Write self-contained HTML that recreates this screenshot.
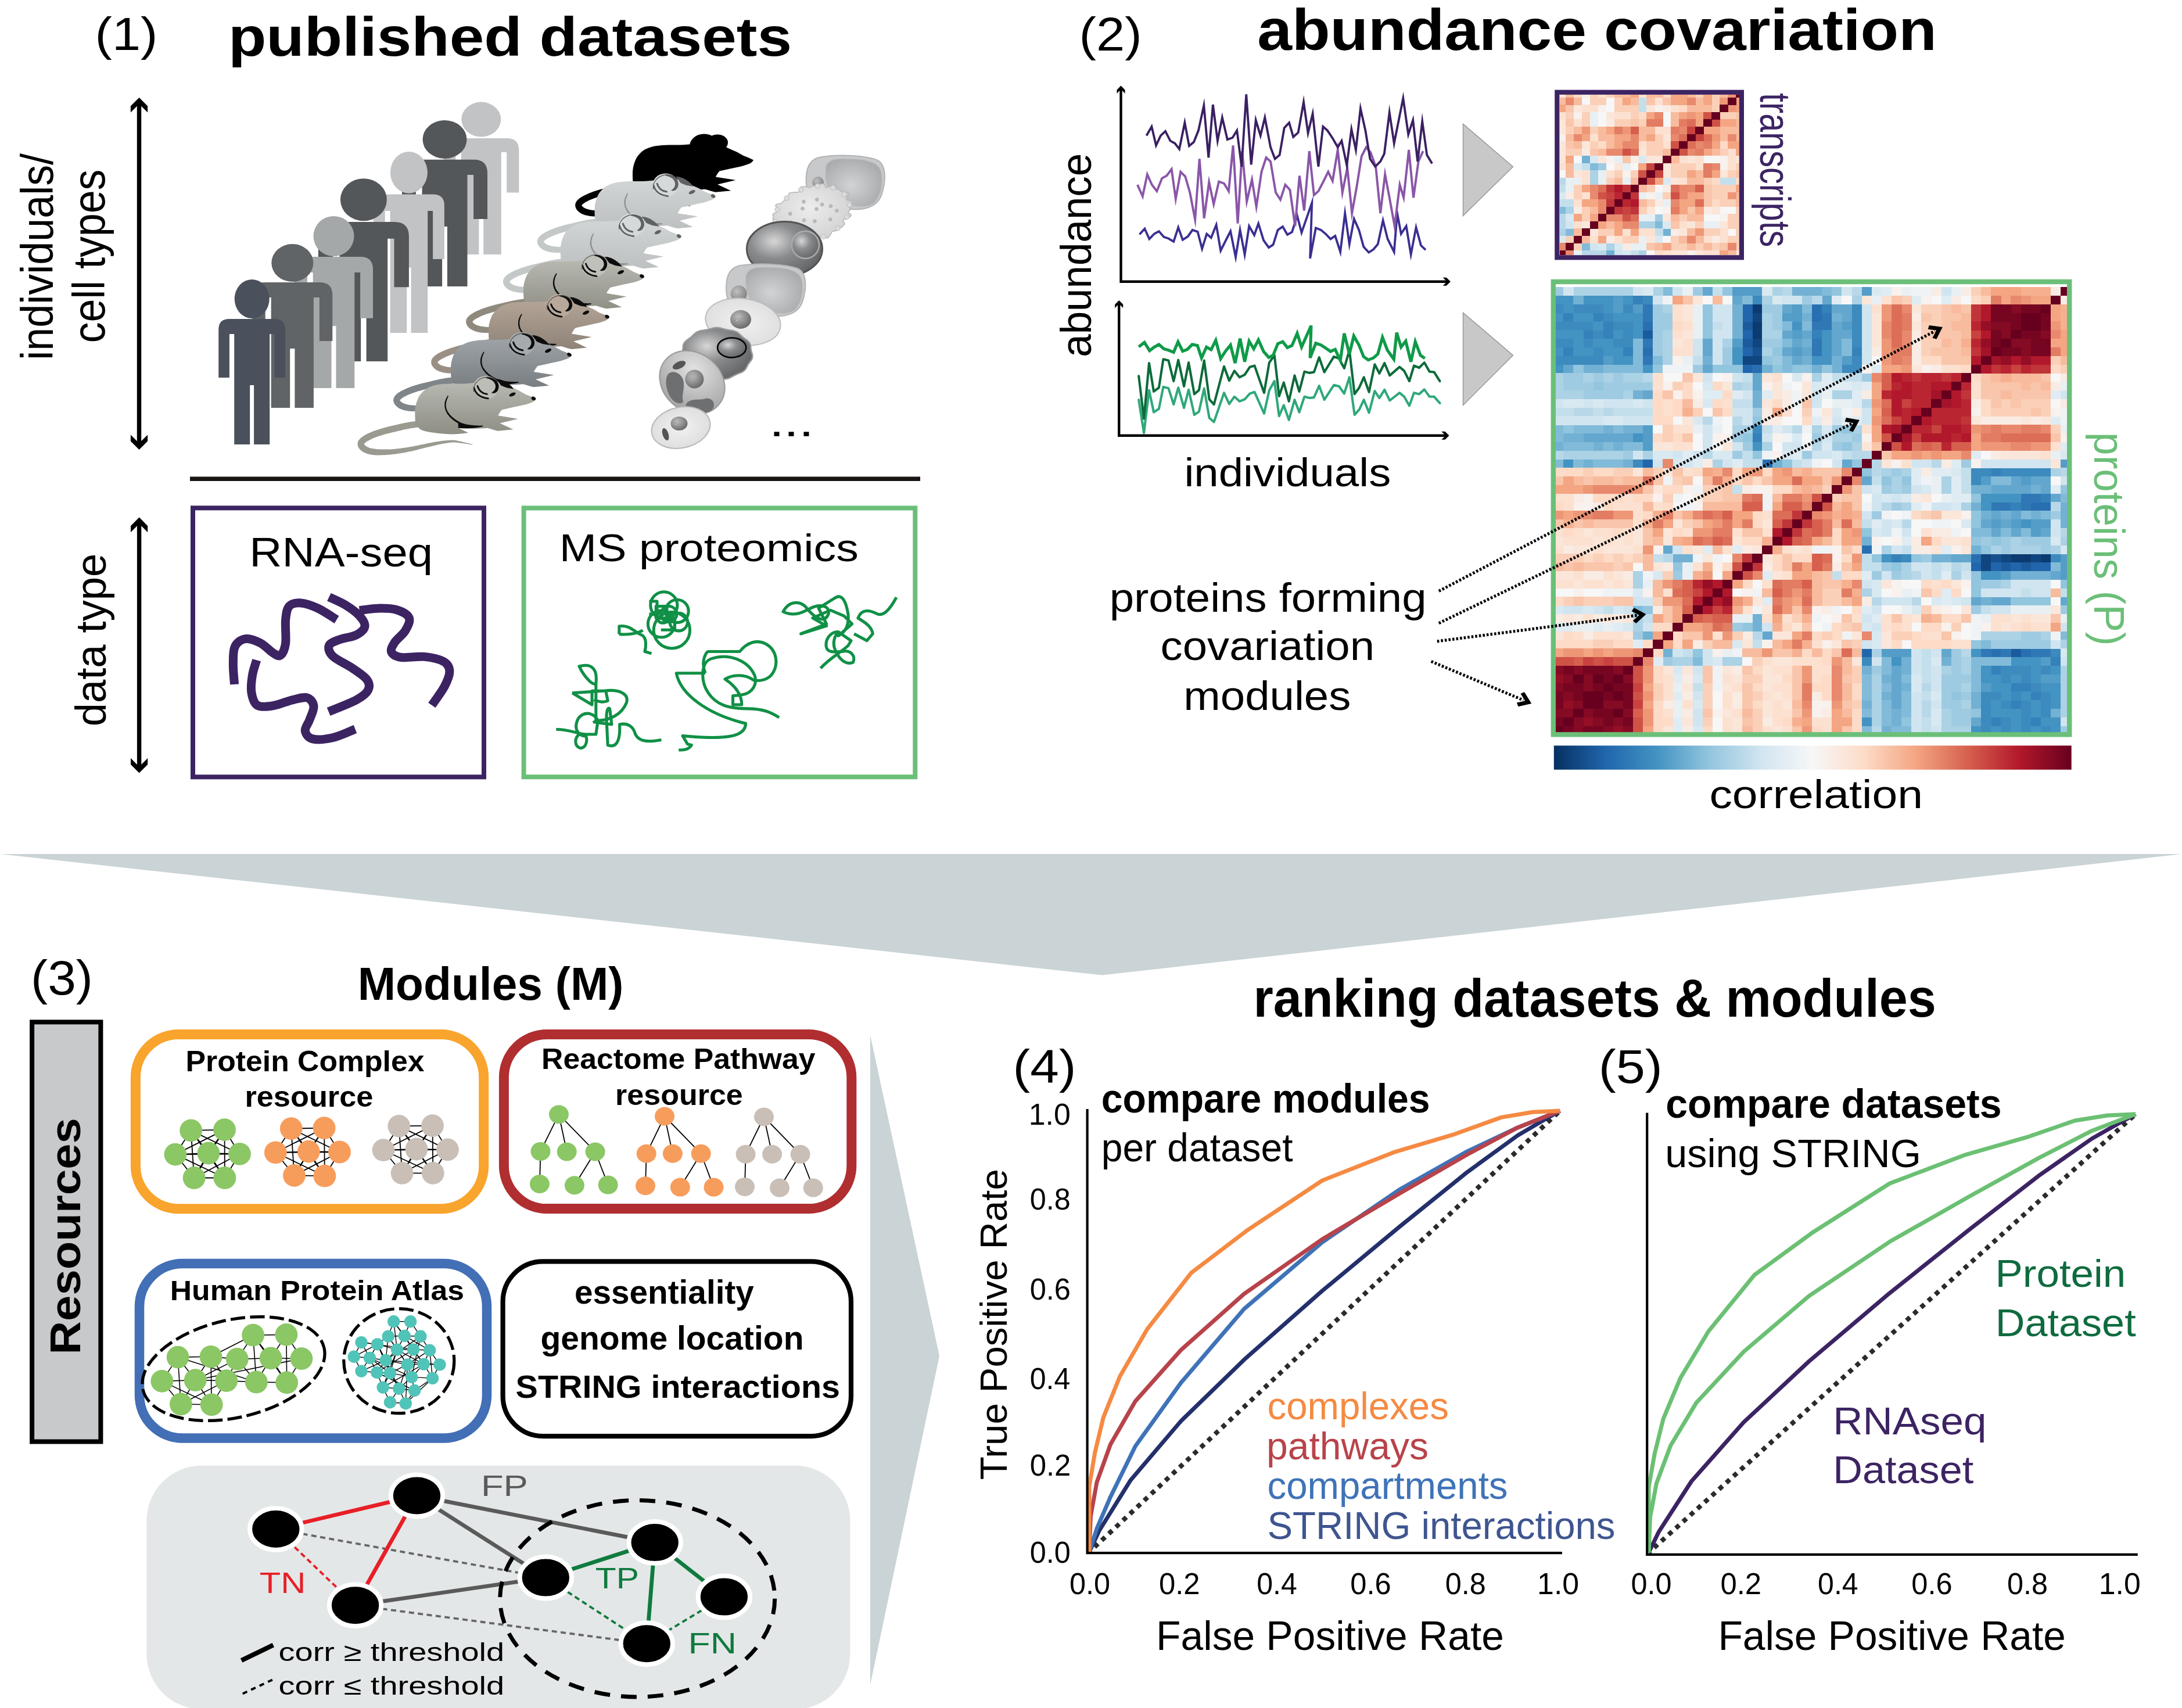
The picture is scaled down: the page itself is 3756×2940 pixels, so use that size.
<!DOCTYPE html>
<html><head><meta charset="utf-8"><title>figure</title>
<style>html,body{margin:0;padding:0;background:#fff}svg{display:block}text{font-family:"Liberation Sans",sans-serif}</style></head>
<body><svg width="3756" height="2940" viewBox="0 0 3756 2940">
<defs><linearGradient id="mLight" x1="0" y1="0" x2="0" y2="1"><stop offset="0" stop-color="#d3d6d6"/><stop offset="1" stop-color="#bcbfbf"/></linearGradient><linearGradient id="mBeige" x1="0" y1="0" x2="0" y2="1"><stop offset="0" stop-color="#b9bab3"/><stop offset="1" stop-color="#8e8e84"/></linearGradient><linearGradient id="mTan" x1="0" y1="0" x2="0" y2="1"><stop offset="0" stop-color="#b5a697"/><stop offset="1" stop-color="#8c8076"/></linearGradient><linearGradient id="mBlue" x1="0" y1="0" x2="0" y2="1"><stop offset="0" stop-color="#a0a5a9"/><stop offset="1" stop-color="#767b80"/></linearGradient><radialGradient id="cDark" cx="0.36" cy="0.36" r="0.7"><stop offset="0" stop-color="#d6d6d6"/><stop offset="0.45" stop-color="#8a8b8d"/><stop offset="1" stop-color="#636466"/></radialGradient><radialGradient id="cDome" cx="0.45" cy="0.55" r="0.6"><stop offset="0" stop-color="#d2d3d4"/><stop offset="1" stop-color="#a9aaac"/></radialGradient><radialGradient id="cLight" cx="0.5" cy="0.5" r="0.6"><stop offset="0" stop-color="#f1f1f1"/><stop offset="1" stop-color="#dcdcdc"/></radialGradient><radialGradient id="cNuc" cx="0.38" cy="0.35" r="0.7"><stop offset="0" stop-color="#bdbdbd"/><stop offset="1" stop-color="#666"/></radialGradient><radialGradient id="cMac" cx="0.4" cy="0.3" r="0.8"><stop offset="0" stop-color="#e2e2e2"/><stop offset="1" stop-color="#9c9c9c"/></radialGradient><radialGradient id="cSpk" cx="0.45" cy="0.4" r="0.7"><stop offset="0" stop-color="#ececec"/><stop offset="1" stop-color="#cdcdcd"/></radialGradient><linearGradient id="cbar" x1="0" y1="0" x2="1" y2="0"><stop offset="0.00" stop-color="#053061"/><stop offset="0.10" stop-color="#2166ac"/><stop offset="0.20" stop-color="#4393c3"/><stop offset="0.30" stop-color="#92c5de"/><stop offset="0.40" stop-color="#d1e5f0"/><stop offset="0.50" stop-color="#f7f7f7"/><stop offset="0.60" stop-color="#fddbc7"/><stop offset="0.70" stop-color="#f4a582"/><stop offset="0.80" stop-color="#d6604d"/><stop offset="0.90" stop-color="#b2182b"/><stop offset="1.00" stop-color="#67001f"/></linearGradient></defs>
<path d="M0,1470H3756L1897,1678.5Z" fill="#cad3d5"/>
<path d="M1498,1782L1617,2334L1498,2900Z" fill="#cad3d5"/>
<text x="53.1" y="1711.5" font-size="83" textLength="106.8" lengthAdjust="spacingAndGlyphs">(3)</text>
<text x="615.7" y="1721" font-size="80.6" font-weight="bold" textLength="457.7" lengthAdjust="spacingAndGlyphs">Modules (M)</text>
<rect x="55.1" y="1759.3" width="118.3" height="722.2" fill="#c8c9cb" stroke="#000" stroke-width="8"/><text transform="translate(138.2,2331.4) rotate(-90)" font-size="75" font-weight="bold" textLength="407.2" lengthAdjust="spacingAndGlyphs">Resources</text>
<rect x="233.4" y="1780.4" width="599.3" height="300.3" rx="74" fill="#fff" stroke="#f8a42d" stroke-width="17"/><rect x="867.4" y="1780.5" width="598.4" height="300.1" rx="74" fill="#fff" stroke="#b02e30" stroke-width="17"/><rect x="240" y="2174.9" width="598" height="300.7" rx="74" fill="#fff" stroke="#426fb5" stroke-width="16.5"/><rect x="865.6" y="2171.4" width="599.4" height="300.7" rx="69" fill="#fff" stroke="#000" stroke-width="8.2"/>
<text x="319.6" y="1844" font-size="50.7" font-weight="bold" textLength="410.9" lengthAdjust="spacingAndGlyphs">Protein Complex</text>
<text x="421.4" y="1905.4" font-size="50.7" font-weight="bold" textLength="221.0" lengthAdjust="spacingAndGlyphs">resource</text>
<text x="932.1" y="1840" font-size="50" font-weight="bold" textLength="471.5" lengthAdjust="spacingAndGlyphs">Reactome Pathway</text>
<text x="1059.1" y="1901.7" font-size="50" font-weight="bold" textLength="219.7" lengthAdjust="spacingAndGlyphs">resource</text>
<text x="292.8" y="2237.6" font-size="49" font-weight="bold" textLength="506.3" lengthAdjust="spacingAndGlyphs">Human Protein Atlas</text>
<text x="989.0" y="2244" font-size="56.5" font-weight="bold" textLength="308.8" lengthAdjust="spacingAndGlyphs">essentiality</text>
<text x="930.5" y="2322.9" font-size="56.5" font-weight="bold" textLength="453.0" lengthAdjust="spacingAndGlyphs">genome location</text>
<text x="887.6" y="2405.6" font-size="55" font-weight="bold" textLength="558.3" lengthAdjust="spacingAndGlyphs">STRING interactions</text>
<g stroke="#000" stroke-width="1.8"><path d="M328.7,1945.9L386.5,1944.6"/><path d="M386.5,1944.6L412.5,1986.3"/><path d="M412.5,1986.3L386.9,2027.5"/><path d="M386.9,2027.5L334.1,2027.5"/><path d="M334.1,2027.5L301.9,1987.1"/><path d="M301.9,1987.1L328.7,1945.9"/><path d="M328.7,1945.9L412.5,1986.3"/><path d="M328.7,1945.9L386.9,2027.5"/><path d="M386.5,1944.6L301.9,1987.1"/><path d="M386.5,1944.6L334.1,2027.5"/><path d="M301.9,1987.1L386.9,2027.5"/><path d="M412.5,1986.3L334.1,2027.5"/><path d="M328.7,1945.9L334.1,2027.5"/><path d="M386.5,1944.6L386.9,2027.5"/><path d="M301.9,1987.1L412.5,1986.3"/><path d="M358.9,1985L328.7,1945.9"/><path d="M358.9,1985L386.5,1944.6"/><path d="M358.9,1985L301.9,1987.1"/><path d="M358.9,1985L412.5,1986.3"/><path d="M358.9,1985L334.1,2027.5"/><path d="M358.9,1985L386.9,2027.5"/></g><g fill="#8bc765"><circle cx="328.7" cy="1945.9" r="19.4"/><circle cx="386.5" cy="1944.6" r="19.4"/><circle cx="301.9" cy="1987.1" r="19.4"/><circle cx="358.9" cy="1985" r="19.4"/><circle cx="412.5" cy="1986.3" r="19.4"/><circle cx="334.1" cy="2027.5" r="19.4"/><circle cx="386.9" cy="2027.5" r="19.4"/></g>
<g stroke="#000" stroke-width="1.8"><path d="M501.2,1942.6L558.1,1941.7"/><path d="M558.1,1941.7L584.5,1983"/><path d="M584.5,1983L558.9,2024.2"/><path d="M558.9,2024.2L506.5,2023.4"/><path d="M506.5,2023.4L474.3,1983.8"/><path d="M474.3,1983.8L501.2,1942.6"/><path d="M501.2,1942.6L584.5,1983"/><path d="M501.2,1942.6L558.9,2024.2"/><path d="M558.1,1941.7L474.3,1983.8"/><path d="M558.1,1941.7L506.5,2023.4"/><path d="M474.3,1983.8L558.9,2024.2"/><path d="M584.5,1983L506.5,2023.4"/><path d="M501.2,1942.6L506.5,2023.4"/><path d="M558.1,1941.7L558.9,2024.2"/><path d="M474.3,1983.8L584.5,1983"/><path d="M531.3,1982.2L501.2,1942.6"/><path d="M531.3,1982.2L558.1,1941.7"/><path d="M531.3,1982.2L474.3,1983.8"/><path d="M531.3,1982.2L584.5,1983"/><path d="M531.3,1982.2L506.5,2023.4"/><path d="M531.3,1982.2L558.9,2024.2"/></g><g fill="#f79d5c"><circle cx="501.2" cy="1942.6" r="19.4"/><circle cx="558.1" cy="1941.7" r="19.4"/><circle cx="474.3" cy="1983.8" r="19.4"/><circle cx="531.3" cy="1982.2" r="19.4"/><circle cx="584.5" cy="1983" r="19.4"/><circle cx="506.5" cy="2023.4" r="19.4"/><circle cx="558.9" cy="2024.2" r="19.4"/></g>
<g stroke="#000" stroke-width="1.8"><path d="M686.8,1938.4L744.5,1937.6"/><path d="M744.5,1937.6L770.5,1978.9"/><path d="M770.5,1978.9L745.3,2019.3"/><path d="M745.3,2019.3L692.1,2019.3"/><path d="M692.1,2019.3L660,1979.7"/><path d="M660,1979.7L686.8,1938.4"/><path d="M686.8,1938.4L770.5,1978.9"/><path d="M686.8,1938.4L745.3,2019.3"/><path d="M744.5,1937.6L660,1979.7"/><path d="M744.5,1937.6L692.1,2019.3"/><path d="M660,1979.7L745.3,2019.3"/><path d="M770.5,1978.9L692.1,2019.3"/><path d="M686.8,1938.4L692.1,2019.3"/><path d="M744.5,1937.6L745.3,2019.3"/><path d="M660,1979.7L770.5,1978.9"/><path d="M716.9,1978L686.8,1938.4"/><path d="M716.9,1978L744.5,1937.6"/><path d="M716.9,1978L660,1979.7"/><path d="M716.9,1978L770.5,1978.9"/><path d="M716.9,1978L692.1,2019.3"/><path d="M716.9,1978L745.3,2019.3"/></g><g fill="#c9bfb6"><circle cx="686.8" cy="1938.4" r="19.4"/><circle cx="744.5" cy="1937.6" r="19.4"/><circle cx="660" cy="1979.7" r="19.4"/><circle cx="716.9" cy="1978" r="19.4"/><circle cx="770.5" cy="1978.9" r="19.4"/><circle cx="692.1" cy="2019.3" r="19.4"/><circle cx="745.3" cy="2019.3" r="19.4"/></g>
<g stroke="#000" stroke-width="1.8"><path d="M961.9,1918.2L930.5,1981.9"/><path d="M961.9,1918.2L975.7,1982.5"/><path d="M961.9,1918.2L1024.6,1982.5"/><path d="M930.5,1981.9L928.9,2038"/><path d="M1024.6,1982.5L988.9,2040.3"/><path d="M1024.6,1982.5L1046.7,2039.6"/></g><g fill="#8bc765"><ellipse cx="961.9" cy="1918.2" rx="17" ry="16"/><ellipse cx="930.5" cy="1981.9" rx="17" ry="16"/><ellipse cx="975.7" cy="1982.5" rx="17" ry="16"/><ellipse cx="1024.6" cy="1982.5" rx="17" ry="16"/><ellipse cx="928.9" cy="2038" rx="17" ry="16"/><ellipse cx="988.9" cy="2040.3" rx="17" ry="16"/><ellipse cx="1046.7" cy="2039.6" rx="17" ry="16"/></g>
<g stroke="#000" stroke-width="1.8"><path d="M1144,1921.5L1112.7,1985.8"/><path d="M1144,1921.5L1157.9,1985.8"/><path d="M1144,1921.5L1206.7,1985.8"/><path d="M1112.7,1985.8L1111,2041.3"/><path d="M1206.7,1985.8L1170.8,2043.6"/><path d="M1206.7,1985.8L1228.5,2043.6"/></g><g fill="#f79d5c"><ellipse cx="1144" cy="1921.5" rx="17" ry="16"/><ellipse cx="1112.7" cy="1985.8" rx="17" ry="16"/><ellipse cx="1157.9" cy="1985.8" rx="17" ry="16"/><ellipse cx="1206.7" cy="1985.8" rx="17" ry="16"/><ellipse cx="1111" cy="2041.3" rx="17" ry="16"/><ellipse cx="1170.8" cy="2043.6" rx="17" ry="16"/><ellipse cx="1228.5" cy="2043.6" rx="17" ry="16"/></g>
<g stroke="#000" stroke-width="1.8"><path d="M1315,1922.5L1283.6,1986.8"/><path d="M1315,1922.5L1329.1,1986.8"/><path d="M1315,1922.5L1377.6,1986.8"/><path d="M1283.6,1986.8L1282,2042.9"/><path d="M1377.6,1986.8L1342,2044.6"/><path d="M1377.6,1986.8L1399.8,2044.6"/></g><g fill="#c9bfb6"><ellipse cx="1315" cy="1922.5" rx="17" ry="16"/><ellipse cx="1283.6" cy="1986.8" rx="17" ry="16"/><ellipse cx="1329.1" cy="1986.8" rx="17" ry="16"/><ellipse cx="1377.6" cy="1986.8" rx="17" ry="16"/><ellipse cx="1282" cy="2042.9" rx="17" ry="16"/><ellipse cx="1342" cy="2044.6" rx="17" ry="16"/><ellipse cx="1399.8" cy="2044.6" rx="17" ry="16"/></g>
<g stroke="#000" stroke-width="1.6"><path d="M435.6,2298.2L492.9,2297.4"/><path d="M435.6,2298.2L363,2335.3"/><path d="M435.6,2298.2L408.3,2339.4"/><path d="M435.6,2298.2L466.1,2337.8"/><path d="M435.6,2298.2L441.3,2379"/><path d="M435.6,2298.2L493.7,2379.9"/><path d="M492.9,2297.4L466.1,2337.8"/><path d="M492.9,2297.4L518.9,2338.6"/><path d="M492.9,2297.4L493.7,2379.9"/><path d="M306.1,2336.1L363,2335.3"/><path d="M306.1,2336.1L278.8,2377.4"/><path d="M306.1,2336.1L336.2,2375.7"/><path d="M306.1,2336.1L441.3,2379"/><path d="M306.1,2336.1L311.4,2417"/><path d="M363,2335.3L408.3,2339.4"/><path d="M363,2335.3L336.2,2375.7"/><path d="M363,2335.3L389.8,2376.6"/><path d="M363,2335.3L364.2,2417.8"/><path d="M408.3,2339.4L466.1,2337.8"/><path d="M408.3,2339.4L336.2,2375.7"/><path d="M408.3,2339.4L389.8,2376.6"/><path d="M408.3,2339.4L441.3,2379"/><path d="M466.1,2337.8L518.9,2338.6"/><path d="M466.1,2337.8L441.3,2379"/><path d="M466.1,2337.8L493.7,2379.9"/><path d="M518.9,2338.6L336.2,2375.7"/><path d="M518.9,2338.6L493.7,2379.9"/><path d="M278.8,2377.4L336.2,2375.7"/><path d="M278.8,2377.4L311.4,2417"/><path d="M278.8,2377.4L364.2,2417.8"/><path d="M336.2,2375.7L389.8,2376.6"/><path d="M336.2,2375.7L311.4,2417"/><path d="M336.2,2375.7L364.2,2417.8"/><path d="M389.8,2376.6L441.3,2379"/><path d="M389.8,2376.6L311.4,2417"/><path d="M389.8,2376.6L364.2,2417.8"/><path d="M441.3,2379L493.7,2379.9"/><path d="M311.4,2417L364.2,2417.8"/></g><g fill="#8bc765"><circle cx="435.6" cy="2298.2" r="19.4"/><circle cx="492.9" cy="2297.4" r="19.4"/><circle cx="306.1" cy="2336.1" r="19.4"/><circle cx="363" cy="2335.3" r="19.4"/><circle cx="408.3" cy="2339.4" r="19.4"/><circle cx="466.1" cy="2337.8" r="19.4"/><circle cx="518.9" cy="2338.6" r="19.4"/><circle cx="278.8" cy="2377.4" r="19.4"/><circle cx="336.2" cy="2375.7" r="19.4"/><circle cx="389.8" cy="2376.6" r="19.4"/><circle cx="441.3" cy="2379" r="19.4"/><circle cx="493.7" cy="2379.9" r="19.4"/><circle cx="311.4" cy="2417" r="19.4"/><circle cx="364.2" cy="2417.8" r="19.4"/></g><ellipse cx="402" cy="2356" rx="160" ry="84" transform="rotate(-13 402 2356)" fill="none" stroke="#000" stroke-width="5.2" stroke-dasharray="25 8.5"/>
<g stroke="#000" stroke-width="1.4"><path d="M677.7,2274.7L706.6,2274.7"/><path d="M677.7,2274.7L668.2,2300.3"/><path d="M677.7,2274.7L696.3,2299.4"/><path d="M677.7,2274.7L683.5,2323.3"/><path d="M677.7,2274.7L729.3,2348.1"/><path d="M706.6,2274.7L696.3,2299.4"/><path d="M706.6,2274.7L723.9,2300.3"/><path d="M668.2,2300.3L696.3,2299.4"/><path d="M668.2,2300.3L649.6,2313.9"/><path d="M668.2,2300.3L683.5,2323.3"/><path d="M668.2,2300.3L664.1,2341.5"/><path d="M668.2,2300.3L701.2,2348.9"/><path d="M696.3,2299.4L723.9,2300.3"/><path d="M696.3,2299.4L683.5,2323.3"/><path d="M696.3,2299.4L711.5,2322.9"/><path d="M696.3,2299.4L739.6,2324.2"/><path d="M723.9,2300.3L711.5,2322.9"/><path d="M723.9,2300.3L739.6,2324.2"/><path d="M723.9,2300.3L664.1,2341.5"/><path d="M723.9,2300.3L708.6,2370.4"/><path d="M622,2310.6L649.6,2313.9"/><path d="M622,2310.6L711.5,2322.9"/><path d="M622,2310.6L609.2,2335.3"/><path d="M622,2310.6L636.4,2337.4"/><path d="M649.6,2313.9L683.5,2323.3"/><path d="M649.6,2313.9L609.2,2335.3"/><path d="M649.6,2313.9L636.4,2337.4"/><path d="M649.6,2313.9L664.1,2341.5"/><path d="M649.6,2313.9L671.5,2363.4"/><path d="M683.5,2323.3L711.5,2322.9"/><path d="M683.5,2323.3L664.1,2341.5"/><path d="M683.5,2323.3L701.2,2348.9"/><path d="M683.5,2323.3L729.3,2348.1"/><path d="M683.5,2323.3L671.5,2363.4"/><path d="M683.5,2323.3L659.1,2388.1"/><path d="M711.5,2322.9L739.6,2324.2"/><path d="M711.5,2322.9L701.2,2348.9"/><path d="M711.5,2322.9L729.3,2348.1"/><path d="M711.5,2322.9L648.8,2362.5"/><path d="M739.6,2324.2L701.2,2348.9"/><path d="M739.6,2324.2L729.3,2348.1"/><path d="M739.6,2324.2L756.9,2348.9"/><path d="M739.6,2324.2L744.5,2372.4"/><path d="M609.2,2335.3L636.4,2337.4"/><path d="M609.2,2335.3L622,2360.1"/><path d="M636.4,2337.4L664.1,2341.5"/><path d="M636.4,2337.4L622,2360.1"/><path d="M636.4,2337.4L648.8,2362.5"/><path d="M636.4,2337.4L671.5,2363.4"/><path d="M636.4,2337.4L708.6,2370.4"/><path d="M664.1,2341.5L701.2,2348.9"/><path d="M664.1,2341.5L756.9,2348.9"/><path d="M664.1,2341.5L622,2360.1"/><path d="M664.1,2341.5L648.8,2362.5"/><path d="M664.1,2341.5L671.5,2363.4"/><path d="M664.1,2341.5L686.8,2390.2"/><path d="M701.2,2348.9L729.3,2348.1"/><path d="M701.2,2348.9L671.5,2363.4"/><path d="M701.2,2348.9L708.6,2370.4"/><path d="M701.2,2348.9L686.8,2390.2"/><path d="M701.2,2348.9L698.3,2415.7"/><path d="M729.3,2348.1L756.9,2348.9"/><path d="M729.3,2348.1L708.6,2370.4"/><path d="M729.3,2348.1L744.5,2372.4"/><path d="M729.3,2348.1L659.1,2388.1"/><path d="M756.9,2348.9L744.5,2372.4"/><path d="M622,2360.1L648.8,2362.5"/><path d="M648.8,2362.5L671.5,2363.4"/><path d="M648.8,2362.5L659.1,2388.1"/><path d="M648.8,2362.5L713.6,2393.5"/><path d="M671.5,2363.4L708.6,2370.4"/><path d="M671.5,2363.4L659.1,2388.1"/><path d="M671.5,2363.4L686.8,2390.2"/><path d="M708.6,2370.4L744.5,2372.4"/><path d="M708.6,2370.4L686.8,2390.2"/><path d="M708.6,2370.4L713.6,2393.5"/><path d="M744.5,2372.4L713.6,2393.5"/><path d="M744.5,2372.4L698.3,2415.7"/><path d="M659.1,2388.1L686.8,2390.2"/><path d="M659.1,2388.1L671.5,2413.7"/><path d="M686.8,2390.2L713.6,2393.5"/><path d="M686.8,2390.2L671.5,2413.7"/><path d="M686.8,2390.2L698.3,2415.7"/><path d="M713.6,2393.5L698.3,2415.7"/><path d="M671.5,2413.7L698.3,2415.7"/></g><g fill="#50c4b8"><circle cx="677.7" cy="2274.7" r="10.7"/><circle cx="706.6" cy="2274.7" r="10.7"/><circle cx="668.2" cy="2300.3" r="10.7"/><circle cx="696.3" cy="2299.4" r="10.7"/><circle cx="723.9" cy="2300.3" r="10.7"/><circle cx="622" cy="2310.6" r="10.7"/><circle cx="649.6" cy="2313.9" r="10.7"/><circle cx="683.5" cy="2323.3" r="10.7"/><circle cx="711.5" cy="2322.9" r="10.7"/><circle cx="739.6" cy="2324.2" r="10.7"/><circle cx="609.2" cy="2335.3" r="10.7"/><circle cx="636.4" cy="2337.4" r="10.7"/><circle cx="664.1" cy="2341.5" r="10.7"/><circle cx="701.2" cy="2348.9" r="10.7"/><circle cx="729.3" cy="2348.1" r="10.7"/><circle cx="756.9" cy="2348.9" r="10.7"/><circle cx="622" cy="2360.1" r="10.7"/><circle cx="648.8" cy="2362.5" r="10.7"/><circle cx="671.5" cy="2363.4" r="10.7"/><circle cx="708.6" cy="2370.4" r="10.7"/><circle cx="744.5" cy="2372.4" r="10.7"/><circle cx="659.1" cy="2388.1" r="10.7"/><circle cx="686.8" cy="2390.2" r="10.7"/><circle cx="713.6" cy="2393.5" r="10.7"/><circle cx="671.5" cy="2413.7" r="10.7"/><circle cx="698.3" cy="2415.7" r="10.7"/></g><ellipse cx="686.8" cy="2342.7" rx="95" ry="90" fill="none" stroke="#000" stroke-width="5.2" stroke-dasharray="25 8.5"/>
<rect x="252.3" y="2522.7" width="1211.1" height="419.3" rx="95" fill="#e4e7e7"/>
<path d="M474.8,2632L939.3,2715.6" stroke="#666" stroke-width="3.8" stroke-dasharray="9 6.5" fill="none"/><path d="M611.6,2763.2L1113.3,2829.2" stroke="#666" stroke-width="3.8" stroke-dasharray="9 6.5" fill="none"/><path d="M474.8,2632L611.6,2763.2" stroke="#e81f27" stroke-width="3.8" stroke-dasharray="9 6" fill="none"/><path d="M939.3,2715.6L1113.3,2829.2" stroke="#0f7b3f" stroke-width="3.8" stroke-dasharray="9 6" fill="none"/><path d="M1246.4,2748.6L1113.3,2829.2" stroke="#0f7b3f" stroke-width="3.8" stroke-dasharray="9 6" fill="none"/><path d="M474.8,2632L717.5,2574.4" stroke="#e81f27" stroke-width="6.8" fill="none"/><path d="M717.5,2574.4L611.6,2763.2" stroke="#e81f27" stroke-width="6.8" fill="none"/><path d="M717.5,2574.4L939.3,2715.6" stroke="#5a5a5a" stroke-width="6.8" fill="none"/><path d="M717.5,2574.4L1127.2,2655.1" stroke="#5a5a5a" stroke-width="6.8" fill="none"/><path d="M611.6,2763.2L939.3,2715.6" stroke="#5a5a5a" stroke-width="6.8" fill="none"/><path d="M939.3,2715.6L1127.2,2655.1" stroke="#0f7b3f" stroke-width="6.8" fill="none"/><path d="M1127.2,2655.1L1246.4,2748.6" stroke="#0f7b3f" stroke-width="6.8" fill="none"/><path d="M1127.2,2655.1L1113.3,2829.2" stroke="#0f7b3f" stroke-width="6.8" fill="none"/><ellipse cx="1097.2" cy="2751.7" rx="236.5" ry="169.2" fill="none" stroke="#000" stroke-width="7" stroke-dasharray="27 19"/><ellipse cx="474.8" cy="2632" rx="44.7" ry="36" fill="#000" stroke="#fff" stroke-width="8"/><ellipse cx="717.5" cy="2574.4" rx="44.7" ry="36" fill="#000" stroke="#fff" stroke-width="8"/><ellipse cx="611.6" cy="2763.2" rx="44.7" ry="36" fill="#000" stroke="#fff" stroke-width="8"/><ellipse cx="939.3" cy="2715.6" rx="44.7" ry="36" fill="#000" stroke="#fff" stroke-width="8"/><ellipse cx="1127.2" cy="2655.1" rx="44.7" ry="36" fill="#000" stroke="#fff" stroke-width="8"/><ellipse cx="1246.4" cy="2748.6" rx="44.7" ry="36" fill="#000" stroke="#fff" stroke-width="8"/><ellipse cx="1113.3" cy="2829.2" rx="44.7" ry="36" fill="#000" stroke="#fff" stroke-width="8"/>
<text x="446.8" y="2741.5" font-size="50" fill="#e81f27" textLength="79.5" lengthAdjust="spacingAndGlyphs">TN</text>
<text x="827.9" y="2574.7" font-size="50" fill="#5a5a5a" textLength="81.0" lengthAdjust="spacingAndGlyphs">FP</text>
<text x="1024.8" y="2733.8" font-size="50" fill="#0f7b3f" textLength="75.1" lengthAdjust="spacingAndGlyphs">TP</text>
<text x="1184.6" y="2845.7" font-size="50" fill="#0f7b3f" textLength="83.5" lengthAdjust="spacingAndGlyphs">FN</text>
<text x="479.6" y="2859.3" font-size="44" textLength="388.6" lengthAdjust="spacingAndGlyphs">corr ≥ threshold</text>
<text x="479.6" y="2916.9" font-size="44" textLength="388.6" lengthAdjust="spacingAndGlyphs">corr ≤ threshold</text>
<path d="M415.6,2858.1L470.3,2831.6" stroke="#000" stroke-width="8"/><path d="M417.7,2915.4L470.6,2890.7" stroke="#000" stroke-width="3.9" stroke-dasharray="8.5 7.5"/>
<text x="163.6" y="85.5" font-size="80" textLength="107.8" lengthAdjust="spacingAndGlyphs">(1)</text>
<text x="392.9" y="96" font-size="94" font-weight="bold" textLength="970.2" lengthAdjust="spacingAndGlyphs">published datasets</text>
<text transform="translate(91,619.7) rotate(-90)" font-size="77" textLength="355.8" lengthAdjust="spacingAndGlyphs">individuals/</text>
<text transform="translate(180,590.2) rotate(-90)" font-size="77" textLength="298.6" lengthAdjust="spacingAndGlyphs">cell types</text>
<text transform="translate(182.2,1250.3) rotate(-90)" font-size="75" textLength="297.6" lengthAdjust="spacingAndGlyphs">data type</text>
<path d="M239.5,178V764" stroke="#000" stroke-width="7.4" fill="none"/><path transform="translate(239.5,168)" d="M0,0L14.6,14.6V25.6L3.7,14.7H-3.7L-14.6,25.6V14.6Z"/><path transform="translate(239.5,774)" d="M0,0L14.6,-14.6V-25.6L3.7,-14.7H-3.7L-14.6,-25.6V-14.6Z"/>
<path d="M239.6,900.6V1320.6" stroke="#000" stroke-width="7.4" fill="none"/><path transform="translate(239.6,890.6)" d="M0,0L14.6,14.6V25.6L3.7,14.7H-3.7L-14.6,25.6V14.6Z"/><path transform="translate(239.6,1330.6)" d="M0,0L14.6,-14.6V-25.6L3.7,-14.7H-3.7L-14.6,-25.6V-14.6Z"/>
<rect x="327" y="820.5" width="1257" height="7.5" fill="#1a1512"/>
<rect x="332" y="874.4" width="501" height="463" fill="none" stroke="#3c2463" stroke-width="8"/>
<rect x="901.6" y="874.5" width="673.7" height="462.8" fill="none" stroke="#6bbf78" stroke-width="8"/>
<text x="429.3" y="975" font-size="70" textLength="315.7" lengthAdjust="spacingAndGlyphs">RNA-seq</text>
<text x="962.7" y="966.2" font-size="67" textLength="515.1" lengthAdjust="spacingAndGlyphs">MS proteomics</text>
<rect x="1332.5" y="743.3" width="9" height="7.5"/><rect x="1357.5" y="743.3" width="9" height="7.5"/><rect x="1383.5" y="743.3" width="9" height="7.5"/>
<g fill="#c1c3c4"><path d="M763.3,331.6V258.8Q763.3,238 784.1,238H872.5Q893.3,238 893.3,258.8V331.6H872.2V262H862.8V438H832.2V343.6H824.4V438H793.8V262H784.4V331.6Z"/><ellipse cx="828.3" cy="205.6" rx="34" ry="30"/></g>
<g fill="#53575a"><path d="M692,376.9V298.3Q692,274.8 715.5,274.8H815.5Q839,274.8 839,298.3V376.9H815.1V301H804.5V493H769.9V390H761.1V493H726.5V301H715.9V376.9Z"/><ellipse cx="765.5" cy="240" rx="38" ry="33"/></g>
<g fill="#c1c3c4"><path d="M642.9,446.1V354Q642.9,334.5 662.4,334.5H745.4Q764.9,334.5 764.9,354V446.1H745.1V363.1H736.2V573H707.6V460.4H700.2V573H671.6V363.1H662.7V446.1Z"/><ellipse cx="703.9" cy="296.9" rx="32" ry="35.8"/></g>
<g fill="#53575a"><path d="M547.9,494.3V407Q547.9,382 572.9,382H678.9Q703.9,382 703.9,407V494.3H678.5V410.8H667.2V622H630.6V508.7H621.2V622H584.6V410.8H573.2V494.3Z"/><ellipse cx="625.9" cy="343.7" rx="40" ry="36.5"/></g>
<g fill="#a5a8a9"><path d="M507,547.8V463.6Q507,442 528.6,442H620.4Q642,442 642,463.6V547.8H620.1V469.1H610.3V668H578.5V561.3H570.5V668H538.7V469.1H528.9V547.8Z"/><ellipse cx="574.5" cy="406.5" rx="35" ry="34.6"/></g>
<g fill="#606466"><path d="M434.3,587.1V508.1Q434.3,486 456.4,486H550.2Q572.3,486 572.3,508.1V587.1H549.9V511.9H539.9V702H507.4V600H499.2V702H466.7V511.9H456.7V587.1Z"/><ellipse cx="503.3" cy="452.5" rx="36" ry="32.5"/></g>
<g fill="#4a515c"><path d="M376.2,650.1V567.4Q376.2,549 394.6,549H472.8Q491.2,549 491.2,567.4V650.1H472.5V574.9H464.2V765H437.1V663H430.2V765H403.2V574.9H394.9V650.1Z"/><ellipse cx="433.7" cy="514.5" rx="30" ry="33.5"/></g>
<g transform="translate(1297,275.5)"><polygon points="-200.9,37.5 -203.3,37.8 -206.7,38.4 -210.7,39 -215,39.6 -219.2,40.3 -223,41 -226.3,41.6 -229.3,42.3 -232.2,42.9 -235.1,43.6 -238.1,44.3 -241.3,45.1 -244.8,45.9 -248.5,46.8 -252.3,47.7 -256.2,48.6 -260,49.6 -263.5,50.6 -266.9,51.6 -270.1,52.6 -273.3,53.6 -276.3,54.6 -279.3,55.7 -282.1,56.8 -284.9,58 -287.6,59.2 -290.2,60.4 -292.7,61.7 -295,63 -297.1,64.3 -299,65.6 -300.8,67 -302.4,68.5 -303.9,70.1 -305.2,71.9 -306.3,74.2 -306.8,76.7 -306.8,79.1 -306.3,81.3 -305.5,83.3 -304.5,85 -303.3,86.5 -302,88 -300.5,89.3 -298.9,90.6 -297.1,91.7 -295.1,92.7 -293.1,93.6 -290.9,94.4 -288.7,95 -286.3,95.6 -283.9,96.1 -281.3,96.5 -278.6,96.8 -275.7,97 -272.7,97.1 -269.6,97.1 -266.4,97 -263.1,96.9 -259.9,96.8 -256.6,96.6 -253.4,96.4 -250.1,96.1 -246.7,95.7 -243.2,95.3 -239.5,94.8 -235.5,94.2 -231.4,93.6 -227.1,92.8 -222.8,92 -218.5,91.2 -214.3,90.3 -210.1,89.3 -205.8,88.3 -201.6,87.2 -197.5,86.2 -193.6,85.1 -189.9,84.2 -186.4,83.4 -183.1,82.6 -180,81.8 -177.1,81.1 -174.2,80.4 -171.4,79.8 -168.8,79.2 -166.5,78.7 -164.2,78.2 -162,77.8 -159.7,77.3 -157.3,76.9 -154.7,76.5 -151.9,76.1 -149.1,75.7 -146.4,75.4 -143.7,75.1 -141.1,75 -138.6,75.1 -136.2,75.3 -133.8,75.6 -131.4,76 -128.9,76.3 -126.2,76.7 -123.3,77.1 -120,77.6 -116.7,78.2 -113.5,78.7 -110.9,79.1 -109,79.4 -108.8,78.6 -110.7,78.1 -113.3,77.4 -116.4,76.6 -119.6,75.8 -122.9,75 -125.8,74.3 -128.3,73.7 -130.8,73.1 -133.3,72.5 -135.7,72 -138.3,71.6 -140.9,71.4 -143.7,71.2 -146.6,71.3 -149.5,71.4 -152.4,71.6 -155.2,71.8 -157.9,72.1 -160.4,72.3 -162.8,72.6 -165.1,73 -167.5,73.3 -169.9,73.8 -172.6,74.2 -175.4,74.7 -178.3,75.2 -181.3,75.8 -184.5,76.4 -187.8,77.1 -191.3,77.8 -195.1,78.5 -199.1,79.4 -203.2,80.3 -207.4,81.1 -211.6,82 -215.7,82.7 -219.9,83.4 -224.2,84.1 -228.4,84.7 -232.6,85.3 -236.7,85.8 -240.5,86.2 -244.1,86.5 -247.5,86.8 -250.8,87 -253.9,87.1 -257,87.2 -260.1,87.2 -263.2,87.2 -266.3,87.1 -269.3,87 -272.2,86.8 -274.9,86.5 -277.4,86.2 -279.7,85.9 -281.9,85.5 -283.9,85 -285.7,84.5 -287.4,84 -288.9,83.4 -290.3,82.8 -291.5,82.1 -292.5,81.4 -293.4,80.7 -294.1,80.1 -294.7,79.5 -295.1,78.9 -295.4,78.3 -295.6,77.9 -295.7,77.7 -295.7,77.7 -295.7,77.8 -295.6,77.7 -295.3,77.2 -294.6,76.5 -293.6,75.7 -292.4,74.7 -290.9,73.7 -289.3,72.6 -287.3,71.6 -285.2,70.5 -282.9,69.3 -280.4,68.2 -277.9,67.2 -275.3,66.2 -272.6,65.2 -269.7,64.2 -266.8,63.3 -263.7,62.3 -260.5,61.4 -257.1,60.4 -253.4,59.5 -249.7,58.6 -245.9,57.6 -242.2,56.8 -238.7,55.9 -235.5,55.2 -232.6,54.5 -229.8,53.8 -227,53.2 -224.1,52.6 -221,52 -217.4,51.4 -213.3,50.7 -209,50 -205,49.4 -201.6,48.9 -199.1,48.5" fill="#000"/><path d="M0,0C-6,-3 -12,-5.5 -17.3,-7.4C-21,-9.5 -25,-12 -28.9,-14C-34,-16.5 -39,-18.5 -43.7,-20.6C-55,-27 -70,-33 -90,-32C-96,-30 -102,-28.5 -108,-27.2C-116,-26.3 -124,-26 -132.8,-25.9C-141,-25.8 -150,-25.8 -157.6,-25.6C-163,-25.2 -169,-24.4 -174,-23.1C-180,-21.5 -186,-19 -190.6,-15.7C-195,-12 -199,-8 -202,-2.5C-205,4 -207.5,11 -207.9,19C-208.3,27 -208,35 -207,42C-205,47 -201,51 -197.2,53.6C-190,56.5 -182,58 -174,58.6C-163,60 -152,61 -141,61C-133,60.6 -124,59.8 -116.3,58.6L-132.8,50.3C-118,52 -100,51.5 -83.3,50.3C-77,52 -71,54 -65.2,55.3L-38.8,52.8L-61.9,42L-30.5,34.6L-65.2,28.9C-63,25 -61,22 -58.6,19C-46,16 -33,13.5 -20.6,10.7C-15,9 -10,7.5 -5.8,5.8C-3,4 -1,2 0,0Z" fill="#000"/><ellipse cx="-85" cy="-24" rx="25" ry="21" fill="#000"/><ellipse cx="-62" cy="-30" rx="18" ry="14" fill="#000"/></g>
<g transform="translate(1231.6,338)"><polygon points="-200.9,37.5 -203.3,37.8 -206.7,38.4 -210.7,39 -215,39.6 -219.2,40.3 -223,41 -226.3,41.6 -229.3,42.3 -232.2,42.9 -235.1,43.6 -238.1,44.3 -241.3,45.1 -244.8,45.9 -248.5,46.8 -252.3,47.7 -256.2,48.6 -260,49.6 -263.5,50.6 -266.9,51.6 -270.1,52.6 -273.3,53.6 -276.3,54.6 -279.3,55.7 -282.1,56.8 -284.9,58 -287.6,59.2 -290.2,60.4 -292.7,61.7 -295,63 -297.1,64.3 -299,65.6 -300.8,67 -302.4,68.5 -303.9,70.1 -305.2,71.9 -306.3,74.2 -306.8,76.7 -306.8,79.1 -306.3,81.3 -305.5,83.3 -304.5,85 -303.3,86.5 -302,88 -300.5,89.3 -298.9,90.6 -297.1,91.7 -295.1,92.7 -293.1,93.6 -290.9,94.4 -288.7,95 -286.3,95.6 -283.9,96.1 -281.3,96.5 -278.6,96.8 -275.7,97 -272.7,97.1 -269.6,97.1 -266.4,97 -263.1,96.9 -259.9,96.8 -256.6,96.6 -253.4,96.4 -250.1,96.1 -246.7,95.7 -243.2,95.3 -239.5,94.8 -235.5,94.2 -231.4,93.6 -227.1,92.8 -222.8,92 -218.5,91.2 -214.3,90.3 -210.1,89.3 -205.8,88.3 -201.6,87.2 -197.5,86.2 -193.6,85.1 -189.9,84.2 -186.4,83.4 -183.1,82.6 -180,81.8 -177.1,81.1 -174.2,80.4 -171.4,79.8 -168.8,79.2 -166.5,78.7 -164.2,78.2 -162,77.8 -159.7,77.3 -157.3,76.9 -154.7,76.5 -151.9,76.1 -149.1,75.7 -146.4,75.4 -143.7,75.1 -141.1,75 -138.6,75.1 -136.2,75.3 -133.8,75.6 -131.4,76 -128.9,76.3 -126.2,76.7 -123.3,77.1 -120,77.6 -116.7,78.2 -113.5,78.7 -110.9,79.1 -109,79.4 -108.8,78.6 -110.7,78.1 -113.3,77.4 -116.4,76.6 -119.6,75.8 -122.9,75 -125.8,74.3 -128.3,73.7 -130.8,73.1 -133.3,72.5 -135.7,72 -138.3,71.6 -140.9,71.4 -143.7,71.2 -146.6,71.3 -149.5,71.4 -152.4,71.6 -155.2,71.8 -157.9,72.1 -160.4,72.3 -162.8,72.6 -165.1,73 -167.5,73.3 -169.9,73.8 -172.6,74.2 -175.4,74.7 -178.3,75.2 -181.3,75.8 -184.5,76.4 -187.8,77.1 -191.3,77.8 -195.1,78.5 -199.1,79.4 -203.2,80.3 -207.4,81.1 -211.6,82 -215.7,82.7 -219.9,83.4 -224.2,84.1 -228.4,84.7 -232.6,85.3 -236.7,85.8 -240.5,86.2 -244.1,86.5 -247.5,86.8 -250.8,87 -253.9,87.1 -257,87.2 -260.1,87.2 -263.2,87.2 -266.3,87.1 -269.3,87 -272.2,86.8 -274.9,86.5 -277.4,86.2 -279.7,85.9 -281.9,85.5 -283.9,85 -285.7,84.5 -287.4,84 -288.9,83.4 -290.3,82.8 -291.5,82.1 -292.5,81.4 -293.4,80.7 -294.1,80.1 -294.7,79.5 -295.1,78.9 -295.4,78.3 -295.6,77.9 -295.7,77.7 -295.7,77.7 -295.7,77.8 -295.6,77.7 -295.3,77.2 -294.6,76.5 -293.6,75.7 -292.4,74.7 -290.9,73.7 -289.3,72.6 -287.3,71.6 -285.2,70.5 -282.9,69.3 -280.4,68.2 -277.9,67.2 -275.3,66.2 -272.6,65.2 -269.7,64.2 -266.8,63.3 -263.7,62.3 -260.5,61.4 -257.1,60.4 -253.4,59.5 -249.7,58.6 -245.9,57.6 -242.2,56.8 -238.7,55.9 -235.5,55.2 -232.6,54.5 -229.8,53.8 -227,53.2 -224.1,52.6 -221,52 -217.4,51.4 -213.3,50.7 -209,50 -205,49.4 -201.6,48.9 -199.1,48.5" fill="#c5c8c8"/><path d="M0,0C-6,-3 -12,-5.5 -17.3,-7.4C-21,-9.5 -25,-12 -28.9,-14C-34,-16.5 -39,-18.5 -43.7,-20.6C-55,-27 -70,-33 -90,-32C-96,-30 -102,-28.5 -108,-27.2C-116,-26.3 -124,-26 -132.8,-25.9C-141,-25.8 -150,-25.8 -157.6,-25.6C-163,-25.2 -169,-24.4 -174,-23.1C-180,-21.5 -186,-19 -190.6,-15.7C-195,-12 -199,-8 -202,-2.5C-205,4 -207.5,11 -207.9,19C-208.3,27 -208,35 -207,42C-205,47 -201,51 -197.2,53.6C-190,56.5 -182,58 -174,58.6C-163,60 -152,61 -141,61C-133,60.6 -124,59.8 -116.3,58.6L-132.8,50.3C-118,52 -100,51.5 -83.3,50.3C-77,52 -71,54 -65.2,55.3L-38.8,52.8L-61.9,42L-30.5,34.6L-65.2,28.9C-63,25 -61,22 -58.6,19C-46,16 -33,13.5 -20.6,10.7C-15,9 -10,7.5 -5.8,5.8C-3,4 -1,2 0,0Z" fill="url(#mLight)"/><path d="M-68,-34C-56,-34 -45,-26 -38,-17L-50,-19L-60,-23Z" fill="#5f6263"/><ellipse cx="-85.8" cy="-19.5" rx="22.3" ry="20" fill="#d6d9d9"/><path d="M-86.5,-36.5C-74,-38 -64,-30 -64.5,-20C-65,-14 -69,-9 -75,-10.5C-70,-14 -68,-19 -69,-24C-71,-31 -78,-35 -86.5,-36.5Z" fill="#5f6263" stroke="#5f6263" stroke-width="1.3"/><path d="M-106.5,-19C-104,-9 -96,-2 -82,-0.5M-100.5,-22C-98,-14 -92,-9 -84,-8" fill="none" stroke="#5f6263" stroke-width="2.8" stroke-linecap="round"/><path d="M-107,-12C-110,-32 -84,-46 -67,-31" fill="none" stroke="#555" stroke-width="1.2"/><ellipse cx="-40.4" cy="-7.4" rx="6" ry="2.8" transform="rotate(-25 -40.4 -7.4)" fill="#5f6263"/><ellipse cx="-4" cy="-0.5" rx="4" ry="3" transform="rotate(30 -4 -0.5)" fill="#5f6263"/><path d="M-151,-5C-157,6 -156,16 -152.6,22.3C-148,30 -139,37 -131,41C-124,45 -108,47.5 -91.6,47C-104,50 -120,50.5 -132.8,49.5L-133,42C-143,36 -152,28 -155,19C-158,10 -156,2 -151,-5Z" fill="#8e9192" stroke="#8e9192" stroke-width="1.6"/></g>
<g transform="translate(1172.8,407)"><polygon points="-200.9,37.5 -203.3,37.8 -206.7,38.4 -210.7,39 -215,39.6 -219.2,40.3 -223,41 -226.3,41.6 -229.3,42.3 -232.2,42.9 -235.1,43.6 -238.1,44.3 -241.3,45.1 -244.8,45.9 -248.5,46.8 -252.3,47.7 -256.2,48.6 -260,49.6 -263.5,50.6 -266.9,51.6 -270.1,52.6 -273.3,53.6 -276.3,54.6 -279.3,55.7 -282.1,56.8 -284.9,58 -287.6,59.2 -290.2,60.4 -292.7,61.7 -295,63 -297.1,64.3 -299,65.6 -300.8,67 -302.4,68.5 -303.9,70.1 -305.2,71.9 -306.3,74.2 -306.8,76.7 -306.8,79.1 -306.3,81.3 -305.5,83.3 -304.5,85 -303.3,86.5 -302,88 -300.5,89.3 -298.9,90.6 -297.1,91.7 -295.1,92.7 -293.1,93.6 -290.9,94.4 -288.7,95 -286.3,95.6 -283.9,96.1 -281.3,96.5 -278.6,96.8 -275.7,97 -272.7,97.1 -269.6,97.1 -266.4,97 -263.1,96.9 -259.9,96.8 -256.6,96.6 -253.4,96.4 -250.1,96.1 -246.7,95.7 -243.2,95.3 -239.5,94.8 -235.5,94.2 -231.4,93.6 -227.1,92.8 -222.8,92 -218.5,91.2 -214.3,90.3 -210.1,89.3 -205.8,88.3 -201.6,87.2 -197.5,86.2 -193.6,85.1 -189.9,84.2 -186.4,83.4 -183.1,82.6 -180,81.8 -177.1,81.1 -174.2,80.4 -171.4,79.8 -168.8,79.2 -166.5,78.7 -164.2,78.2 -162,77.8 -159.7,77.3 -157.3,76.9 -154.7,76.5 -151.9,76.1 -149.1,75.7 -146.4,75.4 -143.7,75.1 -141.1,75 -138.6,75.1 -136.2,75.3 -133.8,75.6 -131.4,76 -128.9,76.3 -126.2,76.7 -123.3,77.1 -120,77.6 -116.7,78.2 -113.5,78.7 -110.9,79.1 -109,79.4 -108.8,78.6 -110.7,78.1 -113.3,77.4 -116.4,76.6 -119.6,75.8 -122.9,75 -125.8,74.3 -128.3,73.7 -130.8,73.1 -133.3,72.5 -135.7,72 -138.3,71.6 -140.9,71.4 -143.7,71.2 -146.6,71.3 -149.5,71.4 -152.4,71.6 -155.2,71.8 -157.9,72.1 -160.4,72.3 -162.8,72.6 -165.1,73 -167.5,73.3 -169.9,73.8 -172.6,74.2 -175.4,74.7 -178.3,75.2 -181.3,75.8 -184.5,76.4 -187.8,77.1 -191.3,77.8 -195.1,78.5 -199.1,79.4 -203.2,80.3 -207.4,81.1 -211.6,82 -215.7,82.7 -219.9,83.4 -224.2,84.1 -228.4,84.7 -232.6,85.3 -236.7,85.8 -240.5,86.2 -244.1,86.5 -247.5,86.8 -250.8,87 -253.9,87.1 -257,87.2 -260.1,87.2 -263.2,87.2 -266.3,87.1 -269.3,87 -272.2,86.8 -274.9,86.5 -277.4,86.2 -279.7,85.9 -281.9,85.5 -283.9,85 -285.7,84.5 -287.4,84 -288.9,83.4 -290.3,82.8 -291.5,82.1 -292.5,81.4 -293.4,80.7 -294.1,80.1 -294.7,79.5 -295.1,78.9 -295.4,78.3 -295.6,77.9 -295.7,77.7 -295.7,77.7 -295.7,77.8 -295.6,77.7 -295.3,77.2 -294.6,76.5 -293.6,75.7 -292.4,74.7 -290.9,73.7 -289.3,72.6 -287.3,71.6 -285.2,70.5 -282.9,69.3 -280.4,68.2 -277.9,67.2 -275.3,66.2 -272.6,65.2 -269.7,64.2 -266.8,63.3 -263.7,62.3 -260.5,61.4 -257.1,60.4 -253.4,59.5 -249.7,58.6 -245.9,57.6 -242.2,56.8 -238.7,55.9 -235.5,55.2 -232.6,54.5 -229.8,53.8 -227,53.2 -224.1,52.6 -221,52 -217.4,51.4 -213.3,50.7 -209,50 -205,49.4 -201.6,48.9 -199.1,48.5" fill="#c5c8c8"/><path d="M0,0C-6,-3 -12,-5.5 -17.3,-7.4C-21,-9.5 -25,-12 -28.9,-14C-34,-16.5 -39,-18.5 -43.7,-20.6C-55,-27 -70,-33 -90,-32C-96,-30 -102,-28.5 -108,-27.2C-116,-26.3 -124,-26 -132.8,-25.9C-141,-25.8 -150,-25.8 -157.6,-25.6C-163,-25.2 -169,-24.4 -174,-23.1C-180,-21.5 -186,-19 -190.6,-15.7C-195,-12 -199,-8 -202,-2.5C-205,4 -207.5,11 -207.9,19C-208.3,27 -208,35 -207,42C-205,47 -201,51 -197.2,53.6C-190,56.5 -182,58 -174,58.6C-163,60 -152,61 -141,61C-133,60.6 -124,59.8 -116.3,58.6L-132.8,50.3C-118,52 -100,51.5 -83.3,50.3C-77,52 -71,54 -65.2,55.3L-38.8,52.8L-61.9,42L-30.5,34.6L-65.2,28.9C-63,25 -61,22 -58.6,19C-46,16 -33,13.5 -20.6,10.7C-15,9 -10,7.5 -5.8,5.8C-3,4 -1,2 0,0Z" fill="url(#mLight)"/><path d="M-68,-34C-56,-34 -45,-26 -38,-17L-50,-19L-60,-23Z" fill="#5f6263"/><ellipse cx="-85.8" cy="-19.5" rx="22.3" ry="20" fill="#d6d9d9"/><path d="M-86.5,-36.5C-74,-38 -64,-30 -64.5,-20C-65,-14 -69,-9 -75,-10.5C-70,-14 -68,-19 -69,-24C-71,-31 -78,-35 -86.5,-36.5Z" fill="#5f6263" stroke="#5f6263" stroke-width="1.3"/><path d="M-106.5,-19C-104,-9 -96,-2 -82,-0.5M-100.5,-22C-98,-14 -92,-9 -84,-8" fill="none" stroke="#5f6263" stroke-width="2.8" stroke-linecap="round"/><path d="M-107,-12C-110,-32 -84,-46 -67,-31" fill="none" stroke="#555" stroke-width="1.2"/><ellipse cx="-40.4" cy="-7.4" rx="6" ry="2.8" transform="rotate(-25 -40.4 -7.4)" fill="#5f6263"/><ellipse cx="-4" cy="-0.5" rx="4" ry="3" transform="rotate(30 -4 -0.5)" fill="#5f6263"/><path d="M-151,-5C-157,6 -156,16 -152.6,22.3C-148,30 -139,37 -131,41C-124,45 -108,47.5 -91.6,47C-104,50 -120,50.5 -132.8,49.5L-133,42C-143,36 -152,28 -155,19C-158,10 -156,2 -151,-5Z" fill="#8e9192" stroke="#8e9192" stroke-width="1.6"/></g>
<g transform="translate(1109,475.9)"><polygon points="-200.9,37.5 -203.3,37.8 -206.7,38.4 -210.7,39 -215,39.6 -219.2,40.3 -223,41 -226.3,41.6 -229.3,42.3 -232.2,42.9 -235.1,43.6 -238.1,44.3 -241.3,45.1 -244.8,45.9 -248.5,46.8 -252.3,47.7 -256.2,48.6 -260,49.6 -263.5,50.6 -266.9,51.6 -270.1,52.6 -273.3,53.6 -276.3,54.6 -279.3,55.7 -282.1,56.8 -284.9,58 -287.6,59.2 -290.2,60.4 -292.7,61.7 -295,63 -297.1,64.3 -299,65.6 -300.8,67 -302.4,68.5 -303.9,70.1 -305.2,71.9 -306.3,74.2 -306.8,76.7 -306.8,79.1 -306.3,81.3 -305.5,83.3 -304.5,85 -303.3,86.5 -302,88 -300.5,89.3 -298.9,90.6 -297.1,91.7 -295.1,92.7 -293.1,93.6 -290.9,94.4 -288.7,95 -286.3,95.6 -283.9,96.1 -281.3,96.5 -278.6,96.8 -275.7,97 -272.7,97.1 -269.6,97.1 -266.4,97 -263.1,96.9 -259.9,96.8 -256.6,96.6 -253.4,96.4 -250.1,96.1 -246.7,95.7 -243.2,95.3 -239.5,94.8 -235.5,94.2 -231.4,93.6 -227.1,92.8 -222.8,92 -218.5,91.2 -214.3,90.3 -210.1,89.3 -205.8,88.3 -201.6,87.2 -197.5,86.2 -193.6,85.1 -189.9,84.2 -186.4,83.4 -183.1,82.6 -180,81.8 -177.1,81.1 -174.2,80.4 -171.4,79.8 -168.8,79.2 -166.5,78.7 -164.2,78.2 -162,77.8 -159.7,77.3 -157.3,76.9 -154.7,76.5 -151.9,76.1 -149.1,75.7 -146.4,75.4 -143.7,75.1 -141.1,75 -138.6,75.1 -136.2,75.3 -133.8,75.6 -131.4,76 -128.9,76.3 -126.2,76.7 -123.3,77.1 -120,77.6 -116.7,78.2 -113.5,78.7 -110.9,79.1 -109,79.4 -108.8,78.6 -110.7,78.1 -113.3,77.4 -116.4,76.6 -119.6,75.8 -122.9,75 -125.8,74.3 -128.3,73.7 -130.8,73.1 -133.3,72.5 -135.7,72 -138.3,71.6 -140.9,71.4 -143.7,71.2 -146.6,71.3 -149.5,71.4 -152.4,71.6 -155.2,71.8 -157.9,72.1 -160.4,72.3 -162.8,72.6 -165.1,73 -167.5,73.3 -169.9,73.8 -172.6,74.2 -175.4,74.7 -178.3,75.2 -181.3,75.8 -184.5,76.4 -187.8,77.1 -191.3,77.8 -195.1,78.5 -199.1,79.4 -203.2,80.3 -207.4,81.1 -211.6,82 -215.7,82.7 -219.9,83.4 -224.2,84.1 -228.4,84.7 -232.6,85.3 -236.7,85.8 -240.5,86.2 -244.1,86.5 -247.5,86.8 -250.8,87 -253.9,87.1 -257,87.2 -260.1,87.2 -263.2,87.2 -266.3,87.1 -269.3,87 -272.2,86.8 -274.9,86.5 -277.4,86.2 -279.7,85.9 -281.9,85.5 -283.9,85 -285.7,84.5 -287.4,84 -288.9,83.4 -290.3,82.8 -291.5,82.1 -292.5,81.4 -293.4,80.7 -294.1,80.1 -294.7,79.5 -295.1,78.9 -295.4,78.3 -295.6,77.9 -295.7,77.7 -295.7,77.7 -295.7,77.8 -295.6,77.7 -295.3,77.2 -294.6,76.5 -293.6,75.7 -292.4,74.7 -290.9,73.7 -289.3,72.6 -287.3,71.6 -285.2,70.5 -282.9,69.3 -280.4,68.2 -277.9,67.2 -275.3,66.2 -272.6,65.2 -269.7,64.2 -266.8,63.3 -263.7,62.3 -260.5,61.4 -257.1,60.4 -253.4,59.5 -249.7,58.6 -245.9,57.6 -242.2,56.8 -238.7,55.9 -235.5,55.2 -232.6,54.5 -229.8,53.8 -227,53.2 -224.1,52.6 -221,52 -217.4,51.4 -213.3,50.7 -209,50 -205,49.4 -201.6,48.9 -199.1,48.5" fill="#8f8a7e"/><path d="M0,0C-6,-3 -12,-5.5 -17.3,-7.4C-21,-9.5 -25,-12 -28.9,-14C-34,-16.5 -39,-18.5 -43.7,-20.6C-55,-27 -70,-33 -90,-32C-96,-30 -102,-28.5 -108,-27.2C-116,-26.3 -124,-26 -132.8,-25.9C-141,-25.8 -150,-25.8 -157.6,-25.6C-163,-25.2 -169,-24.4 -174,-23.1C-180,-21.5 -186,-19 -190.6,-15.7C-195,-12 -199,-8 -202,-2.5C-205,4 -207.5,11 -207.9,19C-208.3,27 -208,35 -207,42C-205,47 -201,51 -197.2,53.6C-190,56.5 -182,58 -174,58.6C-163,60 -152,61 -141,61C-133,60.6 -124,59.8 -116.3,58.6L-132.8,50.3C-118,52 -100,51.5 -83.3,50.3C-77,52 -71,54 -65.2,55.3L-38.8,52.8L-61.9,42L-30.5,34.6L-65.2,28.9C-63,25 -61,22 -58.6,19C-46,16 -33,13.5 -20.6,10.7C-15,9 -10,7.5 -5.8,5.8C-3,4 -1,2 0,0Z" fill="url(#mBeige)"/><path d="M-68,-34C-56,-34 -45,-26 -38,-17L-50,-19L-60,-23Z" fill="#0c0c0c"/><ellipse cx="-85.8" cy="-19.5" rx="22.3" ry="20" fill="#bfc0ba"/><path d="M-86.5,-36.5C-74,-38 -64,-30 -64.5,-20C-65,-14 -69,-9 -75,-10.5C-70,-14 -68,-19 -69,-24C-71,-31 -78,-35 -86.5,-36.5Z" fill="#0c0c0c" stroke="#0c0c0c" stroke-width="1.3"/><path d="M-106.5,-19C-104,-9 -96,-2 -82,-0.5M-100.5,-22C-98,-14 -92,-9 -84,-8" fill="none" stroke="#0c0c0c" stroke-width="2.8" stroke-linecap="round"/><path d="M-107,-12C-110,-32 -84,-46 -67,-31" fill="none" stroke="#555" stroke-width="1.2"/><ellipse cx="-40.4" cy="-7.4" rx="6" ry="2.8" transform="rotate(-25 -40.4 -7.4)" fill="#0c0c0c"/><ellipse cx="-4" cy="-0.5" rx="4" ry="3" transform="rotate(30 -4 -0.5)" fill="#0c0c0c"/><path d="M-151,-5C-157,6 -156,16 -152.6,22.3C-148,30 -139,37 -131,41C-124,45 -108,47.5 -91.6,47C-104,50 -120,50.5 -132.8,49.5L-133,42C-143,36 -152,28 -155,19C-158,10 -156,2 -151,-5Z" fill="#0c0c0c" stroke="#0c0c0c" stroke-width="1.6"/></g>
<g transform="translate(1049,545.6)"><polygon points="-200.9,37.5 -203.3,37.8 -206.7,38.4 -210.7,39 -215,39.6 -219.2,40.3 -223,41 -226.3,41.6 -229.3,42.3 -232.2,42.9 -235.1,43.6 -238.1,44.3 -241.3,45.1 -244.8,45.9 -248.5,46.8 -252.3,47.7 -256.2,48.6 -260,49.6 -263.5,50.6 -266.9,51.6 -270.1,52.6 -273.3,53.6 -276.3,54.6 -279.3,55.7 -282.1,56.8 -284.9,58 -287.6,59.2 -290.2,60.4 -292.7,61.7 -295,63 -297.1,64.3 -299,65.6 -300.8,67 -302.4,68.5 -303.9,70.1 -305.2,71.9 -306.3,74.2 -306.8,76.7 -306.8,79.1 -306.3,81.3 -305.5,83.3 -304.5,85 -303.3,86.5 -302,88 -300.5,89.3 -298.9,90.6 -297.1,91.7 -295.1,92.7 -293.1,93.6 -290.9,94.4 -288.7,95 -286.3,95.6 -283.9,96.1 -281.3,96.5 -278.6,96.8 -275.7,97 -272.7,97.1 -269.6,97.1 -266.4,97 -263.1,96.9 -259.9,96.8 -256.6,96.6 -253.4,96.4 -250.1,96.1 -246.7,95.7 -243.2,95.3 -239.5,94.8 -235.5,94.2 -231.4,93.6 -227.1,92.8 -222.8,92 -218.5,91.2 -214.3,90.3 -210.1,89.3 -205.8,88.3 -201.6,87.2 -197.5,86.2 -193.6,85.1 -189.9,84.2 -186.4,83.4 -183.1,82.6 -180,81.8 -177.1,81.1 -174.2,80.4 -171.4,79.8 -168.8,79.2 -166.5,78.7 -164.2,78.2 -162,77.8 -159.7,77.3 -157.3,76.9 -154.7,76.5 -151.9,76.1 -149.1,75.7 -146.4,75.4 -143.7,75.1 -141.1,75 -138.6,75.1 -136.2,75.3 -133.8,75.6 -131.4,76 -128.9,76.3 -126.2,76.7 -123.3,77.1 -120,77.6 -116.7,78.2 -113.5,78.7 -110.9,79.1 -109,79.4 -108.8,78.6 -110.7,78.1 -113.3,77.4 -116.4,76.6 -119.6,75.8 -122.9,75 -125.8,74.3 -128.3,73.7 -130.8,73.1 -133.3,72.5 -135.7,72 -138.3,71.6 -140.9,71.4 -143.7,71.2 -146.6,71.3 -149.5,71.4 -152.4,71.6 -155.2,71.8 -157.9,72.1 -160.4,72.3 -162.8,72.6 -165.1,73 -167.5,73.3 -169.9,73.8 -172.6,74.2 -175.4,74.7 -178.3,75.2 -181.3,75.8 -184.5,76.4 -187.8,77.1 -191.3,77.8 -195.1,78.5 -199.1,79.4 -203.2,80.3 -207.4,81.1 -211.6,82 -215.7,82.7 -219.9,83.4 -224.2,84.1 -228.4,84.7 -232.6,85.3 -236.7,85.8 -240.5,86.2 -244.1,86.5 -247.5,86.8 -250.8,87 -253.9,87.1 -257,87.2 -260.1,87.2 -263.2,87.2 -266.3,87.1 -269.3,87 -272.2,86.8 -274.9,86.5 -277.4,86.2 -279.7,85.9 -281.9,85.5 -283.9,85 -285.7,84.5 -287.4,84 -288.9,83.4 -290.3,82.8 -291.5,82.1 -292.5,81.4 -293.4,80.7 -294.1,80.1 -294.7,79.5 -295.1,78.9 -295.4,78.3 -295.6,77.9 -295.7,77.7 -295.7,77.7 -295.7,77.8 -295.6,77.7 -295.3,77.2 -294.6,76.5 -293.6,75.7 -292.4,74.7 -290.9,73.7 -289.3,72.6 -287.3,71.6 -285.2,70.5 -282.9,69.3 -280.4,68.2 -277.9,67.2 -275.3,66.2 -272.6,65.2 -269.7,64.2 -266.8,63.3 -263.7,62.3 -260.5,61.4 -257.1,60.4 -253.4,59.5 -249.7,58.6 -245.9,57.6 -242.2,56.8 -238.7,55.9 -235.5,55.2 -232.6,54.5 -229.8,53.8 -227,53.2 -224.1,52.6 -221,52 -217.4,51.4 -213.3,50.7 -209,50 -205,49.4 -201.6,48.9 -199.1,48.5" fill="#9a8f85"/><path d="M0,0C-6,-3 -12,-5.5 -17.3,-7.4C-21,-9.5 -25,-12 -28.9,-14C-34,-16.5 -39,-18.5 -43.7,-20.6C-55,-27 -70,-33 -90,-32C-96,-30 -102,-28.5 -108,-27.2C-116,-26.3 -124,-26 -132.8,-25.9C-141,-25.8 -150,-25.8 -157.6,-25.6C-163,-25.2 -169,-24.4 -174,-23.1C-180,-21.5 -186,-19 -190.6,-15.7C-195,-12 -199,-8 -202,-2.5C-205,4 -207.5,11 -207.9,19C-208.3,27 -208,35 -207,42C-205,47 -201,51 -197.2,53.6C-190,56.5 -182,58 -174,58.6C-163,60 -152,61 -141,61C-133,60.6 -124,59.8 -116.3,58.6L-132.8,50.3C-118,52 -100,51.5 -83.3,50.3C-77,52 -71,54 -65.2,55.3L-38.8,52.8L-61.9,42L-30.5,34.6L-65.2,28.9C-63,25 -61,22 -58.6,19C-46,16 -33,13.5 -20.6,10.7C-15,9 -10,7.5 -5.8,5.8C-3,4 -1,2 0,0Z" fill="url(#mTan)"/><path d="M-68,-34C-56,-34 -45,-26 -38,-17L-50,-19L-60,-23Z" fill="#0c0c0c"/><ellipse cx="-85.8" cy="-19.5" rx="22.3" ry="20" fill="#b8a99a"/><path d="M-86.5,-36.5C-74,-38 -64,-30 -64.5,-20C-65,-14 -69,-9 -75,-10.5C-70,-14 -68,-19 -69,-24C-71,-31 -78,-35 -86.5,-36.5Z" fill="#0c0c0c" stroke="#0c0c0c" stroke-width="1.3"/><path d="M-106.5,-19C-104,-9 -96,-2 -82,-0.5M-100.5,-22C-98,-14 -92,-9 -84,-8" fill="none" stroke="#0c0c0c" stroke-width="2.8" stroke-linecap="round"/><path d="M-107,-12C-110,-32 -84,-46 -67,-31" fill="none" stroke="#555" stroke-width="1.2"/><ellipse cx="-40.4" cy="-7.4" rx="6" ry="2.8" transform="rotate(-25 -40.4 -7.4)" fill="#0c0c0c"/><ellipse cx="-4" cy="-0.5" rx="4" ry="3" transform="rotate(30 -4 -0.5)" fill="#0c0c0c"/><path d="M-151,-5C-157,6 -156,16 -152.6,22.3C-148,30 -139,37 -131,41C-124,45 -108,47.5 -91.6,47C-104,50 -120,50.5 -132.8,49.5L-133,42C-143,36 -152,28 -155,19C-158,10 -156,2 -151,-5Z" fill="#0c0c0c" stroke="#0c0c0c" stroke-width="1.6"/></g>
<g transform="translate(984,611)"><polygon points="-200.9,37.5 -203.3,37.8 -206.7,38.4 -210.7,39 -215,39.6 -219.2,40.3 -223,41 -226.3,41.6 -229.3,42.3 -232.2,42.9 -235.1,43.6 -238.1,44.3 -241.3,45.1 -244.8,45.9 -248.5,46.8 -252.3,47.7 -256.2,48.6 -260,49.6 -263.5,50.6 -266.9,51.6 -270.1,52.6 -273.3,53.6 -276.3,54.6 -279.3,55.7 -282.1,56.8 -284.9,58 -287.6,59.2 -290.2,60.4 -292.7,61.7 -295,63 -297.1,64.3 -299,65.6 -300.8,67 -302.4,68.5 -303.9,70.1 -305.2,71.9 -306.3,74.2 -306.8,76.7 -306.8,79.1 -306.3,81.3 -305.5,83.3 -304.5,85 -303.3,86.5 -302,88 -300.5,89.3 -298.9,90.6 -297.1,91.7 -295.1,92.7 -293.1,93.6 -290.9,94.4 -288.7,95 -286.3,95.6 -283.9,96.1 -281.3,96.5 -278.6,96.8 -275.7,97 -272.7,97.1 -269.6,97.1 -266.4,97 -263.1,96.9 -259.9,96.8 -256.6,96.6 -253.4,96.4 -250.1,96.1 -246.7,95.7 -243.2,95.3 -239.5,94.8 -235.5,94.2 -231.4,93.6 -227.1,92.8 -222.8,92 -218.5,91.2 -214.3,90.3 -210.1,89.3 -205.8,88.3 -201.6,87.2 -197.5,86.2 -193.6,85.1 -189.9,84.2 -186.4,83.4 -183.1,82.6 -180,81.8 -177.1,81.1 -174.2,80.4 -171.4,79.8 -168.8,79.2 -166.5,78.7 -164.2,78.2 -162,77.8 -159.7,77.3 -157.3,76.9 -154.7,76.5 -151.9,76.1 -149.1,75.7 -146.4,75.4 -143.7,75.1 -141.1,75 -138.6,75.1 -136.2,75.3 -133.8,75.6 -131.4,76 -128.9,76.3 -126.2,76.7 -123.3,77.1 -120,77.6 -116.7,78.2 -113.5,78.7 -110.9,79.1 -109,79.4 -108.8,78.6 -110.7,78.1 -113.3,77.4 -116.4,76.6 -119.6,75.8 -122.9,75 -125.8,74.3 -128.3,73.7 -130.8,73.1 -133.3,72.5 -135.7,72 -138.3,71.6 -140.9,71.4 -143.7,71.2 -146.6,71.3 -149.5,71.4 -152.4,71.6 -155.2,71.8 -157.9,72.1 -160.4,72.3 -162.8,72.6 -165.1,73 -167.5,73.3 -169.9,73.8 -172.6,74.2 -175.4,74.7 -178.3,75.2 -181.3,75.8 -184.5,76.4 -187.8,77.1 -191.3,77.8 -195.1,78.5 -199.1,79.4 -203.2,80.3 -207.4,81.1 -211.6,82 -215.7,82.7 -219.9,83.4 -224.2,84.1 -228.4,84.7 -232.6,85.3 -236.7,85.8 -240.5,86.2 -244.1,86.5 -247.5,86.8 -250.8,87 -253.9,87.1 -257,87.2 -260.1,87.2 -263.2,87.2 -266.3,87.1 -269.3,87 -272.2,86.8 -274.9,86.5 -277.4,86.2 -279.7,85.9 -281.9,85.5 -283.9,85 -285.7,84.5 -287.4,84 -288.9,83.4 -290.3,82.8 -291.5,82.1 -292.5,81.4 -293.4,80.7 -294.1,80.1 -294.7,79.5 -295.1,78.9 -295.4,78.3 -295.6,77.9 -295.7,77.7 -295.7,77.7 -295.7,77.8 -295.6,77.7 -295.3,77.2 -294.6,76.5 -293.6,75.7 -292.4,74.7 -290.9,73.7 -289.3,72.6 -287.3,71.6 -285.2,70.5 -282.9,69.3 -280.4,68.2 -277.9,67.2 -275.3,66.2 -272.6,65.2 -269.7,64.2 -266.8,63.3 -263.7,62.3 -260.5,61.4 -257.1,60.4 -253.4,59.5 -249.7,58.6 -245.9,57.6 -242.2,56.8 -238.7,55.9 -235.5,55.2 -232.6,54.5 -229.8,53.8 -227,53.2 -224.1,52.6 -221,52 -217.4,51.4 -213.3,50.7 -209,50 -205,49.4 -201.6,48.9 -199.1,48.5" fill="#80858a"/><path d="M0,0C-6,-3 -12,-5.5 -17.3,-7.4C-21,-9.5 -25,-12 -28.9,-14C-34,-16.5 -39,-18.5 -43.7,-20.6C-55,-27 -70,-33 -90,-32C-96,-30 -102,-28.5 -108,-27.2C-116,-26.3 -124,-26 -132.8,-25.9C-141,-25.8 -150,-25.8 -157.6,-25.6C-163,-25.2 -169,-24.4 -174,-23.1C-180,-21.5 -186,-19 -190.6,-15.7C-195,-12 -199,-8 -202,-2.5C-205,4 -207.5,11 -207.9,19C-208.3,27 -208,35 -207,42C-205,47 -201,51 -197.2,53.6C-190,56.5 -182,58 -174,58.6C-163,60 -152,61 -141,61C-133,60.6 -124,59.8 -116.3,58.6L-132.8,50.3C-118,52 -100,51.5 -83.3,50.3C-77,52 -71,54 -65.2,55.3L-38.8,52.8L-61.9,42L-30.5,34.6L-65.2,28.9C-63,25 -61,22 -58.6,19C-46,16 -33,13.5 -20.6,10.7C-15,9 -10,7.5 -5.8,5.8C-3,4 -1,2 0,0Z" fill="url(#mBlue)"/><path d="M-68,-34C-56,-34 -45,-26 -38,-17L-50,-19L-60,-23Z" fill="#0c0c0c"/><ellipse cx="-85.8" cy="-19.5" rx="22.3" ry="20" fill="#a5aaae"/><path d="M-86.5,-36.5C-74,-38 -64,-30 -64.5,-20C-65,-14 -69,-9 -75,-10.5C-70,-14 -68,-19 -69,-24C-71,-31 -78,-35 -86.5,-36.5Z" fill="#0c0c0c" stroke="#0c0c0c" stroke-width="1.3"/><path d="M-106.5,-19C-104,-9 -96,-2 -82,-0.5M-100.5,-22C-98,-14 -92,-9 -84,-8" fill="none" stroke="#0c0c0c" stroke-width="2.8" stroke-linecap="round"/><path d="M-107,-12C-110,-32 -84,-46 -67,-31" fill="none" stroke="#555" stroke-width="1.2"/><ellipse cx="-40.4" cy="-7.4" rx="6" ry="2.8" transform="rotate(-25 -40.4 -7.4)" fill="#0c0c0c"/><ellipse cx="-4" cy="-0.5" rx="4" ry="3" transform="rotate(30 -4 -0.5)" fill="#0c0c0c"/><path d="M-151,-5C-157,6 -156,16 -152.6,22.3C-148,30 -139,37 -131,41C-124,45 -108,47.5 -91.6,47C-104,50 -120,50.5 -132.8,49.5L-133,42C-143,36 -152,28 -155,19C-158,10 -156,2 -151,-5Z" fill="#0c0c0c" stroke="#0c0c0c" stroke-width="1.6"/></g>
<g transform="translate(922.4,686.4)"><polygon points="-200.9,37.5 -203.3,37.8 -206.7,38.4 -210.7,39 -215,39.6 -219.2,40.3 -223,41 -226.3,41.6 -229.3,42.3 -232.2,42.9 -235.1,43.6 -238.1,44.3 -241.3,45.1 -244.8,45.9 -248.5,46.8 -252.3,47.7 -256.2,48.6 -260,49.6 -263.5,50.6 -266.9,51.6 -270.1,52.6 -273.3,53.6 -276.3,54.6 -279.3,55.7 -282.1,56.8 -284.9,58 -287.6,59.2 -290.2,60.4 -292.7,61.7 -295,63 -297.1,64.3 -299,65.6 -300.8,67 -302.4,68.5 -303.9,70.1 -305.2,71.9 -306.3,74.2 -306.8,76.7 -306.8,79.1 -306.3,81.3 -305.5,83.3 -304.5,85 -303.3,86.5 -302,88 -300.5,89.3 -298.9,90.6 -297.1,91.7 -295.1,92.7 -293.1,93.6 -290.9,94.4 -288.7,95 -286.3,95.6 -283.9,96.1 -281.3,96.5 -278.6,96.8 -275.7,97 -272.7,97.1 -269.6,97.1 -266.4,97 -263.1,96.9 -259.9,96.8 -256.6,96.6 -253.4,96.4 -250.1,96.1 -246.7,95.7 -243.2,95.3 -239.5,94.8 -235.5,94.2 -231.4,93.6 -227.1,92.8 -222.8,92 -218.5,91.2 -214.3,90.3 -210.1,89.3 -205.8,88.3 -201.6,87.2 -197.5,86.2 -193.6,85.1 -189.9,84.2 -186.4,83.4 -183.1,82.6 -180,81.8 -177.1,81.1 -174.2,80.4 -171.4,79.8 -168.8,79.2 -166.5,78.7 -164.2,78.2 -162,77.8 -159.7,77.3 -157.3,76.9 -154.7,76.5 -151.9,76.1 -149.1,75.7 -146.4,75.4 -143.7,75.1 -141.1,75 -138.6,75.1 -136.2,75.3 -133.8,75.6 -131.4,76 -128.9,76.3 -126.2,76.7 -123.3,77.1 -120,77.6 -116.7,78.2 -113.5,78.7 -110.9,79.1 -109,79.4 -108.8,78.6 -110.7,78.1 -113.3,77.4 -116.4,76.6 -119.6,75.8 -122.9,75 -125.8,74.3 -128.3,73.7 -130.8,73.1 -133.3,72.5 -135.7,72 -138.3,71.6 -140.9,71.4 -143.7,71.2 -146.6,71.3 -149.5,71.4 -152.4,71.6 -155.2,71.8 -157.9,72.1 -160.4,72.3 -162.8,72.6 -165.1,73 -167.5,73.3 -169.9,73.8 -172.6,74.2 -175.4,74.7 -178.3,75.2 -181.3,75.8 -184.5,76.4 -187.8,77.1 -191.3,77.8 -195.1,78.5 -199.1,79.4 -203.2,80.3 -207.4,81.1 -211.6,82 -215.7,82.7 -219.9,83.4 -224.2,84.1 -228.4,84.7 -232.6,85.3 -236.7,85.8 -240.5,86.2 -244.1,86.5 -247.5,86.8 -250.8,87 -253.9,87.1 -257,87.2 -260.1,87.2 -263.2,87.2 -266.3,87.1 -269.3,87 -272.2,86.8 -274.9,86.5 -277.4,86.2 -279.7,85.9 -281.9,85.5 -283.9,85 -285.7,84.5 -287.4,84 -288.9,83.4 -290.3,82.8 -291.5,82.1 -292.5,81.4 -293.4,80.7 -294.1,80.1 -294.7,79.5 -295.1,78.9 -295.4,78.3 -295.6,77.9 -295.7,77.7 -295.7,77.7 -295.7,77.8 -295.6,77.7 -295.3,77.2 -294.6,76.5 -293.6,75.7 -292.4,74.7 -290.9,73.7 -289.3,72.6 -287.3,71.6 -285.2,70.5 -282.9,69.3 -280.4,68.2 -277.9,67.2 -275.3,66.2 -272.6,65.2 -269.7,64.2 -266.8,63.3 -263.7,62.3 -260.5,61.4 -257.1,60.4 -253.4,59.5 -249.7,58.6 -245.9,57.6 -242.2,56.8 -238.7,55.9 -235.5,55.2 -232.6,54.5 -229.8,53.8 -227,53.2 -224.1,52.6 -221,52 -217.4,51.4 -213.3,50.7 -209,50 -205,49.4 -201.6,48.9 -199.1,48.5" fill="#9a9a90"/><path d="M0,0C-6,-3 -12,-5.5 -17.3,-7.4C-21,-9.5 -25,-12 -28.9,-14C-34,-16.5 -39,-18.5 -43.7,-20.6C-55,-27 -70,-33 -90,-32C-96,-30 -102,-28.5 -108,-27.2C-116,-26.3 -124,-26 -132.8,-25.9C-141,-25.8 -150,-25.8 -157.6,-25.6C-163,-25.2 -169,-24.4 -174,-23.1C-180,-21.5 -186,-19 -190.6,-15.7C-195,-12 -199,-8 -202,-2.5C-205,4 -207.5,11 -207.9,19C-208.3,27 -208,35 -207,42C-205,47 -201,51 -197.2,53.6C-190,56.5 -182,58 -174,58.6C-163,60 -152,61 -141,61C-133,60.6 -124,59.8 -116.3,58.6L-132.8,50.3C-118,52 -100,51.5 -83.3,50.3C-77,52 -71,54 -65.2,55.3L-38.8,52.8L-61.9,42L-30.5,34.6L-65.2,28.9C-63,25 -61,22 -58.6,19C-46,16 -33,13.5 -20.6,10.7C-15,9 -10,7.5 -5.8,5.8C-3,4 -1,2 0,0Z" fill="url(#mBeige)"/><path d="M-68,-34C-56,-34 -45,-26 -38,-17L-50,-19L-60,-23Z" fill="#0c0c0c"/><ellipse cx="-85.8" cy="-19.5" rx="22.3" ry="20" fill="#bcbdb6"/><path d="M-86.5,-36.5C-74,-38 -64,-30 -64.5,-20C-65,-14 -69,-9 -75,-10.5C-70,-14 -68,-19 -69,-24C-71,-31 -78,-35 -86.5,-36.5Z" fill="#0c0c0c" stroke="#0c0c0c" stroke-width="1.3"/><path d="M-106.5,-19C-104,-9 -96,-2 -82,-0.5M-100.5,-22C-98,-14 -92,-9 -84,-8" fill="none" stroke="#0c0c0c" stroke-width="2.8" stroke-linecap="round"/><path d="M-107,-12C-110,-32 -84,-46 -67,-31" fill="none" stroke="#555" stroke-width="1.2"/><ellipse cx="-40.4" cy="-7.4" rx="6" ry="2.8" transform="rotate(-25 -40.4 -7.4)" fill="#0c0c0c"/><ellipse cx="-4" cy="-0.5" rx="4" ry="3" transform="rotate(30 -4 -0.5)" fill="#0c0c0c"/><path d="M-151,-5C-157,6 -156,16 -152.6,22.3C-148,30 -139,37 -131,41C-124,45 -108,47.5 -91.6,47C-104,50 -120,50.5 -132.8,49.5L-133,42C-143,36 -152,28 -155,19C-158,10 -156,2 -151,-5Z" fill="#0c0c0c" stroke="#0c0c0c" stroke-width="1.6"/></g>
<path d="M1388,319.1C1385.3,286.6 1396.1,271.7 1415,269.9C1448.8,265.2 1489.2,268 1509.5,275.4C1525.7,282.9 1525.7,309.9 1517.6,335C1509.5,359.1 1482.5,362.9 1455.5,359.1C1428.5,356.4 1393.4,361 1388,319.1Z" fill="#c8c9cb" stroke="#b1b2b4" stroke-width="2"/><path d="M1421.8,286.6C1425.8,273.6 1442,272.6 1462.2,273.6C1489.2,273.6 1512.2,279.2 1516.2,294C1521.7,314.5 1516.2,337.8 1504.1,349.8C1490.6,359.1 1466.3,356.4 1448.8,348C1428.5,337.8 1417.7,314.5 1421.8,286.6Z" fill="url(#cDome)" stroke="#bdbec0" stroke-width="1.5"/><circle cx="1408" cy="314" r="10" fill="url(#cNuc)" opacity="0.75"/>
<polygon points="1464.3,345.5 1467.6,346.4 1466.9,348.6 1464.8,351.1 1464.4,353 1464.4,354.9 1463.1,357 1462.4,358.9 1463.1,360.6 1462.6,362.5 1460.6,364.4 1460.4,366.3 1463.3,368.2 1465.3,370.2 1464.3,372.2 1462.1,374.1 1459.7,375.9 1455.7,377.3 1451.7,378.4 1450.9,380.2 1453,382.8 1453.9,385.4 1452.5,387.3 1451,389.1 1449.4,390.9 1446.5,392.1 1443.3,393 1441.6,394.7 1440.4,396.7 1437.5,397.6 1434,397.8 1431.9,399.1 1431,401.6 1429.6,403.8 1428,406 1426.4,408.5 1423.9,409.8 1420,408.6 1416.2,406.7 1413.6,407 1411.6,408.7 1409.3,410.3 1407.1,412.1 1404.7,414.6 1402.1,415.8 1399.4,414.9 1396.7,414.3 1394.1,415.5 1391.4,416.3 1389,415.2 1386.7,414 1384.3,413.8 1382,413.5 1379.7,413.2 1376.5,414.8 1372.5,417.8 1369.2,418.9 1367.6,416.8 1366.6,414.2 1365.3,412.4 1364.1,410.5 1362.7,409 1359.6,409.7 1355.3,411.3 1352.6,411.1 1351.6,409.3 1349.8,408.2 1347.1,407.8 1345.5,406.6 1344.7,404.7 1343.3,403.4 1342.3,401.8 1343.3,399.1 1344.1,396.6 1341.4,396.1 1336.6,396.5 1333.3,396 1331.8,394.5 1330.7,392.9 1331.6,390.6 1335,387.5 1337.3,385 1335.7,383.6 1333,382.5 1332.2,380.9 1332,379 1330.7,377.4 1330.2,375.6 1331.3,373.5 1331.4,371.6 1330.2,369.8 1331.1,367.8 1335.1,365.9 1338.6,364.1 1339.2,362.4 1338.8,360.4 1338.3,358.4 1336.5,356.1 1334.8,353.6 1336.6,351.7 1341.4,350.7 1345.2,349.6 1346.9,348 1348.6,346.4 1350.4,344.8 1351,342.7 1351.5,340.3 1353.6,338.9 1356.4,337.8 1357.6,335.7 1358.2,333 1360.5,331.5 1364,331.3 1367.1,331 1370.1,330.7 1373.3,330.9 1375.6,330 1376.6,326.6 1377.7,322.8 1380.1,321.2 1383.1,321.2 1386,321.2 1388.9,321.6 1391.7,322.7 1394.3,322.8 1396.7,320.9 1399.3,319.4 1401.8,319.9 1404.3,320.1 1407.1,318.6 1410,317 1412.7,316.7 1415.4,316.5 1418.1,316.4 1419.9,318.2 1420.7,321.7 1422.2,323.4 1425.4,322.1 1429,320.4 1432.2,319.6 1435.5,318.9 1438.4,318.8 1439.5,320.9 1439.3,324.1 1440.6,325.7 1443.3,325.7 1445.2,326.6 1446.1,328.4 1447.8,329.4 1450.3,329.9 1452,331.1 1453.8,332.1 1457.5,332.1 1460.8,332.4 1460.5,334.8 1457.9,338.2 1456.6,340.8 1456.9,342.5 1457.4,344.1 1459.7,345.1" fill="url(#cSpk)" stroke="#b7b8ba" stroke-width="1.6"/><circle cx="1462" cy="352.5" r="4.2" fill="#dcdcdd" stroke="#b9babc" stroke-width="1"/><circle cx="1458" cy="373.3" r="4.2" fill="#dcdcdd" stroke="#b9babc" stroke-width="1"/><circle cx="1442" cy="392.9" r="4.2" fill="#dcdcdd" stroke="#b9babc" stroke-width="1"/><circle cx="1417.3" cy="407.3" r="4.2" fill="#dcdcdd" stroke="#b9babc" stroke-width="1"/><circle cx="1388.8" cy="413.8" r="4.2" fill="#dcdcdd" stroke="#b9babc" stroke-width="1"/><circle cx="1362.1" cy="411" r="4.2" fill="#dcdcdd" stroke="#b9babc" stroke-width="1"/><circle cx="1342.6" cy="399.5" r="4.2" fill="#dcdcdd" stroke="#b9babc" stroke-width="1"/><circle cx="1334" cy="381.5" r="4.2" fill="#dcdcdd" stroke="#b9babc" stroke-width="1"/><circle cx="1338" cy="360.7" r="4.2" fill="#dcdcdd" stroke="#b9babc" stroke-width="1"/><circle cx="1354" cy="341.1" r="4.2" fill="#dcdcdd" stroke="#b9babc" stroke-width="1"/><circle cx="1378.7" cy="326.7" r="4.2" fill="#dcdcdd" stroke="#b9babc" stroke-width="1"/><circle cx="1407.2" cy="320.2" r="4.2" fill="#dcdcdd" stroke="#b9babc" stroke-width="1"/><circle cx="1433.9" cy="323" r="4.2" fill="#dcdcdd" stroke="#b9babc" stroke-width="1"/><circle cx="1453.4" cy="334.5" r="4.2" fill="#dcdcdd" stroke="#b9babc" stroke-width="1"/><circle cx="1360.3" cy="367.9" r="2.9" fill="#b9babc" stroke="#a5a6a8" stroke-width="0.6"/><circle cx="1381.5" cy="359.1" r="2.9" fill="#b9babc" stroke="#a5a6a8" stroke-width="0.6"/><circle cx="1405.6" cy="359.8" r="2.9" fill="#b9babc" stroke="#a5a6a8" stroke-width="0.6"/><circle cx="1361.2" cy="382.8" r="2.9" fill="#b9babc" stroke="#a5a6a8" stroke-width="0.6"/><circle cx="1384" cy="379.1" r="2.9" fill="#b9babc" stroke="#a5a6a8" stroke-width="0.6"/><circle cx="1415.1" cy="352" r="2.9" fill="#b9babc" stroke="#a5a6a8" stroke-width="0.6"/><circle cx="1430" cy="354.7" r="2.9" fill="#b9babc" stroke="#a5a6a8" stroke-width="0.6"/><circle cx="1376.5" cy="392.9" r="2.9" fill="#b9babc" stroke="#a5a6a8" stroke-width="0.6"/><circle cx="1402.4" cy="380.7" r="2.9" fill="#b9babc" stroke="#a5a6a8" stroke-width="0.6"/><circle cx="1440.5" cy="362.6" r="2.9" fill="#b9babc" stroke="#a5a6a8" stroke-width="0.6"/><circle cx="1356" cy="397.7" r="2.9" fill="#b9babc" stroke="#a5a6a8" stroke-width="0.6"/><circle cx="1429.4" cy="377.6" r="2.9" fill="#b9babc" stroke="#a5a6a8" stroke-width="0.6"/><circle cx="1383.5" cy="347.1" r="2.9" fill="#b9babc" stroke="#a5a6a8" stroke-width="0.6"/><circle cx="1406.3" cy="343.5" r="2.9" fill="#b9babc" stroke="#a5a6a8" stroke-width="0.6"/>
<ellipse cx="1350.5" cy="428.5" rx="65" ry="47" fill="url(#cDark)" stroke="#505153" stroke-width="3"/><circle cx="1386.4" cy="421.4" r="23.5" fill="url(#cDark)" stroke="#a9aaac" stroke-width="2.6"/>
<path d="M1250.5,504.4C1247.8,472.8 1258.7,458.4 1277.7,456.6C1311.7,452.1 1352.5,454.8 1372.9,462C1389.2,469.2 1389.2,495.4 1381.1,519.7C1372.9,543.2 1345.7,546.8 1318.5,543.2C1291.3,540.5 1255.9,545 1250.5,504.4Z" fill="#c8c9cb" stroke="#b1b2b4" stroke-width="2"/><path d="M1284.5,472.8C1288.6,460.2 1304.9,459.3 1325.3,460.2C1352.5,460.2 1375.6,465.6 1379.7,480.1C1385.1,499.9 1379.7,522.5 1367.5,534.2C1353.9,543.2 1329.4,540.5 1311.7,532.4C1291.3,522.5 1280.4,499.9 1284.5,472.8Z" fill="url(#cDome)" stroke="#bdbec0" stroke-width="1.5"/><circle cx="1271.8" cy="505.6" r="14" fill="url(#cNuc)" opacity="0.75"/>
<ellipse cx="1279" cy="554" rx="65" ry="40" transform="rotate(8 1279 554)" fill="url(#cLight)" stroke="#bdbdbd" stroke-width="2"/><ellipse cx="1275" cy="549.8" rx="18" ry="16" fill="url(#cNuc)"/><circle cx="1268.5" cy="551" r="2.5" fill="#bbb" stroke="#888" stroke-width="0.7"/>
<polygon points="1294.6,608.9 1295.3,612 1295.2,615.1 1294.2,618.2 1292.3,621 1290.2,623.8 1288.3,626.4 1286.7,629.2 1285.2,632.2 1283.6,635.1 1281.3,637.7 1278.3,640 1274.7,641.7 1270.9,643.2 1267.2,644.7 1263.8,646.3 1260.4,648.2 1256.9,650.1 1253.1,651.5 1248.9,652.4 1244.6,652.5 1240.3,652.3 1236.1,652.1 1231.9,652.1 1227.7,652.3 1223.4,652.5 1219.1,652.4 1214.9,651.5 1211.1,650.1 1207.6,648.2 1204.2,646.3 1200.8,644.7 1197.1,643.2 1193.3,641.7 1189.7,640 1186.7,637.7 1184.4,635.1 1182.8,632.2 1181.3,629.2 1179.7,626.4 1177.8,623.8 1175.7,621 1173.8,618.2 1172.8,615.1 1172.7,612 1173.4,608.9 1174.4,605.9 1175.2,602.9 1175.6,599.9 1175.8,596.8 1176.3,593.7 1177.5,590.6 1179.7,587.9 1182.5,585.5 1185.5,583.3 1188.5,581.2 1191.1,578.8 1193.6,576.3 1196.3,573.9 1199.5,571.7 1203.2,570.1 1207.3,569.1 1211.5,568.5 1215.6,567.8 1219.6,567 1223.5,565.9 1227.6,564.8 1231.8,564.1 1236.2,564.1 1240.4,564.8 1244.5,565.9 1248.4,567 1252.4,567.8 1256.5,568.5 1260.7,569.1 1264.8,570.1 1268.5,571.7 1271.7,573.9 1274.4,576.3 1276.9,578.8 1279.5,581.2 1282.5,583.3 1285.5,585.5 1288.3,587.9 1290.5,590.6 1291.7,593.7 1292.2,596.8 1292.4,599.9 1292.8,602.9 1293.6,605.9" fill="url(#cDark)" stroke="#98999b" stroke-width="2.5"/><ellipse cx="1259.7" cy="598.4" rx="24.6" ry="17" fill="url(#cDark)" stroke="#000" stroke-width="2.5"/>
<g transform="rotate(40 1191.5 658)"><ellipse cx="1191.5" cy="658" rx="60" ry="50" fill="url(#cMac)" stroke="#9a9a9a" stroke-width="2"/></g><path d="M1150,644C1158,636 1172,642 1176,654C1180,668 1172,680 1176,692C1170,698 1158,692 1152,680C1146,668 1144,652 1150,644Z" fill="#6e6f71"/><path d="M1182,694C1192,684 1206,690 1214,686C1224,684 1232,692 1228,702C1222,712 1204,714 1192,710C1182,706 1178,700 1182,694Z" fill="#6e6f71"/><circle cx="1195.4" cy="652.5" r="16" fill="url(#cNuc)"/><circle cx="1190.5" cy="647" r="2.6" fill="#bbb" stroke="#888" stroke-width="0.7"/><ellipse cx="1169" cy="628.5" rx="12" ry="6" transform="rotate(-25 1169 628.5)" fill="#555"/>
<ellipse cx="1172" cy="736" rx="51" ry="35" transform="rotate(-12 1172 736)" fill="url(#cLight)" stroke="#b8b8b8" stroke-width="2"/><ellipse cx="1169" cy="729" rx="14.5" ry="12" fill="url(#cNuc)"/><circle cx="1163" cy="730" r="2.2" fill="#bbb" stroke="#888" stroke-width="0.7"/><ellipse cx="1145.6" cy="747.5" rx="5" ry="11" transform="rotate(-18 1145.6 747.5)" fill="#555"/>
<g transform="translate(100,840) scale(0.36664)" fill="none" stroke="#3c2463" stroke-width="41" stroke-linecap="butt" stroke-linejoin="round"><path d="M828,922C827,906.7 821.7,859.5 822,830C822.3,800.5 820.3,765.3 830,745C839.7,724.7 860,710.8 880,708C900,705.2 928.3,716.8 950,728C971.7,739.2 994.2,765.5 1010,775C1025.8,784.5 1035.3,792.5 1045,785C1054.7,777.5 1064.2,757.5 1068,730C1071.8,702.5 1065.2,649.2 1068,620C1070.8,590.8 1073,568.3 1085,555C1097,541.7 1117.5,538.3 1140,540C1162.5,541.7 1192,552 1220,565C1248,578 1293.3,609.2 1308,618"/><path d="M1272,512C1285,518.3 1326.2,535.3 1350,550C1373.8,564.7 1400,583.3 1415,600C1430,616.7 1442.5,635 1440,650C1437.5,665 1420,679.7 1400,690C1380,700.3 1341.3,703.7 1320,712C1298.7,720.3 1277,727 1272,740C1267,753 1272,772.5 1290,790C1308,807.5 1353.3,826.7 1380,845C1406.7,863.3 1437.5,882.5 1450,900C1462.5,917.5 1463.3,934.2 1455,950C1446.7,965.8 1430.8,978.3 1400,995C1369.2,1011.7 1291.7,1040.8 1270,1050"/><path d="M1415,575C1429.2,573.3 1470.8,565.5 1500,565C1529.2,564.5 1565.3,564.5 1590,572C1614.7,579.5 1641.3,593.7 1648,610C1654.7,626.3 1641.3,650.8 1630,670C1618.7,689.2 1590.8,708.3 1580,725C1569.2,741.7 1560,758.3 1565,770C1570,781.7 1584.2,791.3 1610,795C1635.8,798.7 1686.7,788.7 1720,792C1753.3,795.3 1790.3,803.7 1810,815C1829.7,826.3 1837.2,840.8 1838,860C1838.8,879.2 1828.8,903.3 1815,930C1801.2,956.7 1765,1005 1755,1020"/><path d="M932,808C928.7,820 916,854.7 912,880C908,905.3 904.2,936.7 908,960C911.8,983.3 918,1009.7 935,1020C952,1030.3 982.5,1026.2 1010,1022C1037.5,1017.8 1073.3,1001.2 1100,995C1126.7,988.8 1153.3,980 1170,985C1186.7,990 1198.3,1007.5 1200,1025C1201.7,1042.5 1186.7,1070.8 1180,1090C1173.3,1109.2 1157.5,1125.3 1160,1140C1162.5,1154.7 1173.3,1172.7 1195,1178C1216.7,1183.3 1256.7,1179.7 1290,1172C1323.3,1164.3 1377.5,1138.7 1395,1132"/></g>
<g transform="translate(880,840) scale(0.33914)" fill="none" stroke="#109046" stroke-width="15" stroke-linejoin="round"><circle cx="775" cy="595" r="68"/><circle cx="842" cy="625" r="58"/><circle cx="815" cy="722" r="92"/><circle cx="762" cy="690" r="68"/><circle cx="800" cy="640" r="40"/><circle cx="770" cy="655" r="30"/><circle cx="850" cy="680" r="45"/><path d="M700,575H740V640H700M735,600H790V660H735ZM760,660H830V720H760"/><path d="M548,742V702C600,690 640,742 662,746C692,760 682,815 678,830L712,840M548,742C590,745 640,740 668,722"/><path d="M1380,628C1410,570 1470,570 1500,610C1540,660 1590,690 1610,640C1620,600 1570,585 1520,610C1480,630 1440,655 1380,628Z"/><path d="M1470,740L1600,690L1560,610L1640,560C1680,530 1700,580 1710,640C1715,690 1700,730 1660,750L1730,690L1690,650L1620,620L1530,660L1600,700Z"/><path d="M1955,555C1920,620 1890,650 1860,640C1820,620 1780,610 1760,660C1790,680 1830,700 1835,740L1805,775L1740,740"/><path d="M1570,915C1620,860 1680,830 1710,800L1725,775L1660,730C1620,730 1590,770 1600,810C1610,840 1650,830 1680,830C1720,820 1750,850 1735,885C1700,900 1660,870 1640,810C1630,770 1650,740 1660,730"/><path d="M985,940L838,940C860,1050 1000,1150 1190,1195C1190,1260 1100,1280 870,1258L895,1300L915,1305C900,1330 870,1330 850,1330"/><path d="M985,940C960,880 990,830 1000,830L1160,830C1200,780 1250,770 1290,790C1350,820 1360,900 1320,950C1290,980 1250,980 1230,975C1180,940 1120,950 1085,970C1130,1000 1170,1040 1170,1100L1125,1100L1125,1055L1170,1050C1230,1040 1250,990 1235,950C1200,870 1100,840 1020,865C960,880 960,980 1000,1040C1040,1100 1100,1120 1200,1120C1280,1120 1320,1140 1360,1165"/><path d="M228,1225C300,1225 340,1250 380,1250L430,1250L440,1180C420,1140 370,1130 340,1170C310,1230 350,1260 380,1260C390,1300 370,1320 350,1320C320,1310 320,1270 345,1250"/><path d="M345,905C400,890 440,910 430,990C420,1010 370,960 345,905Z"/><path d="M430,990L430,1190L510,1200L500,1120C490,1110 480,1130 485,1200L490,1305C530,1320 555,1290 550,1200C590,1190 620,1210 630,1250C650,1290 700,1290 762,1278"/><path d="M310,1040L470,1030C540,1020 600,1040 585,1090C560,1150 500,1180 440,1180L415,1190M310,1040L410,1100L410,1030L480,1030L490,1080C470,1090 440,1085 420,1075"/></g>
<text transform="translate(1877.9,614.8) rotate(-90)" font-size="74" textLength="351.1" lengthAdjust="spacingAndGlyphs">abundance</text>
<text x="2038.4" y="836.8" font-size="68" textLength="355.9" lengthAdjust="spacingAndGlyphs">individuals</text>
<path d="M1929.5,153.6V484.8H2490.9" fill="none" stroke="#000" stroke-width="4.4" stroke-linejoin="miter"/><path transform="translate(1929.5,147.6) rotate(-90)" d="M0,0L-7.1,-7H-13.3L-8.2,-2.1V2.1L-13.3,7H-7.1Z"/><path transform="translate(2496.9,484.8)" d="M0,0L-7.1,-7H-13.3L-8.2,-2.1V2.1L-13.3,7H-7.1Z"/>
<path d="M1926.2,522.9V749.8H2488.5" fill="none" stroke="#000" stroke-width="4.4" stroke-linejoin="miter"/><path transform="translate(1926.2,516.9) rotate(-90)" d="M0,0L-7.1,-7H-13.3L-8.2,-2.1V2.1L-13.3,7H-7.1Z"/><path transform="translate(2494.5,749.8)" d="M0,0L-7.1,-7H-13.3L-8.2,-2.1V2.1L-13.3,7H-7.1Z"/>
<g transform="translate(1780,100) scale(0.4449)" fill="none" stroke-linejoin="miter" stroke-miterlimit="8"><polyline points="408,682 428,660 446,700 465,680 483,670 502,692 520,698 540,710 558,655 575,703 595,690 613,665 633,672 650,738 668,680 685,695 705,645 722,745 742,705 760,670 780,770 797,665 815,760 832,650 852,685 868,640 888,705 908,733 925,722 943,665 962,652 980,683 998,673 1018,610 1035,675 1075,560 1068,775 1090,657 1110,665 1128,680 1147,700 1165,688 1185,750 1203,600 1220,720 1238,622 1257,665 1275,730 1295,752 1313,740 1330,720 1350,628 1368,700 1393,750 1405,600 1420,680 1440,650 1458,760 1478,655 1497,725 1515,742" stroke="#3a2f92" stroke-width="8.6"/><polyline points="400,490 420,535 438,450 456,490 475,515 495,465 513,455 532,430 548,545 567,440 585,458 603,520 623,625 640,390 658,620 677,480 695,565 715,478 735,485 753,515 770,338 788,640 805,360 823,555 843,470 860,575 880,440 898,385 915,400 935,520 953,548 972,490 990,510 1010,650 1027,455 1045,590 1065,360 1083,530 1100,515 1118,480 1138,440 1155,475 1175,355 1193,520 1212,425 1230,600 1248,500 1267,380 1285,345 1302,365 1322,420 1340,600 1358,450 1375,540 1395,650 1415,490 1430,540 1450,355 1468,540 1487,400 1505,360" stroke="#8a56a8" stroke-width="8.8"/><polyline points="435,300 455,265 472,338 490,300 508,283 527,320 545,330 562,352 583,250 600,340 618,325 636,280 657,183 675,385 692,180 710,320 728,230 748,315 768,308 785,280 803,420 821,140 840,412 858,240 876,300 893,230 915,345 932,390 950,375 968,270 987,250 1003,305 1022,288 1043,170 1060,290 1078,215 1100,420 1118,265 1135,280 1155,310 1175,345 1190,320 1210,415 1228,275 1245,355 1263,195 1282,280 1300,390 1320,420 1340,400 1355,370 1375,210 1393,330 1428,155 1448,295 1466,240 1484,400 1502,245 1520,375 1540,408" stroke="#3b2063" stroke-width="8.6"/><polyline points="405,1322 425,1450 445,1285 463,1370 483,1357 500,1272 520,1277 540,1340 558,1275 580,1353 598,1283 620,1380 638,1368 658,1278 678,1392 696,1408 735,1295 755,1338 775,1310 795,1328 815,1320 835,1298 853,1292 890,1375 910,1285 930,1250 948,1385 966,1343 986,1400 1008,1322 1026,1370 1046,1310 1066,1315 1083,1313 1103,1268 1123,1322 1160,1265 1180,1270 1200,1298 1220,1235 1240,1380 1258,1360 1276,1322 1296,1372 1318,1288 1336,1315 1356,1283 1376,1325 1414,1295 1432,1310 1452,1345 1470,1295 1490,1300 1510,1282 1530,1310 1548,1310 1570,1335" stroke="#2fa87a" stroke-width="9.2" stroke-linejoin="round" stroke-linecap="round"/><polyline points="405,1230 425,1395 445,1180 463,1290 483,1275 500,1165 520,1170 540,1250 558,1168 580,1270 598,1178 620,1300 638,1285 658,1170 678,1320 696,1340 735,1193 755,1248 775,1210 795,1235 815,1225 835,1195 853,1190 890,1295 910,1178 930,1150 948,1308 966,1255 986,1328 1008,1228 1026,1290 1046,1213 1066,1218 1083,1215 1103,1158 1123,1215 1160,1155 1180,1162 1200,1200 1220,1130 1240,1300 1258,1275 1276,1235 1296,1292 1318,1185 1336,1220 1356,1180 1376,1228 1414,1195 1432,1210 1452,1250 1470,1190 1490,1198 1510,1178 1530,1213 1548,1215 1570,1250" stroke="#0d6b3a" stroke-width="9.2" stroke-linejoin="round" stroke-linecap="round"/><polyline points="405,1117 427,1100 447,1132 465,1118 483,1108 502,1125 520,1130 540,1138 557,1098 575,1134 593,1127 612,1108 632,1112 648,1160 667,1118 685,1128 703,1092 722,1163 740,1135 760,1110 778,1180 797,1085 815,1175 832,1095 850,1125 868,1090 888,1135 908,1158 925,1150 943,1105 962,1097 980,1120 998,1112 1018,1065 1035,1118 1072,1035 1068,1160 1090,1103 1110,1110 1128,1122 1147,1135 1165,1127 1185,1170 1200,1065 1220,1145 1237,1075 1257,1110 1275,1155 1293,1168 1313,1160 1330,1145 1348,1080 1367,1130 1392,1165 1403,1062 1420,1118 1438,1095 1458,1175 1475,1097 1495,1150 1512,1162" stroke="#0f9a48" stroke-width="11.7" stroke-miterlimit="4"/></g>
<path d="M2518.5,213.4L2604.4,287L2518.5,371.4Z" fill="#c8c8c8" stroke="#9a9a9a" stroke-width="1.5"/><path d="M2518.5,538.2L2604.4,611.6L2518.5,697.5Z" fill="#c8c8c8" stroke="#9a9a9a" stroke-width="1.5"/>
<text x="1857.6" y="87.2" font-size="82" textLength="108.0" lengthAdjust="spacingAndGlyphs">(2)</text>
<text x="2164.2" y="85.8" font-size="100" font-weight="bold" textLength="1169.6" lengthAdjust="spacingAndGlyphs">abundance covariation</text>
<text x="1909.7" y="1053.2" font-size="70" textLength="545.8" lengthAdjust="spacingAndGlyphs">proteins forming</text>
<text x="1997.6" y="1135.9" font-size="70" textLength="368.5" lengthAdjust="spacingAndGlyphs">covariation</text>
<text x="2037.3" y="1222.3" font-size="70" textLength="288.0" lengthAdjust="spacingAndGlyphs">modules</text>
<text x="2942.4" y="1391.3" font-size="69" textLength="367.6" lengthAdjust="spacingAndGlyphs">correlation</text>
<text transform="translate(3030,160.0) rotate(90)" font-size="75" fill="#3c2463" textLength="265.4" lengthAdjust="spacingAndGlyphs">transcripts</text>
<text transform="translate(3604.8,744.1) rotate(90)" font-size="74" fill="#6bbf78" textLength="367.4" lengthAdjust="spacingAndGlyphs">proteins (P)</text>
<g shape-rendering="crispEdges"><path fill="#72b1d3" d="M2722.5,268h14.4v12.9h-14.4zM2862.4,393.1h14.4v12.9h-14.4zM2764.5,430.6h14.4v8.6h-14.4z"/><path fill="#82bbd9" d="M2736.5,280.5h14.4v12.9h-14.4zM2684.7,355.6h10.3v12.9h-10.3zM2848.4,380.6h14.4v12.9h-14.4zM2694.5,393.1h14.4v12.9h-14.4zM2722.5,418.1h14.4v12.9h-14.4z"/><path fill="#9fcbe2" d="M2750.5,280.5h14.4v12.9h-14.4zM2848.4,368.1h14.4v12.9h-14.4z"/><path fill="#abd2e5" d="M2736.5,293h14.4v12.9h-14.4zM2736.5,305.5h14.4v12.9h-14.4zM2694.5,355.6h14.4v12.9h-14.4zM2820.4,380.6h28.4v12.9h-28.4zM2684.7,393.1h10.3v12.9h-10.3zM2764.5,418.1h14.4v12.9h-14.4zM2820.4,430.6h14.4v8.6h-14.4z"/><path fill="#b8d8e9" d="M2684.7,305.5h10.3v12.9h-10.3zM2684.7,368.1h10.3v12.9h-10.3zM2684.7,380.6h10.3v12.9h-10.3zM2722.5,430.6h42.4v8.6h-42.4z"/><path fill="#c4dfec" d="M2820.4,167.9h14.4v12.9h-14.4zM2820.4,180.4h14.4v12.9h-14.4zM2722.5,280.5h14.4v12.9h-14.4zM2960.3,305.5h28.4v12.9h-28.4zM2684.7,318h10.3v12.9h-10.3zM2684.7,343.1h24.2v12.9h-24.2zM2848.4,393.1h14.4v12.9h-14.4zM2806.5,430.6h14.4v8.6h-14.4z"/><path fill="#d1e5f0" d="M2694.5,380.6h14.4v12.9h-14.4zM2736.5,418.1h14.4v12.9h-14.4zM2778.5,430.6h14.4v8.6h-14.4z"/><path fill="#d9e9f1" d="M2736.5,268h14.4v12.9h-14.4zM2820.4,268h14.4v12.9h-14.4zM2708.5,280.5h14.4v12.9h-14.4zM2862.4,305.5h14.4v12.9h-14.4zM2684.7,330.5h10.3v12.9h-10.3zM2694.5,368.1h14.4v12.9h-14.4zM2862.4,380.6h14.4v12.9h-14.4zM2684.7,405.6h10.3v12.9h-10.3zM2848.4,405.6h14.4v12.9h-14.4zM2750.5,418.1h14.4v12.9h-14.4zM2778.5,418.1h14.4v12.9h-14.4zM2792.5,430.6h14.4v8.6h-14.4z"/><path fill="#e8f0f4" d="M2736.5,192.9h14.4v12.9h-14.4zM2736.5,205.4h14.4v12.9h-14.4zM2778.5,268h14.4v12.9h-14.4zM2792.5,280.5h14.4v12.9h-14.4zM2750.5,293h14.4v12.9h-14.4zM2694.5,305.5h28.4v12.9h-28.4zM2750.5,305.5h14.4v12.9h-14.4zM2792.5,305.5h14.4v12.9h-14.4zM2694.5,318h14.4v12.9h-14.4zM2820.4,330.5h14.4v12.9h-14.4zM2848.4,330.5h14.4v12.9h-14.4zM2862.4,343.1h14.4v12.9h-14.4zM2820.4,368.1h28.4v12.9h-28.4zM2932.4,380.6h28.4v12.9h-28.4zM2820.4,405.6h14.4v12.9h-14.4zM2806.5,418.1h28.4v12.9h-28.4zM2708.5,430.6h14.4v8.6h-14.4z"/><path fill="#f7f7f7" d="M2722.5,167.9h14.4v12.9h-14.4zM2764.5,167.9h14.4v12.9h-14.4zM2764.5,180.4h14.4v12.9h-14.4zM2750.5,192.9h14.4v12.9h-14.4zM2862.4,192.9h14.4v12.9h-14.4zM2750.5,205.4h14.4v12.9h-14.4zM2862.4,205.4h14.4v12.9h-14.4zM2708.5,268h14.4v12.9h-14.4zM2932.4,268h28.4v12.9h-28.4zM2764.5,280.5h14.4v12.9h-14.4zM2806.5,280.5h14.4v12.9h-14.4zM2684.7,293h10.3v12.9h-10.3zM2848.4,318h14.4v12.9h-14.4zM2848.4,355.6h14.4v12.9h-14.4zM2960.3,355.6h28.4v12.9h-28.4zM2932.4,368.1h28.4v12.9h-28.4zM2974.3,393.1h14.4v12.9h-14.4zM2862.4,405.6h14.4v12.9h-14.4zM2834.4,430.6h14.4v8.6h-14.4z"/><path fill="#f8f1ed" d="M2750.5,180.4h14.4v12.9h-14.4zM2848.4,180.4h14.4v12.9h-14.4zM2708.5,192.9h14.4v12.9h-14.4zM2684.7,230.5h10.3v12.9h-10.3zM2764.5,268h14.4v12.9h-14.4zM2960.3,268h14.4v12.9h-14.4zM2960.3,280.5h14.4v12.9h-14.4zM2792.5,293h14.4v12.9h-14.4zM2834.4,330.5h14.4v12.9h-14.4zM2862.4,355.6h14.4v12.9h-14.4zM2960.3,368.1h14.4v12.9h-14.4zM2904.4,430.6h14.4v8.6h-14.4z"/><path fill="#f9ece4" d="M2722.5,163.2h14.4v5.1h-14.4zM2862.4,180.4h14.4v12.9h-14.4zM2764.5,205.4h14.4v12.9h-14.4zM2722.5,255.5h14.4v12.9h-14.4zM2806.5,268h14.4v12.9h-14.4zM2862.4,318h14.4v12.9h-14.4zM2694.5,330.5h14.4v12.9h-14.4zM2848.4,343.1h14.4v12.9h-14.4zM2708.5,355.6h14.4v12.9h-14.4zM2932.4,355.6h14.4v12.9h-14.4zM2876.4,393.1h14.4v12.9h-14.4zM2764.5,405.6h14.4v12.9h-14.4zM2946.3,405.6h14.4v12.9h-14.4zM2792.5,418.1h14.4v12.9h-14.4z"/><path fill="#fbe6da" d="M2684.7,163.2h10.3v5.1h-10.3zM2708.5,180.4h14.4v12.9h-14.4zM2834.4,180.4h14.4v12.9h-14.4zM2764.5,192.9h14.4v12.9h-14.4zM2684.7,205.4h10.3v12.9h-10.3zM2684.7,217.9h10.3v12.9h-10.3zM2862.4,230.5h14.4v12.9h-14.4zM2684.7,243h10.3v12.9h-10.3zM2722.5,243h14.4v12.9h-14.4zM2684.7,255.5h10.3v12.9h-10.3zM2820.4,255.5h14.4v12.9h-14.4zM2684.7,268h10.3v12.9h-10.3zM2750.5,268h14.4v12.9h-14.4zM2834.4,268h28.4v12.9h-28.4zM2904.4,268h14.4v12.9h-14.4zM2988.3,268h5.7v12.9h-5.7zM2778.5,280.5h14.4v12.9h-14.4zM2862.4,280.5h14.4v12.9h-14.4zM2708.5,293h14.4v12.9h-14.4zM2862.4,293h14.4v12.9h-14.4zM2960.3,293h14.4v12.9h-14.4zM2876.4,305.5h14.4v12.9h-14.4zM2834.4,355.6h14.4v12.9h-14.4zM2946.3,355.6h14.4v12.9h-14.4zM2862.4,368.1h14.4v12.9h-14.4zM2722.5,380.6h14.4v12.9h-14.4zM2904.4,380.6h14.4v12.9h-14.4zM2960.3,380.6h14.4v12.9h-14.4zM2736.5,393.1h14.4v12.9h-14.4zM2890.4,393.1h14.4v12.9h-14.4zM2834.4,405.6h14.4v12.9h-14.4zM2876.4,430.6h28.4v8.6h-28.4zM2918.4,430.6h14.4v8.6h-14.4zM2988.3,430.6h5.7v8.6h-5.7z"/><path fill="#fce1d1" d="M2750.5,163.2h14.4v5.1h-14.4zM2820.4,163.2h14.4v5.1h-14.4zM2848.4,167.9h14.4v12.9h-14.4zM2722.5,180.4h28.4v12.9h-28.4zM2876.4,180.4h14.4v12.9h-14.4zM2684.7,192.9h10.3v12.9h-10.3zM2778.5,192.9h28.4v12.9h-28.4zM2708.5,205.4h14.4v12.9h-14.4zM2848.4,217.9h28.4v12.9h-28.4zM2736.5,230.5h14.4v12.9h-14.4zM2820.4,243h14.4v12.9h-14.4zM2862.4,243h14.4v12.9h-14.4zM2974.3,255.5h14.4v12.9h-14.4zM2890.4,268h14.4v12.9h-14.4zM2918.4,268h14.4v12.9h-14.4zM2974.3,268h14.4v12.9h-14.4zM2684.7,280.5h10.3v12.9h-10.3zM2918.4,280.5h14.4v12.9h-14.4zM2974.3,280.5h14.4v12.9h-14.4zM2722.5,293h14.4v12.9h-14.4zM2764.5,293h14.4v12.9h-14.4zM2722.5,305.5h14.4v12.9h-14.4zM2890.4,305.5h14.4v12.9h-14.4zM2722.5,330.5h14.4v12.9h-14.4zM2708.5,343.1h14.4v12.9h-14.4zM2708.5,380.6h14.4v12.9h-14.4zM2890.4,380.6h14.4v12.9h-14.4zM2792.5,393.1h14.4v12.9h-14.4zM2820.4,393.1h28.4v12.9h-28.4zM2960.3,393.1h14.4v12.9h-14.4zM2736.5,405.6h14.4v12.9h-14.4zM2778.5,405.6h14.4v12.9h-14.4zM2932.4,405.6h14.4v12.9h-14.4zM2960.3,405.6h14.4v12.9h-14.4zM2862.4,430.6h14.4v8.6h-14.4zM2932.4,430.6h28.4v8.6h-28.4z"/><path fill="#fddbc7" d="M2708.5,163.2h14.4v5.1h-14.4zM2862.4,163.2h14.4v5.1h-14.4zM2890.4,180.4h14.4v12.9h-14.4zM2820.4,192.9h14.4v12.9h-14.4zM2750.5,243h14.4v12.9h-14.4zM2960.3,243h14.4v12.9h-14.4zM2946.3,305.5h14.4v12.9h-14.4zM2988.3,305.5h5.7v12.9h-5.7zM2946.3,343.1h14.4v12.9h-14.4zM2848.4,430.6h14.4v8.6h-14.4z"/><path fill="#fbd0b9" d="M2736.5,163.2h14.4v5.1h-14.4zM2764.5,163.2h14.4v5.1h-14.4zM2918.4,163.2h14.4v5.1h-14.4zM2946.3,163.2h14.4v5.1h-14.4zM2736.5,167.9h28.4v12.9h-28.4zM2778.5,167.9h14.4v12.9h-14.4zM2946.3,167.9h14.4v12.9h-14.4zM2778.5,180.4h42.4v12.9h-42.4zM2946.3,180.4h14.4v12.9h-14.4zM2694.5,192.9h14.4v12.9h-14.4zM2722.5,192.9h14.4v12.9h-14.4zM2806.5,192.9h14.4v12.9h-14.4zM2960.3,192.9h28.4v12.9h-28.4zM2722.5,205.4h14.4v12.9h-14.4zM2778.5,205.4h28.4v12.9h-28.4zM2820.4,205.4h14.4v12.9h-14.4zM2694.5,217.9h14.4v12.9h-14.4zM2736.5,217.9h14.4v12.9h-14.4zM2848.4,230.5h14.4v12.9h-14.4zM2736.5,243h14.4v12.9h-14.4zM2834.4,243h28.4v12.9h-28.4zM2694.5,255.5h28.4v12.9h-28.4zM2834.4,255.5h28.4v12.9h-28.4zM2960.3,255.5h14.4v12.9h-14.4zM2876.4,280.5h42.4v12.9h-42.4zM2988.3,280.5h5.7v12.9h-5.7zM2778.5,293h14.4v12.9h-14.4zM2806.5,293h14.4v12.9h-14.4zM2876.4,293h28.4v12.9h-28.4zM2974.3,293h14.4v12.9h-14.4zM2764.5,305.5h14.4v12.9h-14.4zM2932.4,305.5h14.4v12.9h-14.4zM2708.5,318h14.4v12.9h-14.4zM2834.4,318h14.4v12.9h-14.4zM2946.3,318h42.4v12.9h-42.4zM2708.5,330.5h14.4v12.9h-14.4zM2862.4,330.5h14.4v12.9h-14.4zM2946.3,330.5h28.4v12.9h-28.4zM2834.4,343.1h14.4v12.9h-14.4zM2960.3,343.1h28.4v12.9h-28.4zM2722.5,355.6h14.4v12.9h-14.4zM2820.4,355.6h14.4v12.9h-14.4zM2988.3,355.6h5.7v12.9h-5.7zM2722.5,368.1h14.4v12.9h-14.4zM2890.4,368.1h14.4v12.9h-14.4zM2974.3,368.1h19.6v12.9h-19.6zM2918.4,380.6h14.4v12.9h-14.4zM2974.3,380.6h19.6v12.9h-19.6zM2750.5,393.1h28.4v12.9h-28.4zM2932.4,393.1h28.4v12.9h-28.4zM2988.3,393.1h5.7v12.9h-5.7zM2694.5,405.6h14.4v12.9h-14.4zM2792.5,405.6h28.4v12.9h-28.4zM2876.4,405.6h14.4v12.9h-14.4zM2974.3,405.6h19.6v12.9h-19.6zM2708.5,418.1h14.4v12.9h-14.4zM2876.4,418.1h28.4v12.9h-28.4zM2918.4,418.1h14.4v12.9h-14.4zM2946.3,418.1h14.4v12.9h-14.4zM2988.3,418.1h5.7v12.9h-5.7z"/><path fill="#f9c5ab" d="M2834.4,167.9h14.4v12.9h-14.4zM2862.4,167.9h14.4v12.9h-14.4zM2694.5,180.4h14.4v12.9h-14.4zM2988.3,192.9h5.7v12.9h-5.7zM2694.5,205.4h14.4v12.9h-14.4zM2806.5,205.4h14.4v12.9h-14.4zM2694.5,243h14.4v12.9h-14.4zM2736.5,255.5h14.4v12.9h-14.4zM2792.5,268h14.4v12.9h-14.4zM2988.3,293h5.7v12.9h-5.7zM2932.4,318h14.4v12.9h-14.4zM2932.4,330.5h14.4v12.9h-14.4zM2932.4,343.1h14.4v12.9h-14.4zM2904.4,355.6h14.4v12.9h-14.4zM2876.4,380.6h14.4v12.9h-14.4zM2834.4,418.1h14.4v12.9h-14.4zM2960.3,418.1h14.4v12.9h-14.4z"/><path fill="#f8bb9e" d="M2694.5,163.2h14.4v5.1h-14.4zM2778.5,163.2h28.4v5.1h-28.4zM2834.4,163.2h28.4v5.1h-28.4zM2904.4,163.2h14.4v5.1h-14.4zM2960.3,163.2h14.4v5.1h-14.4zM2684.7,167.9h10.3v12.9h-10.3zM2708.5,167.9h14.4v12.9h-14.4zM2806.5,167.9h14.4v12.9h-14.4zM2918.4,167.9h14.4v12.9h-14.4zM2904.4,180.4h42.4v12.9h-42.4zM2876.4,192.9h14.4v12.9h-14.4zM2876.4,205.4h14.4v12.9h-14.4zM2988.3,205.4h5.7v12.9h-5.7zM2708.5,217.9h14.4v12.9h-14.4zM2750.5,217.9h14.4v12.9h-14.4zM2820.4,217.9h28.4v12.9h-28.4zM2960.3,217.9h33.6v12.9h-33.6zM2694.5,230.5h14.4v12.9h-14.4zM2750.5,230.5h28.4v12.9h-28.4zM2820.4,230.5h14.4v12.9h-14.4zM2960.3,230.5h14.4v12.9h-14.4zM2988.3,230.5h5.7v12.9h-5.7zM2708.5,243h14.4v12.9h-14.4zM2764.5,243h14.4v12.9h-14.4zM2750.5,255.5h14.4v12.9h-14.4zM2862.4,255.5h14.4v12.9h-14.4zM2946.3,255.5h14.4v12.9h-14.4zM2876.4,268h14.4v12.9h-14.4zM2694.5,280.5h14.4v12.9h-14.4zM2694.5,293h14.4v12.9h-14.4zM2918.4,293h14.4v12.9h-14.4zM2778.5,305.5h14.4v12.9h-14.4zM2806.5,305.5h14.4v12.9h-14.4zM2904.4,305.5h28.4v12.9h-28.4zM2820.4,318h14.4v12.9h-14.4zM2988.3,330.5h5.7v12.9h-5.7zM2820.4,343.1h14.4v12.9h-14.4zM2988.3,343.1h5.7v12.9h-5.7zM2736.5,355.6h14.4v12.9h-14.4zM2876.4,368.1h14.4v12.9h-14.4zM2904.4,368.1h28.4v12.9h-28.4zM2764.5,380.6h14.4v12.9h-14.4zM2708.5,393.1h14.4v12.9h-14.4zM2904.4,393.1h14.4v12.9h-14.4zM2722.5,405.6h14.4v12.9h-14.4zM2890.4,405.6h14.4v12.9h-14.4zM2918.4,405.6h14.4v12.9h-14.4zM2848.4,418.1h14.4v12.9h-14.4zM2904.4,418.1h14.4v12.9h-14.4zM2932.4,418.1h14.4v12.9h-14.4zM2974.3,430.6h14.4v8.6h-14.4z"/><path fill="#f4a582" d="M2806.5,163.2h14.4v5.1h-14.4zM2876.4,163.2h28.4v5.1h-28.4zM2932.4,163.2h14.4v5.1h-14.4zM2792.5,167.9h14.4v12.9h-14.4zM2876.4,167.9h28.4v12.9h-28.4zM2932.4,167.9h14.4v12.9h-14.4zM2988.3,167.9h5.7v12.9h-5.7zM2684.7,180.4h10.3v12.9h-10.3zM2988.3,180.4h5.7v12.9h-5.7zM2834.4,192.9h14.4v12.9h-14.4zM2890.4,192.9h14.4v12.9h-14.4zM2918.4,192.9h14.4v12.9h-14.4zM2918.4,205.4h14.4v12.9h-14.4zM2960.3,205.4h28.4v12.9h-28.4zM2764.5,217.9h14.4v12.9h-14.4zM2932.4,217.9h28.4v12.9h-28.4zM2722.5,230.5h14.4v12.9h-14.4zM2778.5,230.5h28.4v12.9h-28.4zM2834.4,230.5h14.4v12.9h-14.4zM2778.5,243h14.4v12.9h-14.4zM2946.3,243h14.4v12.9h-14.4zM2974.3,243h19.6v12.9h-19.6zM2932.4,255.5h14.4v12.9h-14.4zM2988.3,255.5h5.7v12.9h-5.7zM2694.5,268h14.4v12.9h-14.4zM2820.4,280.5h14.4v12.9h-14.4zM2904.4,293h14.4v12.9h-14.4zM2946.3,293h14.4v12.9h-14.4zM2848.4,305.5h14.4v12.9h-14.4zM2722.5,318h14.4v12.9h-14.4zM2988.3,318h5.7v12.9h-5.7zM2904.4,330.5h28.4v12.9h-28.4zM2722.5,343.1h28.4v12.9h-28.4zM2890.4,343.1h28.4v12.9h-28.4zM2890.4,355.6h14.4v12.9h-14.4zM2918.4,355.6h14.4v12.9h-14.4zM2708.5,368.1h14.4v12.9h-14.4zM2736.5,368.1h14.4v12.9h-14.4zM2750.5,380.6h14.4v12.9h-14.4zM2778.5,380.6h14.4v12.9h-14.4zM2778.5,393.1h14.4v12.9h-14.4zM2806.5,393.1h14.4v12.9h-14.4zM2750.5,405.6h14.4v12.9h-14.4zM2862.4,418.1h14.4v12.9h-14.4zM2960.3,430.6h14.4v8.6h-14.4z"/><path fill="#ee9777" d="M2974.3,163.2h14.4v5.1h-14.4zM2960.3,167.9h14.4v12.9h-14.4zM2974.3,180.4h14.4v12.9h-14.4zM2904.4,192.9h14.4v12.9h-14.4zM2722.5,217.9h14.4v12.9h-14.4zM2792.5,217.9h14.4v12.9h-14.4zM2946.3,230.5h14.4v12.9h-14.4zM2974.3,330.5h14.4v12.9h-14.4zM2918.4,393.1h14.4v12.9h-14.4z"/><path fill="#e8896d" d="M2694.5,167.9h14.4v12.9h-14.4zM2904.4,167.9h14.4v12.9h-14.4zM2848.4,192.9h14.4v12.9h-14.4zM2890.4,217.9h14.4v12.9h-14.4zM2708.5,230.5h14.4v12.9h-14.4zM2806.5,230.5h14.4v12.9h-14.4zM2876.4,230.5h14.4v12.9h-14.4zM2974.3,230.5h14.4v12.9h-14.4zM2792.5,243h28.4v12.9h-28.4zM2918.4,243h14.4v12.9h-14.4zM2764.5,255.5h28.4v12.9h-28.4zM2904.4,255.5h14.4v12.9h-14.4zM2946.3,280.5h14.4v12.9h-14.4zM2736.5,318h14.4v12.9h-14.4zM2890.4,318h28.4v12.9h-28.4zM2736.5,330.5h14.4v12.9h-14.4zM2890.4,330.5h14.4v12.9h-14.4zM2750.5,343.1h14.4v12.9h-14.4zM2876.4,343.1h14.4v12.9h-14.4zM2750.5,355.6h14.4v12.9h-14.4zM2764.5,368.1h28.4v12.9h-28.4zM2792.5,380.6h28.4v12.9h-28.4zM2904.4,405.6h14.4v12.9h-14.4zM2684.7,418.1h10.3v12.9h-10.3zM2974.3,418.1h14.4v12.9h-14.4zM2694.5,430.6h14.4v8.6h-14.4z"/><path fill="#e27c62" d="M2834.4,205.4h28.4v12.9h-28.4zM2890.4,205.4h14.4v12.9h-14.4zM2778.5,217.9h14.4v12.9h-14.4zM2876.4,217.9h14.4v12.9h-14.4zM2932.4,243h14.4v12.9h-14.4zM2918.4,255.5h14.4v12.9h-14.4zM2932.4,280.5h14.4v12.9h-14.4zM2932.4,293h14.4v12.9h-14.4zM2876.4,355.6h14.4v12.9h-14.4z"/><path fill="#dc6e58" d="M2904.4,205.4h14.4v12.9h-14.4zM2890.4,230.5h14.4v12.9h-14.4zM2932.4,230.5h14.4v12.9h-14.4zM2904.4,243h14.4v12.9h-14.4zM2806.5,255.5h14.4v12.9h-14.4zM2750.5,318h14.4v12.9h-14.4zM2876.4,318h14.4v12.9h-14.4zM2918.4,343.1h14.4v12.9h-14.4zM2806.5,368.1h14.4v12.9h-14.4z"/><path fill="#d6604d" d="M2806.5,217.9h14.4v12.9h-14.4zM2918.4,318h14.4v12.9h-14.4z"/><path fill="#cf5246" d="M2932.4,192.9h14.4v12.9h-14.4zM2946.3,205.4h14.4v12.9h-14.4zM2876.4,243h14.4v12.9h-14.4zM2792.5,255.5h14.4v12.9h-14.4zM2890.4,255.5h14.4v12.9h-14.4zM2820.4,293h14.4v12.9h-14.4zM2834.4,305.5h14.4v12.9h-14.4zM2750.5,330.5h14.4v12.9h-14.4zM2876.4,330.5h14.4v12.9h-14.4zM2792.5,368.1h14.4v12.9h-14.4z"/><path fill="#c8433f" d="M2904.4,217.9h14.4v12.9h-14.4zM2918.4,230.5h14.4v12.9h-14.4zM2834.4,280.5h14.4v12.9h-14.4zM2848.4,293h14.4v12.9h-14.4zM2764.5,330.5h14.4v12.9h-14.4zM2792.5,355.6h14.4v12.9h-14.4z"/><path fill="#c03539" d="M2764.5,318h14.4v12.9h-14.4zM2792.5,318h14.4v12.9h-14.4zM2806.5,330.5h14.4v12.9h-14.4zM2764.5,343.1h14.4v12.9h-14.4zM2778.5,355.6h14.4v12.9h-14.4zM2806.5,355.6h14.4v12.9h-14.4z"/><path fill="#b92632" d="M2778.5,330.5h14.4v12.9h-14.4zM2792.5,343.1h14.4v12.9h-14.4z"/><path fill="#b2182b" d="M2778.5,318h14.4v12.9h-14.4zM2806.5,343.1h14.4v12.9h-14.4z"/><path fill="#67001f" d="M2988.3,163.2h5.7v5.1h-5.7zM2974.3,167.9h14.4v12.9h-14.4zM2960.3,180.4h14.4v12.9h-14.4zM2946.3,192.9h14.4v12.9h-14.4zM2932.4,205.4h14.4v12.9h-14.4zM2918.4,217.9h14.4v12.9h-14.4zM2904.4,230.5h14.4v12.9h-14.4zM2890.4,243h14.4v12.9h-14.4zM2876.4,255.5h14.4v12.9h-14.4zM2862.4,268h14.4v12.9h-14.4zM2848.4,280.5h14.4v12.9h-14.4zM2834.4,293h14.4v12.9h-14.4zM2820.4,305.5h14.4v12.9h-14.4zM2806.5,318h14.4v12.9h-14.4zM2792.5,330.5h14.4v12.9h-14.4zM2778.5,343.1h14.4v12.9h-14.4zM2764.5,355.6h14.4v12.9h-14.4zM2750.5,368.1h14.4v12.9h-14.4zM2736.5,380.6h14.4v12.9h-14.4zM2722.5,393.1h14.4v12.9h-14.4zM2708.5,405.6h14.4v12.9h-14.4zM2694.5,418.1h14.4v12.9h-14.4zM2684.7,430.6h10.3v8.6h-10.3z"/></g><rect x="2680.3" y="158.8" width="317.6" height="284.5" fill="none" stroke="#3c2463" stroke-width="8.2"/>
<g shape-rendering="crispEdges"><path fill="#0b3b70" d="M3016.3,523.8h17.5v15.2h-17.5zM3016.3,553.4h17.5v15.2h-17.5zM3016.3,568.2h17.5v15.2h-17.5zM3461.4,953.3h34.6v15.2h-34.6zM3512.8,953.3h17.5v15.2h-17.5z"/><path fill="#10467f" d="M3016.3,538.6h17.5v15.2h-17.5zM3016.3,583h17.5v15.2h-17.5zM2999.2,612.7h34.6v15.2h-34.6zM3410,953.3h17.5v15.2h-17.5zM3444.3,953.3h17.5v15.2h-17.5zM3495.6,953.3h17.5v15.2h-17.5zM3410,968.1h17.5v15.2h-17.5z"/><path fill="#16508e" d="M3016.3,597.9h17.5v15.2h-17.5zM3427.2,953.3h17.5v15.2h-17.5z"/><path fill="#1b5b9d" d="M2999.2,553.4h17.5v15.2h-17.5zM2828,568.2h17.5v15.2h-17.5zM2999.2,583h17.5v15.2h-17.5zM3444.3,968.1h17.5v15.2h-17.5zM3478.5,968.1h17.5v15.2h-17.5zM3461.4,1116.2h17.5v15.2h-17.5z"/><path fill="#2166ac" d="M2999.2,523.8h17.5v15.2h-17.5zM2999.2,538.6h17.5v15.2h-17.5zM2999.2,568.2h17.5v15.2h-17.5zM2999.2,597.9h17.5v15.2h-17.5zM2999.2,627.5h17.5v15.2h-17.5zM2828,790.4h17.5v15.2h-17.5zM3392.9,968.1h17.5v15.2h-17.5zM3427.2,968.1h17.5v15.2h-17.5zM3461.4,968.1h17.5v15.2h-17.5zM3495.6,968.1h34.6v15.2h-34.6zM3204.6,1116.2h17.5v15.2h-17.5z"/><path fill="#286fb1" d="M3119,523.8h17.5v15.2h-17.5zM3119,538.6h17.5v15.2h-17.5zM2828,553.4h17.5v15.2h-17.5zM2828,597.9h17.5v15.2h-17.5zM3016.3,627.5h17.5v15.2h-17.5zM3033.4,790.4h17.5v15.2h-17.5zM3495.6,864.4h34.6v15.2h-34.6zM3204.6,938.5h17.5v15.2h-17.5zM3392.9,953.3h17.5v15.2h-17.5zM3427.2,1116.2h17.5v15.2h-17.5zM3478.5,1116.2h17.5v15.2h-17.5z"/><path fill="#2f78b5" d="M2828,523.8h17.5v15.2h-17.5zM2828,538.6h17.5v15.2h-17.5zM3136.1,538.6h17.5v15.2h-17.5zM3119,553.4h34.6v15.2h-34.6zM2828,583h17.5v15.2h-17.5zM3119,583h17.5v15.2h-17.5zM3119,597.9h17.5v15.2h-17.5zM2828,612.7h17.5v15.2h-17.5zM3478.5,849.6h34.6v15.2h-34.6zM3427.2,864.4h34.6v15.2h-34.6zM3478.5,864.4h17.5v15.2h-17.5zM3410,1116.2h17.5v15.2h-17.5zM3444.3,1116.2h17.5v15.2h-17.5zM3495.6,1116.2h34.6v15.2h-34.6z"/><path fill="#3581ba" d="M2810.8,509h17.5v15.2h-17.5zM3136.1,523.8h17.5v15.2h-17.5zM2691,538.6h17.5v15.2h-17.5zM2742.4,538.6h17.5v15.2h-17.5zM2759.5,553.4h17.5v15.2h-17.5zM2725.2,568.2h17.5v15.2h-17.5zM2759.5,568.2h17.5v15.2h-17.5zM3119,568.2h17.5v15.2h-17.5zM2691,597.9h17.5v15.2h-17.5zM2793.7,597.9h17.5v15.2h-17.5zM3187.5,597.9h17.5v15.2h-17.5zM3016.3,746h17.5v15.2h-17.5zM3427.2,805.2h17.5v15.2h-17.5zM3512.8,849.6h17.5v15.2h-17.5zM3461.4,864.4h17.5v15.2h-17.5zM3256,953.3h17.5v15.2h-17.5zM3529.9,1131h17.5v15.2h-17.5zM3427.2,1145.8h17.5v15.2h-17.5zM3461.4,1175.5h34.6v15.2h-34.6zM3495.6,1190.3h17.5v15.2h-17.5zM3461.4,1205.1h17.5v15.2h-17.5zM3427.2,1234.7h17.5v15.2h-17.5zM3495.6,1234.7h17.5v15.2h-17.5z"/><path fill="#3c8abe" d="M2828,509h17.5v15.2h-17.5zM3016.3,509h17.5v15.2h-17.5zM2677.7,523.8h13.7v15.2h-13.7zM2708.1,523.8h51.8v15.2h-51.8zM2793.7,523.8h17.5v15.2h-17.5zM3187.5,523.8h17.5v15.2h-17.5zM2759.5,538.6h17.5v15.2h-17.5zM3187.5,538.6h17.5v15.2h-17.5zM2677.7,553.4h65.1v15.2h-65.1zM2776.6,553.4h34.6v15.2h-34.6zM3187.5,553.4h17.5v15.2h-17.5zM2742.4,568.2h17.5v15.2h-17.5zM2793.7,568.2h17.5v15.2h-17.5zM3187.5,568.2h17.5v15.2h-17.5zM2677.7,583h30.8v15.2h-30.8zM2725.2,583h17.5v15.2h-17.5zM2776.6,583h34.6v15.2h-34.6zM3187.5,583h17.5v15.2h-17.5zM2742.4,597.9h17.5v15.2h-17.5zM2677.7,612.7h82.2v15.2h-82.2zM3187.5,612.7h17.5v15.2h-17.5zM3170.4,627.5h34.6v15.2h-34.6zM3016.3,731.1h17.5v15.2h-17.5zM2810.8,790.4h17.5v15.2h-17.5zM3392.9,805.2h34.6v15.2h-34.6zM3444.3,805.2h86v15.2h-86zM3392.9,820h17.5v15.2h-17.5zM3273.1,953.3h17.5v15.2h-17.5zM3529.9,953.3h17.5v15.2h-17.5zM3529.9,1116.2h17.5v15.2h-17.5zM3204.6,1131h17.5v15.2h-17.5zM3444.3,1145.8h51.8v15.2h-51.8zM3512.8,1145.8h17.5v15.2h-17.5zM3444.3,1160.6h17.5v15.2h-17.5zM3478.5,1160.6h17.5v15.2h-17.5zM3495.6,1175.5h17.5v15.2h-17.5zM3410,1190.3h34.6v15.2h-34.6zM3461.4,1190.3h17.5v15.2h-17.5zM3512.8,1190.3h17.5v15.2h-17.5zM3410,1205.1h17.5v15.2h-17.5zM3444.3,1205.1h17.5v15.2h-17.5zM3478.5,1205.1h17.5v15.2h-17.5zM3512.8,1205.1h17.5v15.2h-17.5zM3410,1219.9h17.5v15.2h-17.5zM3478.5,1219.9h17.5v15.2h-17.5zM3512.8,1219.9h17.5v15.2h-17.5zM3410,1234.7h17.5v15.2h-17.5zM3444.3,1234.7h17.5v15.2h-17.5zM3478.5,1234.7h17.5v15.2h-17.5zM3410,1249.5h17.5v11.2h-17.5zM3444.3,1249.5h17.5v11.2h-17.5zM3478.5,1249.5h17.5v11.2h-17.5zM3512.8,1249.5h17.5v11.2h-17.5z"/><path fill="#4393c3" d="M2677.7,509h30.8v15.2h-30.8zM2725.2,509h51.8v15.2h-51.8zM2793.7,509h17.5v15.2h-17.5zM2691,523.8h17.5v15.2h-17.5zM2759.5,523.8h17.5v15.2h-17.5zM2677.7,538.6h13.7v15.2h-13.7zM2708.1,538.6h34.6v15.2h-34.6zM2776.6,538.6h51.8v15.2h-51.8zM2742.4,553.4h17.5v15.2h-17.5zM2810.8,553.4h17.5v15.2h-17.5zM3084.8,553.4h17.5v15.2h-17.5zM2677.7,568.2h47.9v15.2h-47.9zM2776.6,568.2h17.5v15.2h-17.5zM2810.8,568.2h17.5v15.2h-17.5zM3136.1,568.2h17.5v15.2h-17.5zM2708.1,583h17.5v15.2h-17.5zM2742.4,583h34.6v15.2h-34.6zM3136.1,583h17.5v15.2h-17.5zM2677.7,597.9h13.7v15.2h-13.7zM2708.1,597.9h34.6v15.2h-34.6zM2759.5,597.9h34.6v15.2h-34.6zM2982,597.9h17.5v15.2h-17.5zM3136.1,597.9h17.5v15.2h-17.5zM2776.6,612.7h34.6v15.2h-34.6zM2982,612.7h17.5v15.2h-17.5zM3119,612.7h34.6v15.2h-34.6zM2677.7,627.5h13.7v15.2h-13.7zM2828,627.5h17.5v15.2h-17.5zM2810.8,746h17.5v15.2h-17.5zM3016.3,760.8h17.5v15.2h-17.5zM2691,790.4h17.5v15.2h-17.5zM3410,849.6h68.9v15.2h-68.9zM3410,864.4h17.5v15.2h-17.5zM3478.5,894.1h17.5v15.2h-17.5zM3238.8,953.3h17.5v15.2h-17.5zM3410,982.9h34.6v15.2h-34.6zM3392.9,1116.2h17.5v15.2h-17.5zM3256,1131h17.5v15.2h-17.5zM3461.4,1131h51.8v15.2h-51.8zM3410,1145.8h17.5v15.2h-17.5zM3495.6,1145.8h17.5v15.2h-17.5zM3529.9,1145.8h17.5v15.2h-17.5zM3410,1160.6h34.6v15.2h-34.6zM3461.4,1160.6h17.5v15.2h-17.5zM3495.6,1160.6h17.5v15.2h-17.5zM3427.2,1175.5h34.6v15.2h-34.6zM3512.8,1175.5h34.6v15.2h-34.6zM3444.3,1190.3h17.5v15.2h-17.5zM3478.5,1190.3h17.5v15.2h-17.5zM3529.9,1190.3h17.5v15.2h-17.5zM3427.2,1205.1h17.5v15.2h-17.5zM3495.6,1205.1h17.5v15.2h-17.5zM3529.9,1205.1h17.5v15.2h-17.5zM3427.2,1219.9h51.8v15.2h-51.8zM3495.6,1219.9h17.5v15.2h-17.5zM3204.6,1234.7h17.5v15.2h-17.5zM3461.4,1234.7h17.5v15.2h-17.5zM3512.8,1234.7h34.6v15.2h-34.6zM3392.9,1249.5h17.5v11.2h-17.5zM3427.2,1249.5h17.5v11.2h-17.5zM3461.4,1249.5h17.5v11.2h-17.5zM3495.6,1249.5h17.5v11.2h-17.5zM3529.9,1249.5h17.5v11.2h-17.5z"/><path fill="#539dc8" d="M2982,494.4h51.8v15h-51.8zM3204.6,494.4h17.5v15h-17.5zM2776.6,509h17.5v15.2h-17.5zM2776.6,523.8h17.5v15.2h-17.5zM2810.8,523.8h17.5v15.2h-17.5zM3084.8,523.8h17.5v15.2h-17.5zM3067.6,538.6h34.6v15.2h-34.6zM3170.4,553.4h17.5v15.2h-17.5zM3084.8,568.2h17.5v15.2h-17.5zM2982,583h17.5v15.2h-17.5zM3084.8,597.9h17.5v15.2h-17.5zM2759.5,612.7h17.5v15.2h-17.5zM3170.4,612.7h17.5v15.2h-17.5zM2828,731.1h17.5v15.2h-17.5zM2828,746h17.5v15.2h-17.5zM2828,760.8h17.5v15.2h-17.5zM3547,790.4h11.1v15.2h-11.1zM3410,820h17.5v15.2h-17.5zM3478.5,820h17.5v15.2h-17.5zM3427.2,894.1h17.5v15.2h-17.5zM3461.4,894.1h17.5v15.2h-17.5zM3495.6,894.1h34.6v15.2h-34.6zM3495.6,908.9h17.5v15.2h-17.5zM3547,953.3h11.1v15.2h-11.1zM3547,968.1h11.1v15.2h-11.1zM3444.3,982.9h17.5v15.2h-17.5zM3547,982.9h11.1v15.2h-11.1zM3238.8,1116.2h51.8v15.2h-51.8zM3512.8,1131h17.5v15.2h-17.5zM3512.8,1160.6h34.6v15.2h-34.6zM3410,1175.5h17.5v15.2h-17.5z"/><path fill="#63a7ce" d="M2930.7,494.4h17.5v15h-17.5zM2982,509h17.5v15.2h-17.5zM3136.1,509h17.5v15.2h-17.5zM3067.6,523.8h17.5v15.2h-17.5zM3153.2,523.8h34.6v15.2h-34.6zM3170.4,538.6h17.5v15.2h-17.5zM3153.2,553.4h17.5v15.2h-17.5zM3067.6,568.2h17.5v15.2h-17.5zM3101.9,568.2h17.5v15.2h-17.5zM3153.2,568.2h34.6v15.2h-34.6zM2930.7,583h17.5v15.2h-17.5zM3084.8,583h17.5v15.2h-17.5zM3153.2,583h17.5v15.2h-17.5zM2930.7,597.9h17.5v15.2h-17.5zM3067.6,597.9h17.5v15.2h-17.5zM3101.9,597.9h17.5v15.2h-17.5zM3153.2,597.9h17.5v15.2h-17.5zM3084.8,612.7h17.5v15.2h-17.5zM2691,627.5h17.5v15.2h-17.5zM2930.7,627.5h17.5v15.2h-17.5zM3016.3,642.3h17.5v15.2h-17.5zM3016.3,657.1h17.5v15.2h-17.5zM2828,671.9h17.5v15.2h-17.5zM2725.2,746h86v15.2h-86zM3170.4,790.4h17.5v15.2h-17.5zM3204.6,820h17.5v15.2h-17.5zM3461.4,820h17.5v15.2h-17.5zM3495.6,820h34.6v15.2h-34.6zM3427.2,834.8h68.9v15.2h-68.9zM3512.8,834.8h17.5v15.2h-17.5zM3529.9,849.6h17.5v15.2h-17.5zM3427.2,879.2h17.5v15.2h-17.5zM3461.4,879.2h17.5v15.2h-17.5zM3410,894.1h17.5v15.2h-17.5zM3444.3,894.1h17.5v15.2h-17.5zM3427.2,908.9h17.5v15.2h-17.5zM3461.4,908.9h17.5v15.2h-17.5zM3512.8,908.9h17.5v15.2h-17.5zM2862.2,938.5h17.5v15.2h-17.5zM3358.7,953.3h34.6v15.2h-34.6zM3529.9,982.9h17.5v15.2h-17.5zM3392.9,1027.3h17.5v15.2h-17.5zM3427.2,1027.3h34.6v15.2h-34.6zM3547,1027.3h11.1v15.2h-11.1zM3033.4,1086.6h17.5v15.2h-17.5zM3341.6,1116.2h17.5v15.2h-17.5zM3256,1145.8h17.5v15.2h-17.5zM3256,1160.6h17.5v15.2h-17.5zM3256,1175.5h17.5v15.2h-17.5zM3256,1190.3h17.5v15.2h-17.5zM3256,1205.1h17.5v15.2h-17.5zM3392.9,1234.7h17.5v15.2h-17.5z"/><path fill="#72b1d3" d="M3084.8,494.4h51.8v15h-51.8zM2708.1,509h17.5v15.2h-17.5zM2982,523.8h17.5v15.2h-17.5zM2982,538.6h17.5v15.2h-17.5zM3101.9,538.6h17.5v15.2h-17.5zM3153.2,538.6h17.5v15.2h-17.5zM2982,553.4h17.5v15.2h-17.5zM2982,568.2h17.5v15.2h-17.5zM3101.9,583h17.5v15.2h-17.5zM2930.7,612.7h17.5v15.2h-17.5zM3101.9,612.7h17.5v15.2h-17.5zM3153.2,612.7h17.5v15.2h-17.5zM2725.2,627.5h34.6v15.2h-34.6zM3033.4,627.5h17.5v15.2h-17.5zM3119,627.5h17.5v15.2h-17.5zM3153.2,627.5h17.5v15.2h-17.5zM2810.8,671.9h17.5v15.2h-17.5zM3016.3,671.9h17.5v15.2h-17.5zM3016.3,686.7h17.5v15.2h-17.5zM2759.5,731.1h17.5v15.2h-17.5zM2793.7,731.1h34.6v15.2h-34.6zM2691,746h34.6v15.2h-34.6zM2677.7,760.8h13.7v15.2h-13.7zM2742.4,760.8h17.5v15.2h-17.5zM2776.6,760.8h17.5v15.2h-17.5zM2725.2,790.4h17.5v15.2h-17.5zM2793.7,790.4h17.5v15.2h-17.5zM3050.5,790.4h17.5v15.2h-17.5zM3392.9,834.8h34.6v15.2h-34.6zM3495.6,834.8h17.5v15.2h-17.5zM3392.9,864.4h17.5v15.2h-17.5zM3547,864.4h11.1v15.2h-11.1zM3410,879.2h17.5v15.2h-17.5zM3444.3,879.2h17.5v15.2h-17.5zM3495.6,879.2h17.5v15.2h-17.5zM3547,879.2h11.1v15.2h-11.1zM3547,894.1h11.1v15.2h-11.1zM3204.6,923.7h17.5v15.2h-17.5zM3392.9,938.5h17.5v15.2h-17.5zM2879.3,953.3h34.6v15.2h-34.6zM3324.4,953.3h34.6v15.2h-34.6zM3461.4,982.9h68.9v15.2h-68.9zM3410,1027.3h17.5v15.2h-17.5zM3016.3,1057h17.5v15.2h-17.5zM3016.3,1071.8h17.5v15.2h-17.5zM2828,1086.6h17.5v15.2h-17.5zM2862.2,1116.2h17.5v15.2h-17.5zM3273.1,1131h17.5v15.2h-17.5zM3341.6,1131h17.5v15.2h-17.5zM3204.6,1145.8h17.5v15.2h-17.5zM3273.1,1145.8h17.5v15.2h-17.5zM3238.8,1160.6h17.5v15.2h-17.5zM3273.1,1175.5h17.5v15.2h-17.5zM3238.8,1190.3h17.5v15.2h-17.5zM3392.9,1190.3h17.5v15.2h-17.5zM3204.6,1205.1h17.5v15.2h-17.5zM3392.9,1205.1h17.5v15.2h-17.5zM3256,1219.9h17.5v15.2h-17.5zM3529.9,1219.9h17.5v15.2h-17.5zM3256,1234.7h17.5v15.2h-17.5zM3238.8,1249.5h17.5v11.2h-17.5z"/><path fill="#82bbd9" d="M2862.2,494.4h17.5v15h-17.5zM3136.1,494.4h17.5v15h-17.5zM2999.2,509h17.5v15.2h-17.5zM3101.9,523.8h17.5v15.2h-17.5zM3067.6,553.4h17.5v15.2h-17.5zM3101.9,553.4h17.5v15.2h-17.5zM2810.8,583h17.5v15.2h-17.5zM3067.6,583h17.5v15.2h-17.5zM3170.4,583h17.5v15.2h-17.5zM2810.8,597.9h17.5v15.2h-17.5zM3170.4,597.9h17.5v15.2h-17.5zM2810.8,612.7h17.5v15.2h-17.5zM2845.1,612.7h17.5v15.2h-17.5zM3067.6,612.7h17.5v15.2h-17.5zM2759.5,627.5h68.9v15.2h-68.9zM3067.6,627.5h17.5v15.2h-17.5zM2677.7,731.1h13.7v15.2h-13.7zM2708.1,731.1h51.8v15.2h-51.8zM2776.6,731.1h17.5v15.2h-17.5zM2677.7,746h13.7v15.2h-13.7zM2691,760.8h51.8v15.2h-51.8zM2759.5,760.8h17.5v15.2h-17.5zM2793.7,760.8h34.6v15.2h-34.6zM2677.7,790.4h13.7v15.2h-13.7zM2708.1,790.4h17.5v15.2h-17.5zM2742.4,790.4h51.8v15.2h-51.8zM3427.2,820h34.6v15.2h-34.6zM3547,849.6h11.1v15.2h-11.1zM3478.5,879.2h17.5v15.2h-17.5zM3512.8,879.2h17.5v15.2h-17.5zM3392.9,908.9h34.6v15.2h-34.6zM3444.3,908.9h17.5v15.2h-17.5zM3478.5,908.9h17.5v15.2h-17.5zM3529.9,968.1h17.5v15.2h-17.5zM2810.8,1042.2h17.5v15.2h-17.5zM3547,1086.6h11.1v15.2h-11.1zM3410,1101.4h17.5v15.2h-17.5zM2913.6,1131h17.5v15.2h-17.5zM3238.8,1131h17.5v15.2h-17.5zM3392.9,1131h68.9v15.2h-68.9zM3238.8,1145.8h17.5v15.2h-17.5zM3392.9,1145.8h17.5v15.2h-17.5zM3204.6,1160.6h17.5v15.2h-17.5zM3273.1,1160.6h17.5v15.2h-17.5zM3392.9,1160.6h17.5v15.2h-17.5zM3204.6,1175.5h17.5v15.2h-17.5zM3238.8,1175.5h17.5v15.2h-17.5zM3392.9,1175.5h17.5v15.2h-17.5zM3204.6,1190.3h17.5v15.2h-17.5zM3273.1,1190.3h17.5v15.2h-17.5zM3238.8,1205.1h17.5v15.2h-17.5zM3273.1,1205.1h17.5v15.2h-17.5zM3204.6,1219.9h17.5v15.2h-17.5zM3238.8,1219.9h17.5v15.2h-17.5zM3273.1,1219.9h17.5v15.2h-17.5zM3238.8,1234.7h17.5v15.2h-17.5zM3204.6,1249.5h17.5v11.2h-17.5zM3256,1249.5h34.6v11.2h-34.6z"/><path fill="#92c5de" d="M2964.9,494.4h17.5v15h-17.5zM3153.2,494.4h17.5v15h-17.5zM2930.7,523.8h17.5v15.2h-17.5zM2930.7,538.6h17.5v15.2h-17.5zM2930.7,553.4h17.5v15.2h-17.5zM2930.7,568.2h17.5v15.2h-17.5zM3050.5,597.9h17.5v15.2h-17.5zM3033.4,612.7h17.5v15.2h-17.5zM2708.1,627.5h17.5v15.2h-17.5zM2845.1,627.5h17.5v15.2h-17.5zM2947.8,627.5h51.8v15.2h-51.8zM3050.5,627.5h17.5v15.2h-17.5zM3084.8,627.5h34.6v15.2h-34.6zM3136.1,627.5h17.5v15.2h-17.5zM2742.4,657.1h17.5v15.2h-17.5zM3016.3,716.3h17.5v15.2h-17.5zM2691,731.1h17.5v15.2h-17.5zM3170.4,731.1h17.5v15.2h-17.5zM2999.2,746h17.5v15.2h-17.5zM3170.4,760.8h17.5v15.2h-17.5zM3016.3,775.6h17.5v15.2h-17.5zM3067.6,790.4h17.5v15.2h-17.5zM3187.5,790.4h17.5v15.2h-17.5zM3204.6,805.2h17.5v15.2h-17.5zM3238.8,820h17.5v15.2h-17.5zM3273.1,820h17.5v15.2h-17.5zM3547,834.8h11.1v15.2h-11.1zM3392.9,849.6h17.5v15.2h-17.5zM3392.9,879.2h17.5v15.2h-17.5zM3392.9,894.1h17.5v15.2h-17.5zM3204.6,908.9h17.5v15.2h-17.5zM3392.9,923.7h17.5v15.2h-17.5zM3427.2,923.7h17.5v15.2h-17.5zM3410,938.5h17.5v15.2h-17.5zM3221.7,953.3h17.5v15.2h-17.5zM3290.2,953.3h17.5v15.2h-17.5zM2879.3,968.1h17.5v15.2h-17.5zM3256,968.1h17.5v15.2h-17.5zM3392.9,982.9h17.5v15.2h-17.5zM3392.9,997.7h17.5v15.2h-17.5zM3547,997.7h11.1v15.2h-11.1zM3392.9,1012.5h17.5v15.2h-17.5zM3461.4,1027.3h68.9v15.2h-68.9zM2828,1042.2h17.5v15.2h-17.5zM2999.2,1071.8h17.5v15.2h-17.5zM3392.9,1101.4h17.5v15.2h-17.5zM2913.6,1116.2h17.5v15.2h-17.5zM3358.7,1190.3h17.5v15.2h-17.5zM3392.9,1219.9h17.5v15.2h-17.5zM3273.1,1234.7h17.5v15.2h-17.5z"/><path fill="#9fcbe2" d="M2677.7,494.4h13.7v15h-13.7zM2913.6,494.4h17.5v15h-17.5zM3101.9,509h17.5v15.2h-17.5zM2845.1,523.8h17.5v15.2h-17.5zM3033.4,523.8h34.6v15.2h-34.6zM2845.1,538.6h34.6v15.2h-34.6zM3050.5,538.6h17.5v15.2h-17.5zM2845.1,553.4h34.6v15.2h-34.6zM3050.5,553.4h17.5v15.2h-17.5zM2845.1,568.2h17.5v15.2h-17.5zM2845.1,583h17.5v15.2h-17.5zM3033.4,583h34.6v15.2h-34.6zM2845.1,597.9h17.5v15.2h-17.5zM2964.9,597.9h17.5v15.2h-17.5zM2964.9,612.7h17.5v15.2h-17.5zM3050.5,612.7h17.5v15.2h-17.5zM2913.6,627.5h17.5v15.2h-17.5zM2691,642.3h34.6v15.2h-34.6zM2742.4,642.3h17.5v15.2h-17.5zM2776.6,642.3h17.5v15.2h-17.5zM3204.6,642.3h17.5v15.2h-17.5zM2691,657.1h51.8v15.2h-51.8zM2759.5,657.1h86v15.2h-86zM2725.2,671.9h68.9v15.2h-68.9zM3016.3,701.5h17.5v15.2h-17.5zM3153.2,731.1h17.5v15.2h-17.5zM2982,746h17.5v15.2h-17.5zM3119,746h17.5v15.2h-17.5zM3187.5,746h17.5v15.2h-17.5zM2999.2,760.8h17.5v15.2h-17.5zM3153.2,760.8h17.5v15.2h-17.5zM2793.7,775.6h17.5v15.2h-17.5zM2982,775.6h17.5v15.2h-17.5zM3101.9,775.6h17.5v15.2h-17.5zM3375.8,790.4h17.5v15.2h-17.5zM3256,805.2h17.5v15.2h-17.5zM3238.8,834.8h17.5v15.2h-17.5zM3273.1,834.8h17.5v15.2h-17.5zM3256,864.4h17.5v15.2h-17.5zM3221.7,879.2h17.5v15.2h-17.5zM3529.9,879.2h17.5v15.2h-17.5zM3410,923.7h17.5v15.2h-17.5zM3444.3,923.7h17.5v15.2h-17.5zM3478.5,923.7h51.8v15.2h-51.8zM3444.3,938.5h17.5v15.2h-17.5zM3512.8,938.5h17.5v15.2h-17.5zM3307.3,953.3h17.5v15.2h-17.5zM3238.8,968.1h17.5v15.2h-17.5zM2879.3,982.9h17.5v15.2h-17.5zM3221.7,982.9h17.5v15.2h-17.5zM3256,982.9h17.5v15.2h-17.5zM3410,997.7h34.6v15.2h-34.6zM3392.9,1042.2h17.5v15.2h-17.5zM3547,1042.2h11.1v15.2h-11.1zM2982,1071.8h17.5v15.2h-17.5zM2810.8,1086.6h17.5v15.2h-17.5zM3478.5,1086.6h34.6v15.2h-34.6zM3427.2,1101.4h103.1v15.2h-103.1zM3358.7,1116.2h17.5v15.2h-17.5zM2862.2,1131h17.5v15.2h-17.5zM3358.7,1131h17.5v15.2h-17.5zM3221.7,1145.8h17.5v15.2h-17.5zM3358.7,1145.8h17.5v15.2h-17.5zM3341.6,1160.6h51.8v15.2h-51.8zM3341.6,1175.5h34.6v15.2h-34.6zM3341.6,1190.3h17.5v15.2h-17.5zM3375.8,1190.3h17.5v15.2h-17.5zM3341.6,1205.1h34.6v15.2h-34.6zM3358.7,1219.9h34.6v15.2h-34.6zM3358.7,1234.7h34.6v15.2h-34.6zM3547,1249.5h11.1v11.2h-11.1z"/><path fill="#abd2e5" d="M2708.1,494.4h103.1v15h-103.1zM2845.1,494.4h17.5v15h-17.5zM3050.5,494.4h17.5v15h-17.5zM3033.4,509h17.5v15.2h-17.5zM3187.5,509h17.5v15.2h-17.5zM2862.2,523.8h17.5v15.2h-17.5zM3033.4,538.6h17.5v15.2h-17.5zM3033.4,553.4h17.5v15.2h-17.5zM2862.2,568.2h17.5v15.2h-17.5zM3033.4,568.2h34.6v15.2h-34.6zM2862.2,583h17.5v15.2h-17.5zM2964.9,583h17.5v15.2h-17.5zM2862.2,597.9h17.5v15.2h-17.5zM3033.4,597.9h17.5v15.2h-17.5zM2862.2,612.7h17.5v15.2h-17.5zM2677.7,642.3h13.7v15.2h-13.7zM2725.2,642.3h17.5v15.2h-17.5zM2759.5,642.3h17.5v15.2h-17.5zM2793.7,642.3h34.6v15.2h-34.6zM3119,642.3h17.5v15.2h-17.5zM2677.7,657.1h13.7v15.2h-13.7zM2982,657.1h17.5v15.2h-17.5zM2677.7,671.9h47.9v15.2h-47.9zM2793.7,671.9h17.5v15.2h-17.5zM3153.2,671.9h34.6v15.2h-34.6zM2982,731.1h34.6v15.2h-34.6zM3119,731.1h17.5v15.2h-17.5zM3187.5,731.1h17.5v15.2h-17.5zM3153.2,746h34.6v15.2h-34.6zM3033.4,760.8h17.5v15.2h-17.5zM3187.5,760.8h17.5v15.2h-17.5zM2691,775.6h103.1v15.2h-103.1zM2828,775.6h17.5v15.2h-17.5zM2947.8,790.4h17.5v15.2h-17.5zM3238.8,805.2h17.5v15.2h-17.5zM3273.1,805.2h17.5v15.2h-17.5zM3529.9,805.2h17.5v15.2h-17.5zM3256,820h17.5v15.2h-17.5zM3341.6,820h17.5v15.2h-17.5zM3256,834.8h17.5v15.2h-17.5zM3341.6,834.8h17.5v15.2h-17.5zM3273.1,864.4h17.5v15.2h-17.5zM3375.8,864.4h17.5v15.2h-17.5zM3461.4,923.7h17.5v15.2h-17.5zM3547,923.7h11.1v15.2h-11.1zM3238.8,938.5h17.5v15.2h-17.5zM3427.2,938.5h17.5v15.2h-17.5zM3461.4,938.5h51.8v15.2h-51.8zM3529.9,938.5h17.5v15.2h-17.5zM3273.1,968.1h17.5v15.2h-17.5zM2810.8,982.9h17.5v15.2h-17.5zM3273.1,982.9h17.5v15.2h-17.5zM3358.7,982.9h17.5v15.2h-17.5zM2810.8,997.7h17.5v15.2h-17.5zM3444.3,997.7h17.5v15.2h-17.5zM3204.6,1012.5h17.5v15.2h-17.5zM2810.8,1057h17.5v15.2h-17.5zM2810.8,1071.8h17.5v15.2h-17.5zM3410,1086.6h68.9v15.2h-68.9zM3512.8,1086.6h17.5v15.2h-17.5zM3547,1101.4h11.1v15.2h-11.1zM3221.7,1116.2h17.5v15.2h-17.5zM2879.3,1131h34.6v15.2h-34.6zM2964.9,1131h34.6v15.2h-34.6zM3375.8,1131h17.5v15.2h-17.5zM3341.6,1145.8h17.5v15.2h-17.5zM3375.8,1145.8h17.5v15.2h-17.5zM3547,1145.8h11.1v15.2h-11.1zM3221.7,1160.6h17.5v15.2h-17.5zM3547,1160.6h11.1v15.2h-11.1zM3221.7,1175.5h17.5v15.2h-17.5zM3375.8,1175.5h17.5v15.2h-17.5zM3547,1175.5h11.1v15.2h-11.1zM3221.7,1190.3h17.5v15.2h-17.5zM3547,1190.3h11.1v15.2h-11.1zM3221.7,1205.1h17.5v15.2h-17.5zM3375.8,1205.1h17.5v15.2h-17.5zM3547,1205.1h11.1v15.2h-11.1zM3221.7,1219.9h17.5v15.2h-17.5zM3341.6,1219.9h17.5v15.2h-17.5zM3547,1219.9h11.1v15.2h-11.1zM3221.7,1234.7h17.5v15.2h-17.5zM3341.6,1234.7h17.5v15.2h-17.5zM3341.6,1249.5h51.8v11.2h-51.8z"/><path fill="#b8d8e9" d="M3067.6,494.4h17.5v15h-17.5zM3187.5,494.4h17.5v15h-17.5zM3119,509h17.5v15.2h-17.5zM2828,642.3h17.5v15.2h-17.5zM2999.2,657.1h17.5v15.2h-17.5zM3204.6,686.7h17.5v15.2h-17.5zM2708.1,701.5h34.6v15.2h-34.6zM2759.5,701.5h17.5v15.2h-17.5zM2930.7,716.3h17.5v15.2h-17.5zM2982,716.3h17.5v15.2h-17.5zM3084.8,731.1h17.5v15.2h-17.5zM3119,760.8h17.5v15.2h-17.5zM2677.7,775.6h13.7v15.2h-13.7zM2930.7,775.6h17.5v15.2h-17.5zM3187.5,775.6h34.6v15.2h-34.6zM3221.7,790.4h17.5v15.2h-17.5zM3324.4,790.4h17.5v15.2h-17.5zM3221.7,805.2h17.5v15.2h-17.5zM3547,805.2h11.1v15.2h-11.1zM3238.8,864.4h17.5v15.2h-17.5zM3529.9,864.4h17.5v15.2h-17.5zM3273.1,894.1h17.5v15.2h-17.5zM3547,908.9h11.1v15.2h-11.1zM2862.2,953.3h17.5v15.2h-17.5zM3358.7,968.1h17.5v15.2h-17.5zM3290.2,982.9h17.5v15.2h-17.5zM3221.7,1027.3h17.5v15.2h-17.5zM3290.2,1027.3h17.5v15.2h-17.5zM3016.3,1086.6h17.5v15.2h-17.5zM3375.8,1116.2h17.5v15.2h-17.5zM3307.3,1175.5h17.5v15.2h-17.5zM3307.3,1205.1h17.5v15.2h-17.5zM3307.3,1219.9h17.5v15.2h-17.5zM3221.7,1249.5h17.5v11.2h-17.5z"/><path fill="#c4dfec" d="M2947.8,494.4h17.5v15h-17.5zM2947.8,553.4h17.5v15.2h-17.5zM2913.6,612.7h17.5v15.2h-17.5zM2999.2,642.3h17.5v15.2h-17.5zM3153.2,642.3h51.8v15.2h-51.8zM2982,686.7h34.6v15.2h-34.6zM2677.7,701.5h30.8v15.2h-30.8zM2742.4,701.5h17.5v15.2h-17.5zM2776.6,701.5h68.9v15.2h-68.9zM3033.4,731.1h17.5v15.2h-17.5zM2999.2,775.6h17.5v15.2h-17.5zM3170.4,775.6h17.5v15.2h-17.5zM2999.2,790.4h34.6v15.2h-34.6zM3084.8,790.4h17.5v15.2h-17.5zM3375.8,805.2h17.5v15.2h-17.5zM3221.7,820h17.5v15.2h-17.5zM3375.8,820h17.5v15.2h-17.5zM2982,834.8h17.5v15.2h-17.5zM3375.8,834.8h17.5v15.2h-17.5zM3204.6,894.1h17.5v15.2h-17.5zM3273.1,938.5h17.5v15.2h-17.5zM2845.1,953.3h17.5v15.2h-17.5zM3204.6,953.3h17.5v15.2h-17.5zM3204.6,968.1h34.6v15.2h-34.6zM3324.4,968.1h17.5v15.2h-17.5zM3375.8,968.1h17.5v15.2h-17.5zM3153.2,982.9h17.5v15.2h-17.5zM3324.4,982.9h17.5v15.2h-17.5zM3478.5,1012.5h17.5v15.2h-17.5zM3547,1012.5h11.1v15.2h-11.1zM2759.5,1042.2h17.5v15.2h-17.5zM3410,1042.2h17.5v15.2h-17.5zM2828,1057h17.5v15.2h-17.5zM3016.3,1101.4h17.5v15.2h-17.5zM2896.4,1116.2h17.5v15.2h-17.5zM3307.3,1116.2h17.5v15.2h-17.5zM3307.3,1131h17.5v15.2h-17.5zM3307.3,1145.8h17.5v15.2h-17.5zM3307.3,1160.6h17.5v15.2h-17.5zM2913.6,1175.5h17.5v15.2h-17.5zM3307.3,1190.3h17.5v15.2h-17.5zM3307.3,1234.7h17.5v15.2h-17.5zM3307.3,1249.5h17.5v11.2h-17.5z"/><path fill="#d1e5f0" d="M2691,494.4h17.5v15h-17.5zM2810.8,494.4h17.5v15h-17.5zM2879.3,494.4h17.5v15h-17.5zM3170.4,494.4h17.5v15h-17.5zM3341.6,494.4h17.5v15h-17.5zM2845.1,509h17.5v15.2h-17.5zM3067.6,509h34.6v15.2h-34.6zM2947.8,523.8h34.6v15.2h-34.6zM3204.6,523.8h17.5v15.2h-17.5zM2947.8,538.6h34.6v15.2h-34.6zM3204.6,538.6h17.5v15.2h-17.5zM2964.9,553.4h17.5v15.2h-17.5zM3204.6,553.4h17.5v15.2h-17.5zM2947.8,568.2h34.6v15.2h-34.6zM3204.6,568.2h17.5v15.2h-17.5zM2913.6,583h17.5v15.2h-17.5zM2947.8,583h17.5v15.2h-17.5zM3204.6,583h17.5v15.2h-17.5zM2913.6,597.9h17.5v15.2h-17.5zM2947.8,597.9h17.5v15.2h-17.5zM3204.6,597.9h17.5v15.2h-17.5zM2947.8,612.7h17.5v15.2h-17.5zM3204.6,612.7h17.5v15.2h-17.5zM2930.7,642.3h17.5v15.2h-17.5zM2982,642.3h17.5v15.2h-17.5zM2999.2,671.9h17.5v15.2h-17.5zM3119,671.9h17.5v15.2h-17.5zM3547,671.9h11.1v15.2h-11.1zM2677.7,686.7h13.7v15.2h-13.7zM2725.2,686.7h17.5v15.2h-17.5zM2759.5,686.7h51.8v15.2h-51.8zM2828,686.7h17.5v15.2h-17.5zM3119,686.7h17.5v15.2h-17.5zM2982,701.5h34.6v15.2h-34.6zM3204.6,701.5h17.5v15.2h-17.5zM2677.7,716.3h82.2v15.2h-82.2zM2793.7,716.3h51.8v15.2h-51.8zM2999.2,716.3h17.5v15.2h-17.5zM3153.2,716.3h17.5v15.2h-17.5zM3204.6,716.3h17.5v15.2h-17.5zM2930.7,731.1h17.5v15.2h-17.5zM3067.6,731.1h17.5v15.2h-17.5zM2930.7,746h17.5v15.2h-17.5zM3033.4,746h17.5v15.2h-17.5zM3136.1,746h17.5v15.2h-17.5zM2930.7,760.8h17.5v15.2h-17.5zM2982,760.8h17.5v15.2h-17.5zM3067.6,760.8h34.6v15.2h-34.6zM2810.8,775.6h17.5v15.2h-17.5zM2879.3,775.6h17.5v15.2h-17.5zM2913.6,775.6h17.5v15.2h-17.5zM3119,775.6h34.6v15.2h-34.6zM2845.1,790.4h17.5v15.2h-17.5zM2896.4,790.4h17.5v15.2h-17.5zM2964.9,790.4h17.5v15.2h-17.5zM3101.9,790.4h17.5v15.2h-17.5zM3153.2,790.4h17.5v15.2h-17.5zM3290.2,790.4h34.6v15.2h-34.6zM3410,790.4h120.2v15.2h-120.2zM3547,820h11.1v15.2h-11.1zM3204.6,834.8h17.5v15.2h-17.5zM3290.2,834.8h17.5v15.2h-17.5zM3221.7,849.6h17.5v15.2h-17.5zM3256,849.6h17.5v15.2h-17.5zM3221.7,864.4h17.5v15.2h-17.5zM3324.4,864.4h34.6v15.2h-34.6zM3204.6,879.2h17.5v15.2h-17.5zM3238.8,894.1h17.5v15.2h-17.5zM3529.9,894.1h17.5v15.2h-17.5zM3238.8,908.9h17.5v15.2h-17.5zM3273.1,908.9h17.5v15.2h-17.5zM3529.9,908.9h17.5v15.2h-17.5zM2879.3,938.5h17.5v15.2h-17.5zM3256,938.5h17.5v15.2h-17.5zM3290.2,968.1h34.6v15.2h-34.6zM3341.6,968.1h17.5v15.2h-17.5zM3238.8,982.9h17.5v15.2h-17.5zM3307.3,982.9h17.5v15.2h-17.5zM3375.8,982.9h17.5v15.2h-17.5zM3204.6,997.7h17.5v15.2h-17.5zM3461.4,997.7h68.9v15.2h-68.9zM3410,1012.5h68.9v15.2h-68.9zM3495.6,1012.5h34.6v15.2h-34.6zM2810.8,1027.3h34.6v15.2h-34.6zM3238.8,1027.3h51.8v15.2h-51.8zM3375.8,1027.3h17.5v15.2h-17.5zM2691,1042.2h34.6v15.2h-34.6zM2742.4,1042.2h17.5v15.2h-17.5zM2793.7,1042.2h17.5v15.2h-17.5zM3221.7,1042.2h17.5v15.2h-17.5zM3427.2,1042.2h34.6v15.2h-34.6zM3204.6,1057h17.5v15.2h-17.5zM2828,1071.8h17.5v15.2h-17.5zM3033.4,1071.8h17.5v15.2h-17.5zM3221.7,1071.8h17.5v15.2h-17.5zM3547,1071.8h11.1v15.2h-11.1zM3204.6,1101.4h17.5v15.2h-17.5zM3529.9,1101.4h17.5v15.2h-17.5zM2879.3,1116.2h17.5v15.2h-17.5zM2930.7,1116.2h17.5v15.2h-17.5zM3290.2,1116.2h17.5v15.2h-17.5zM3324.4,1116.2h17.5v15.2h-17.5zM2930.7,1131h17.5v15.2h-17.5zM3221.7,1131h17.5v15.2h-17.5zM3290.2,1131h17.5v15.2h-17.5zM3547,1131h11.1v15.2h-11.1zM2913.6,1145.8h17.5v15.2h-17.5zM3290.2,1145.8h17.5v15.2h-17.5zM3324.4,1145.8h17.5v15.2h-17.5zM3324.4,1160.6h17.5v15.2h-17.5zM3324.4,1175.5h17.5v15.2h-17.5zM2913.6,1190.3h17.5v15.2h-17.5zM3290.2,1190.3h17.5v15.2h-17.5zM3290.2,1205.1h17.5v15.2h-17.5zM3324.4,1205.1h17.5v15.2h-17.5zM2913.6,1219.9h17.5v15.2h-17.5zM3290.2,1219.9h17.5v15.2h-17.5zM2913.6,1234.7h17.5v15.2h-17.5zM3290.2,1234.7h17.5v15.2h-17.5zM3547,1234.7h11.1v15.2h-11.1zM3290.2,1249.5h17.5v11.2h-17.5zM3324.4,1249.5h17.5v11.2h-17.5z"/><path fill="#d9e9f1" d="M2828,494.4h17.5v15h-17.5zM3033.4,494.4h17.5v15h-17.5zM3221.7,494.4h17.5v15h-17.5zM3050.5,509h17.5v15.2h-17.5zM3084.8,642.3h17.5v15.2h-17.5zM2930.7,657.1h17.5v15.2h-17.5zM3119,657.1h17.5v15.2h-17.5zM3187.5,657.1h17.5v15.2h-17.5zM2691,686.7h34.6v15.2h-34.6zM2742.4,686.7h17.5v15.2h-17.5zM2810.8,686.7h17.5v15.2h-17.5zM2930.7,686.7h17.5v15.2h-17.5zM3153.2,701.5h17.5v15.2h-17.5zM2759.5,716.3h34.6v15.2h-34.6zM2913.6,716.3h17.5v15.2h-17.5zM3136.1,731.1h17.5v15.2h-17.5zM3084.8,746h17.5v15.2h-17.5zM3136.1,760.8h17.5v15.2h-17.5zM2845.1,775.6h34.6v15.2h-34.6zM2947.8,775.6h34.6v15.2h-34.6zM3067.6,775.6h17.5v15.2h-17.5zM3153.2,775.6h17.5v15.2h-17.5zM3547,775.6h11.1v15.2h-11.1zM2879.3,790.4h17.5v15.2h-17.5zM3358.7,805.2h17.5v15.2h-17.5zM3221.7,834.8h17.5v15.2h-17.5zM3307.3,834.8h17.5v15.2h-17.5zM3238.8,849.6h17.5v15.2h-17.5zM3273.1,849.6h17.5v15.2h-17.5zM3358.7,864.4h17.5v15.2h-17.5zM3256,894.1h17.5v15.2h-17.5zM3375.8,894.1h17.5v15.2h-17.5zM3221.7,908.9h17.5v15.2h-17.5zM3529.9,923.7h17.5v15.2h-17.5zM3547,938.5h11.1v15.2h-11.1zM2845.1,982.9h17.5v15.2h-17.5zM3221.7,997.7h17.5v15.2h-17.5zM2810.8,1012.5h17.5v15.2h-17.5zM3221.7,1012.5h17.5v15.2h-17.5zM3324.4,1027.3h17.5v15.2h-17.5zM3358.7,1027.3h17.5v15.2h-17.5zM2677.7,1042.2h13.7v15.2h-13.7zM2725.2,1042.2h17.5v15.2h-17.5zM2776.6,1042.2h17.5v15.2h-17.5zM3290.2,1042.2h17.5v15.2h-17.5zM2793.7,1071.8h17.5v15.2h-17.5zM3204.6,1071.8h17.5v15.2h-17.5zM3221.7,1086.6h17.5v15.2h-17.5zM2982,1101.4h17.5v15.2h-17.5zM3221.7,1101.4h17.5v15.2h-17.5zM3547,1116.2h11.1v15.2h-11.1zM2947.8,1131h17.5v15.2h-17.5zM3324.4,1131h17.5v15.2h-17.5zM2879.3,1145.8h17.5v15.2h-17.5zM2913.6,1160.6h17.5v15.2h-17.5zM3290.2,1160.6h17.5v15.2h-17.5zM3290.2,1175.5h17.5v15.2h-17.5zM3324.4,1190.3h17.5v15.2h-17.5zM2913.6,1205.1h17.5v15.2h-17.5zM3324.4,1219.9h17.5v15.2h-17.5zM3324.4,1234.7h17.5v15.2h-17.5zM2913.6,1249.5h17.5v11.2h-17.5z"/><path fill="#e0ecf3" d="M3238.8,494.4h17.5v15h-17.5zM3153.2,509h17.5v15.2h-17.5zM3290.2,509h17.5v15.2h-17.5zM3341.6,509h17.5v15.2h-17.5zM3221.7,627.5h17.5v15.2h-17.5zM3136.1,642.3h17.5v15.2h-17.5zM3136.1,657.1h51.8v15.2h-51.8zM3204.6,657.1h17.5v15.2h-17.5zM2930.7,671.9h34.6v15.2h-34.6zM2982,671.9h17.5v15.2h-17.5zM3033.4,671.9h17.5v15.2h-17.5zM3187.5,671.9h17.5v15.2h-17.5zM3529.9,671.9h17.5v15.2h-17.5zM3187.5,686.7h17.5v15.2h-17.5zM3119,716.3h17.5v15.2h-17.5zM3170.4,716.3h34.6v15.2h-34.6zM3529.9,716.3h17.5v15.2h-17.5zM3050.5,731.1h17.5v15.2h-17.5zM3547,760.8h11.1v15.2h-11.1zM2896.4,775.6h17.5v15.2h-17.5zM3084.8,775.6h17.5v15.2h-17.5zM3392.9,775.6h17.5v15.2h-17.5zM2913.6,790.4h17.5v15.2h-17.5zM2982,790.4h17.5v15.2h-17.5zM3358.7,790.4h17.5v15.2h-17.5zM3290.2,805.2h17.5v15.2h-17.5zM3324.4,805.2h34.6v15.2h-34.6zM3290.2,820h17.5v15.2h-17.5zM3358.7,820h17.5v15.2h-17.5zM3358.7,834.8h17.5v15.2h-17.5zM3529.9,834.8h17.5v15.2h-17.5zM3358.7,849.6h34.6v15.2h-34.6zM3290.2,864.4h17.5v15.2h-17.5zM3221.7,894.1h17.5v15.2h-17.5zM3273.1,923.7h17.5v15.2h-17.5zM2930.7,938.5h17.5v15.2h-17.5zM2982,938.5h17.5v15.2h-17.5zM3341.6,938.5h17.5v15.2h-17.5zM3033.4,982.9h17.5v15.2h-17.5zM3204.6,982.9h17.5v15.2h-17.5zM3341.6,982.9h17.5v15.2h-17.5zM3341.6,1012.5h17.5v15.2h-17.5zM3033.4,1027.3h17.5v15.2h-17.5zM3341.6,1027.3h17.5v15.2h-17.5zM3204.6,1042.2h17.5v15.2h-17.5zM3221.7,1057h17.5v15.2h-17.5zM2677.7,1071.8h30.8v15.2h-30.8zM2742.4,1071.8h17.5v15.2h-17.5zM2776.6,1071.8h17.5v15.2h-17.5zM2810.8,1101.4h17.5v15.2h-17.5zM2845.1,1131h17.5v15.2h-17.5zM2879.3,1160.6h17.5v15.2h-17.5zM2879.3,1190.3h17.5v15.2h-17.5zM2879.3,1234.7h17.5v15.2h-17.5zM2879.3,1249.5h17.5v11.2h-17.5z"/><path fill="#e8f0f4" d="M2896.4,494.4h17.5v15h-17.5zM3273.1,494.4h17.5v15h-17.5zM3358.7,494.4h17.5v15h-17.5zM3221.7,509h17.5v15.2h-17.5zM2913.6,523.8h17.5v15.2h-17.5zM2913.6,538.6h17.5v15.2h-17.5zM2913.6,553.4h17.5v15.2h-17.5zM2913.6,568.2h17.5v15.2h-17.5zM2896.4,612.7h17.5v15.2h-17.5zM3547,657.1h11.1v15.2h-11.1zM3136.1,671.9h17.5v15.2h-17.5zM3153.2,686.7h34.6v15.2h-34.6zM2913.6,731.1h17.5v15.2h-17.5zM2947.8,731.1h17.5v15.2h-17.5zM3547,731.1h11.1v15.2h-11.1zM3529.9,775.6h17.5v15.2h-17.5zM3324.4,820h17.5v15.2h-17.5zM3324.4,834.8h17.5v15.2h-17.5zM3341.6,849.6h17.5v15.2h-17.5zM2896.4,968.1h17.5v15.2h-17.5zM2896.4,982.9h17.5v15.2h-17.5zM2828,997.7h17.5v15.2h-17.5zM3273.1,1012.5h17.5v15.2h-17.5zM3273.1,1042.2h17.5v15.2h-17.5zM3461.4,1042.2h68.9v15.2h-68.9zM2982,1057h34.6v15.2h-34.6zM3410,1057h17.5v15.2h-17.5zM3547,1057h11.1v15.2h-11.1zM2708.1,1071.8h34.6v15.2h-34.6zM2759.5,1071.8h17.5v15.2h-17.5zM2964.9,1116.2h17.5v15.2h-17.5zM2879.3,1175.5h17.5v15.2h-17.5zM2879.3,1205.1h17.5v15.2h-17.5zM2879.3,1219.9h17.5v15.2h-17.5z"/><path fill="#eff3f6" d="M3290.2,494.4h34.6v15h-34.6zM2862.2,509h17.5v15.2h-17.5zM2862.2,627.5h51.8v15.2h-51.8zM3067.6,657.1h17.5v15.2h-17.5zM3084.8,671.9h17.5v15.2h-17.5zM3084.8,686.7h17.5v15.2h-17.5zM3119,701.5h17.5v15.2h-17.5zM3170.4,701.5h17.5v15.2h-17.5zM3547,701.5h11.1v15.2h-11.1zM2947.8,716.3h17.5v15.2h-17.5zM3547,716.3h11.1v15.2h-11.1zM3101.9,731.1h17.5v15.2h-17.5zM3067.6,746h17.5v15.2h-17.5zM3101.9,760.8h17.5v15.2h-17.5zM3033.4,775.6h17.5v15.2h-17.5zM3119,790.4h17.5v15.2h-17.5zM2862.2,820h17.5v15.2h-17.5zM3307.3,820h17.5v15.2h-17.5zM2913.6,834.8h17.5v15.2h-17.5zM2879.3,849.6h17.5v15.2h-17.5zM3033.4,849.6h17.5v15.2h-17.5zM2896.4,864.4h17.5v15.2h-17.5zM3033.4,864.4h17.5v15.2h-17.5zM3204.6,864.4h17.5v15.2h-17.5zM3307.3,864.4h17.5v15.2h-17.5zM3238.8,879.2h17.5v15.2h-17.5zM3273.1,879.2h17.5v15.2h-17.5zM3324.4,894.1h34.6v15.2h-34.6zM3256,908.9h17.5v15.2h-17.5zM3358.7,908.9h17.5v15.2h-17.5zM3119,938.5h34.6v15.2h-34.6zM3221.7,938.5h17.5v15.2h-17.5zM2913.6,953.3h17.5v15.2h-17.5zM2947.8,953.3h17.5v15.2h-17.5zM2828,982.9h17.5v15.2h-17.5zM2759.5,1012.5h51.8v15.2h-51.8zM3016.3,1012.5h17.5v15.2h-17.5zM3290.2,1012.5h17.5v15.2h-17.5zM3016.3,1042.2h17.5v15.2h-17.5zM3153.2,1042.2h17.5v15.2h-17.5zM3119,1057h17.5v15.2h-17.5zM3392.9,1057h17.5v15.2h-17.5zM3136.1,1071.8h17.5v15.2h-17.5zM3392.9,1071.8h17.5v15.2h-17.5zM3170.4,1086.6h17.5v15.2h-17.5zM3392.9,1086.6h17.5v15.2h-17.5zM3529.9,1086.6h17.5v15.2h-17.5zM2982,1116.2h17.5v15.2h-17.5zM2947.8,1145.8h17.5v15.2h-17.5zM2947.8,1160.6h17.5v15.2h-17.5zM2947.8,1175.5h17.5v15.2h-17.5z"/><path fill="#f7f7f7" d="M2930.7,509h17.5v15.2h-17.5zM2964.9,509h17.5v15.2h-17.5zM3170.4,509h17.5v15.2h-17.5zM3324.4,509h17.5v15.2h-17.5zM3375.8,509h17.5v15.2h-17.5zM3221.7,612.7h17.5v15.2h-17.5zM2862.2,642.3h34.6v15.2h-34.6zM2947.8,642.3h17.5v15.2h-17.5zM3067.6,642.3h17.5v15.2h-17.5zM3529.9,642.3h17.5v15.2h-17.5zM2913.6,657.1h17.5v15.2h-17.5zM3084.8,657.1h17.5v15.2h-17.5zM3136.1,686.7h17.5v15.2h-17.5zM3529.9,686.7h17.5v15.2h-17.5zM2930.7,701.5h17.5v15.2h-17.5zM3084.8,701.5h17.5v15.2h-17.5zM2879.3,716.3h17.5v15.2h-17.5zM2964.9,716.3h17.5v15.2h-17.5zM3067.6,716.3h34.6v15.2h-34.6zM2845.1,731.1h17.5v15.2h-17.5zM2964.9,731.1h17.5v15.2h-17.5zM2913.6,746h17.5v15.2h-17.5zM3101.9,746h17.5v15.2h-17.5zM2913.6,760.8h17.5v15.2h-17.5zM2947.8,760.8h17.5v15.2h-17.5zM3050.5,760.8h17.5v15.2h-17.5zM3410,775.6h17.5v15.2h-17.5zM3136.1,790.4h17.5v15.2h-17.5zM2913.6,820h17.5v15.2h-17.5zM3529.9,820h17.5v15.2h-17.5zM2896.4,849.6h17.5v15.2h-17.5zM3204.6,849.6h17.5v15.2h-17.5zM3324.4,849.6h17.5v15.2h-17.5zM2879.3,864.4h17.5v15.2h-17.5zM3256,879.2h17.5v15.2h-17.5zM3290.2,894.1h34.6v15.2h-34.6zM3358.7,894.1h17.5v15.2h-17.5zM3290.2,908.9h17.5v15.2h-17.5zM3375.8,908.9h17.5v15.2h-17.5zM3238.8,923.7h17.5v15.2h-17.5zM2964.9,953.3h17.5v15.2h-17.5zM2810.8,968.1h17.5v15.2h-17.5zM2947.8,982.9h17.5v15.2h-17.5zM3016.3,997.7h17.5v15.2h-17.5zM3273.1,997.7h34.6v15.2h-34.6zM3529.9,997.7h17.5v15.2h-17.5zM2677.7,1012.5h30.8v15.2h-30.8zM2725.2,1012.5h34.6v15.2h-34.6zM2982,1012.5h17.5v15.2h-17.5zM3238.8,1012.5h17.5v15.2h-17.5zM3375.8,1012.5h17.5v15.2h-17.5zM3307.3,1027.3h17.5v15.2h-17.5zM3529.9,1027.3h17.5v15.2h-17.5zM3170.4,1042.2h17.5v15.2h-17.5zM3238.8,1042.2h34.6v15.2h-34.6zM3358.7,1042.2h17.5v15.2h-17.5zM3136.1,1057h17.5v15.2h-17.5zM3119,1071.8h17.5v15.2h-17.5zM3290.2,1071.8h17.5v15.2h-17.5zM3375.8,1071.8h17.5v15.2h-17.5zM3375.8,1086.6h17.5v15.2h-17.5zM3273.1,1101.4h17.5v15.2h-17.5zM2999.2,1131h17.5v15.2h-17.5zM2947.8,1190.3h17.5v15.2h-17.5zM2947.8,1205.1h17.5v15.2h-17.5zM2947.8,1234.7h17.5v15.2h-17.5zM2947.8,1249.5h17.5v11.2h-17.5z"/><path fill="#f8f1ed" d="M3256,494.4h17.5v15h-17.5zM3307.3,509h17.5v15.2h-17.5zM2879.3,612.7h17.5v15.2h-17.5zM3204.6,627.5h17.5v15.2h-17.5zM3307.3,627.5h17.5v15.2h-17.5zM2964.9,642.3h17.5v15.2h-17.5zM3101.9,642.3h17.5v15.2h-17.5zM2862.2,657.1h17.5v15.2h-17.5zM3033.4,657.1h17.5v15.2h-17.5zM2879.3,671.9h17.5v15.2h-17.5zM2913.6,671.9h17.5v15.2h-17.5zM3392.9,701.5h17.5v15.2h-17.5zM3529.9,701.5h17.5v15.2h-17.5zM2947.8,746h34.6v15.2h-34.6zM3050.5,746h17.5v15.2h-17.5zM3204.6,746h17.5v15.2h-17.5zM3547,746h11.1v15.2h-11.1zM3050.5,775.6h17.5v15.2h-17.5zM3256,790.4h17.5v15.2h-17.5zM3392.9,790.4h17.5v15.2h-17.5zM2896.4,834.8h17.5v15.2h-17.5zM3016.3,834.8h34.6v15.2h-34.6zM2725.2,849.6h17.5v15.2h-17.5zM2845.1,849.6h17.5v15.2h-17.5zM2708.1,864.4h34.6v15.2h-34.6zM2913.6,864.4h17.5v15.2h-17.5zM3375.8,879.2h17.5v15.2h-17.5zM3221.7,923.7h17.5v15.2h-17.5zM3256,923.7h17.5v15.2h-17.5zM2845.1,938.5h17.5v15.2h-17.5zM3153.2,938.5h17.5v15.2h-17.5zM3358.7,938.5h17.5v15.2h-17.5zM3153.2,953.3h17.5v15.2h-17.5zM2947.8,968.1h17.5v15.2h-17.5zM3256,997.7h17.5v15.2h-17.5zM3375.8,997.7h17.5v15.2h-17.5zM2708.1,1012.5h17.5v15.2h-17.5zM2828,1012.5h17.5v15.2h-17.5zM2999.2,1012.5h17.5v15.2h-17.5zM3256,1012.5h17.5v15.2h-17.5zM3119,1042.2h17.5v15.2h-17.5zM3341.6,1042.2h17.5v15.2h-17.5zM3153.2,1057h17.5v15.2h-17.5zM3341.6,1071.8h17.5v15.2h-17.5zM3410,1071.8h17.5v15.2h-17.5zM3358.7,1086.6h17.5v15.2h-17.5zM3033.4,1101.4h17.5v15.2h-17.5zM3136.1,1101.4h17.5v15.2h-17.5zM2947.8,1116.2h17.5v15.2h-17.5zM3119,1205.1h34.6v15.2h-34.6zM2947.8,1219.9h17.5v15.2h-17.5zM3119,1219.9h17.5v15.2h-17.5z"/><path fill="#f9ece4" d="M3324.4,494.4h17.5v15h-17.5zM3375.8,494.4h17.5v15h-17.5zM3529.9,494.4h17.5v15h-17.5zM3358.7,509h17.5v15.2h-17.5zM3547,509h11.1v15.2h-11.1zM3290.2,538.6h17.5v15.2h-17.5zM3290.2,568.2h17.5v15.2h-17.5zM3290.2,583h17.5v15.2h-17.5zM3221.7,597.9h17.5v15.2h-17.5zM3290.2,597.9h17.5v15.2h-17.5zM3290.2,612.7h17.5v15.2h-17.5zM3324.4,627.5h17.5v15.2h-17.5zM3547,642.3h11.1v15.2h-11.1zM3529.9,657.1h17.5v15.2h-17.5zM3067.6,671.9h17.5v15.2h-17.5zM3204.6,671.9h17.5v15.2h-17.5zM2913.6,686.7h17.5v15.2h-17.5zM3067.6,686.7h17.5v15.2h-17.5zM3392.9,686.7h17.5v15.2h-17.5zM3547,686.7h11.1v15.2h-11.1zM3033.4,701.5h17.5v15.2h-17.5zM3187.5,701.5h17.5v15.2h-17.5zM3033.4,716.3h34.6v15.2h-34.6zM3136.1,716.3h17.5v15.2h-17.5zM3410,716.3h68.9v15.2h-68.9zM3495.6,716.3h17.5v15.2h-17.5zM3427.2,775.6h17.5v15.2h-17.5zM2930.7,790.4h17.5v15.2h-17.5zM3341.6,790.4h17.5v15.2h-17.5zM3307.3,805.2h17.5v15.2h-17.5zM2999.2,834.8h17.5v15.2h-17.5zM2708.1,849.6h17.5v15.2h-17.5zM2913.6,849.6h17.5v15.2h-17.5zM3290.2,849.6h17.5v15.2h-17.5zM2742.4,864.4h17.5v15.2h-17.5zM3324.4,908.9h34.6v15.2h-34.6zM3290.2,923.7h17.5v15.2h-17.5zM2691,938.5h17.5v15.2h-17.5zM2999.2,938.5h17.5v15.2h-17.5zM3290.2,938.5h34.6v15.2h-34.6zM2862.2,968.1h17.5v15.2h-17.5zM3033.4,968.1h17.5v15.2h-17.5zM3153.2,968.1h17.5v15.2h-17.5zM2725.2,982.9h34.6v15.2h-34.6zM2793.7,982.9h17.5v15.2h-17.5zM3204.6,1027.3h17.5v15.2h-17.5zM2845.1,1042.2h17.5v15.2h-17.5zM3136.1,1042.2h17.5v15.2h-17.5zM3324.4,1042.2h17.5v15.2h-17.5zM2677.7,1057h13.7v15.2h-13.7zM2708.1,1057h17.5v15.2h-17.5zM2742.4,1057h17.5v15.2h-17.5zM2776.6,1057h17.5v15.2h-17.5zM2725.2,1086.6h17.5v15.2h-17.5zM2999.2,1086.6h17.5v15.2h-17.5zM2913.6,1101.4h17.5v15.2h-17.5zM2982,1145.8h17.5v15.2h-17.5zM2896.4,1160.6h17.5v15.2h-17.5zM2896.4,1190.3h17.5v15.2h-17.5zM2982,1190.3h17.5v15.2h-17.5zM3119,1190.3h17.5v15.2h-17.5zM2862.2,1205.1h17.5v15.2h-17.5zM2982,1205.1h17.5v15.2h-17.5zM2896.4,1219.9h17.5v15.2h-17.5zM3136.1,1219.9h17.5v15.2h-17.5zM3033.4,1234.7h17.5v15.2h-17.5zM2896.4,1249.5h17.5v11.2h-17.5z"/><path fill="#fbe6da" d="M2913.6,509h17.5v15.2h-17.5zM3204.6,509h17.5v15.2h-17.5zM2896.4,523.8h17.5v15.2h-17.5zM3290.2,523.8h17.5v15.2h-17.5zM2896.4,538.6h17.5v15.2h-17.5zM3221.7,538.6h17.5v15.2h-17.5zM3221.7,553.4h17.5v15.2h-17.5zM3290.2,553.4h17.5v15.2h-17.5zM2896.4,568.2h17.5v15.2h-17.5zM3221.7,568.2h17.5v15.2h-17.5zM2879.3,583h17.5v15.2h-17.5zM3221.7,583h17.5v15.2h-17.5zM3290.2,627.5h17.5v15.2h-17.5zM2913.6,642.3h17.5v15.2h-17.5zM3033.4,642.3h17.5v15.2h-17.5zM2964.9,657.1h17.5v15.2h-17.5zM3050.5,657.1h17.5v15.2h-17.5zM3101.9,657.1h17.5v15.2h-17.5zM3050.5,671.9h17.5v15.2h-17.5zM3101.9,671.9h17.5v15.2h-17.5zM3033.4,686.7h17.5v15.2h-17.5zM3136.1,701.5h17.5v15.2h-17.5zM2896.4,716.3h17.5v15.2h-17.5zM3392.9,716.3h17.5v15.2h-17.5zM3478.5,716.3h17.5v15.2h-17.5zM3512.8,716.3h17.5v15.2h-17.5zM2845.1,760.8h34.6v15.2h-34.6zM2964.9,760.8h17.5v15.2h-17.5zM3204.6,760.8h17.5v15.2h-17.5zM3444.3,775.6h68.9v15.2h-68.9zM3238.8,790.4h17.5v15.2h-17.5zM3529.9,790.4h17.5v15.2h-17.5zM2810.8,805.2h17.5v15.2h-17.5zM2862.2,805.2h17.5v15.2h-17.5zM2845.1,834.8h17.5v15.2h-17.5zM3307.3,849.6h17.5v15.2h-17.5zM3341.6,879.2h34.6v15.2h-34.6zM2879.3,894.1h17.5v15.2h-17.5zM3033.4,894.1h17.5v15.2h-17.5zM2725.2,908.9h17.5v15.2h-17.5zM2810.8,908.9h17.5v15.2h-17.5zM2862.2,908.9h17.5v15.2h-17.5zM2677.7,923.7h13.7v15.2h-13.7zM2742.4,923.7h17.5v15.2h-17.5zM2776.6,923.7h17.5v15.2h-17.5zM2810.8,923.7h17.5v15.2h-17.5zM2862.2,923.7h17.5v15.2h-17.5zM2982,923.7h17.5v15.2h-17.5zM3341.6,923.7h34.6v15.2h-34.6zM2708.1,938.5h34.6v15.2h-34.6zM2759.5,938.5h51.8v15.2h-51.8zM2913.6,938.5h17.5v15.2h-17.5zM3016.3,938.5h17.5v15.2h-17.5zM3084.8,938.5h17.5v15.2h-17.5zM3324.4,938.5h17.5v15.2h-17.5zM3375.8,938.5h17.5v15.2h-17.5zM2930.7,953.3h17.5v15.2h-17.5zM3033.4,953.3h17.5v15.2h-17.5zM2845.1,968.1h17.5v15.2h-17.5zM2677.7,982.9h30.8v15.2h-30.8zM2776.6,982.9h17.5v15.2h-17.5zM3050.5,982.9h17.5v15.2h-17.5zM2708.1,997.7h17.5v15.2h-17.5zM2759.5,997.7h17.5v15.2h-17.5zM2793.7,997.7h17.5v15.2h-17.5zM3238.8,997.7h17.5v15.2h-17.5zM3358.7,997.7h17.5v15.2h-17.5zM3016.3,1027.3h17.5v15.2h-17.5zM3033.4,1042.2h17.5v15.2h-17.5zM3375.8,1042.2h17.5v15.2h-17.5zM3529.9,1042.2h17.5v15.2h-17.5zM2691,1057h17.5v15.2h-17.5zM2759.5,1057h17.5v15.2h-17.5zM2793.7,1057h17.5v15.2h-17.5zM3290.2,1057h17.5v15.2h-17.5zM3461.4,1057h17.5v15.2h-17.5zM3495.6,1057h34.6v15.2h-34.6zM3084.8,1071.8h17.5v15.2h-17.5zM3444.3,1071.8h17.5v15.2h-17.5zM2677.7,1086.6h13.7v15.2h-13.7zM2793.7,1086.6h17.5v15.2h-17.5zM3050.5,1086.6h34.6v15.2h-34.6zM3187.5,1086.6h17.5v15.2h-17.5zM3238.8,1086.6h17.5v15.2h-17.5zM2999.2,1101.4h17.5v15.2h-17.5zM3153.2,1101.4h17.5v15.2h-17.5zM3238.8,1101.4h17.5v15.2h-17.5zM3050.5,1131h34.6v15.2h-34.6zM3187.5,1131h17.5v15.2h-17.5zM2862.2,1145.8h17.5v15.2h-17.5zM2896.4,1145.8h17.5v15.2h-17.5zM2964.9,1145.8h17.5v15.2h-17.5zM3033.4,1145.8h17.5v15.2h-17.5zM2982,1160.6h17.5v15.2h-17.5zM3033.4,1160.6h34.6v15.2h-34.6zM2896.4,1175.5h17.5v15.2h-17.5zM2964.9,1175.5h17.5v15.2h-17.5zM3033.4,1175.5h17.5v15.2h-17.5zM3050.5,1190.3h17.5v15.2h-17.5zM3033.4,1205.1h17.5v15.2h-17.5zM3067.6,1205.1h17.5v15.2h-17.5zM2964.9,1219.9h17.5v15.2h-17.5zM3033.4,1219.9h17.5v15.2h-17.5zM2896.4,1234.7h17.5v15.2h-17.5zM2982,1234.7h17.5v15.2h-17.5zM2862.2,1249.5h17.5v11.2h-17.5zM2982,1249.5h17.5v11.2h-17.5zM3050.5,1249.5h17.5v11.2h-17.5z"/><path fill="#fce1d1" d="M3238.8,509h17.5v15.2h-17.5zM2879.3,523.8h17.5v15.2h-17.5zM3221.7,523.8h17.5v15.2h-17.5zM2879.3,538.6h17.5v15.2h-17.5zM2896.4,553.4h17.5v15.2h-17.5zM2879.3,568.2h17.5v15.2h-17.5zM2896.4,583h17.5v15.2h-17.5zM2879.3,597.9h34.6v15.2h-34.6zM3341.6,627.5h34.6v15.2h-34.6zM2845.1,642.3h17.5v15.2h-17.5zM3050.5,642.3h17.5v15.2h-17.5zM2845.1,657.1h17.5v15.2h-17.5zM3392.9,657.1h17.5v15.2h-17.5zM3392.9,671.9h17.5v15.2h-17.5zM2862.2,686.7h17.5v15.2h-17.5zM2964.9,686.7h17.5v15.2h-17.5zM2862.2,701.5h17.5v15.2h-17.5zM3067.6,701.5h17.5v15.2h-17.5zM2879.3,731.1h34.6v15.2h-34.6zM3204.6,731.1h17.5v15.2h-17.5zM2879.3,760.8h34.6v15.2h-34.6zM3529.9,760.8h17.5v15.2h-17.5zM3512.8,775.6h17.5v15.2h-17.5zM3273.1,790.4h17.5v15.2h-17.5zM2896.4,805.2h17.5v15.2h-17.5zM2677.7,849.6h30.8v15.2h-30.8zM2793.7,849.6h17.5v15.2h-17.5zM2691,864.4h17.5v15.2h-17.5zM2776.6,864.4h51.8v15.2h-51.8zM2845.1,864.4h17.5v15.2h-17.5zM2810.8,879.2h17.5v15.2h-17.5zM3033.4,879.2h17.5v15.2h-17.5zM2810.8,894.1h17.5v15.2h-17.5zM2677.7,908.9h13.7v15.2h-13.7zM2708.1,908.9h17.5v15.2h-17.5zM2742.4,908.9h34.6v15.2h-34.6zM2793.7,908.9h17.5v15.2h-17.5zM2896.4,908.9h17.5v15.2h-17.5zM2982,908.9h17.5v15.2h-17.5zM3033.4,908.9h17.5v15.2h-17.5zM3307.3,908.9h17.5v15.2h-17.5zM2691,923.7h51.8v15.2h-51.8zM2759.5,923.7h17.5v15.2h-17.5zM2793.7,923.7h17.5v15.2h-17.5zM3375.8,923.7h17.5v15.2h-17.5zM2677.7,938.5h13.7v15.2h-13.7zM2742.4,938.5h17.5v15.2h-17.5zM2810.8,938.5h17.5v15.2h-17.5zM2896.4,938.5h17.5v15.2h-17.5zM2964.9,938.5h17.5v15.2h-17.5zM3067.6,938.5h17.5v15.2h-17.5zM3101.9,938.5h17.5v15.2h-17.5zM2913.6,968.1h17.5v15.2h-17.5zM2708.1,982.9h17.5v15.2h-17.5zM2759.5,982.9h17.5v15.2h-17.5zM3067.6,982.9h17.5v15.2h-17.5zM2677.7,997.7h30.8v15.2h-30.8zM2725.2,997.7h34.6v15.2h-34.6zM2776.6,997.7h17.5v15.2h-17.5zM3033.4,997.7h17.5v15.2h-17.5zM3324.4,997.7h17.5v15.2h-17.5zM2862.2,1012.5h17.5v15.2h-17.5zM2999.2,1042.2h17.5v15.2h-17.5zM2725.2,1057h17.5v15.2h-17.5zM3033.4,1057h17.5v15.2h-17.5zM3067.6,1057h17.5v15.2h-17.5zM3187.5,1057h17.5v15.2h-17.5zM3238.8,1057h17.5v15.2h-17.5zM3273.1,1057h17.5v15.2h-17.5zM3427.2,1057h34.6v15.2h-34.6zM3478.5,1057h17.5v15.2h-17.5zM3238.8,1071.8h17.5v15.2h-17.5zM3273.1,1071.8h17.5v15.2h-17.5zM3427.2,1071.8h17.5v15.2h-17.5zM3461.4,1071.8h17.5v15.2h-17.5zM3495.6,1071.8h34.6v15.2h-34.6zM2708.1,1086.6h17.5v15.2h-17.5zM2742.4,1086.6h51.8v15.2h-51.8zM2947.8,1086.6h17.5v15.2h-17.5zM3307.3,1086.6h34.6v15.2h-34.6zM3119,1101.4h17.5v15.2h-17.5zM3358.7,1101.4h34.6v15.2h-34.6zM3033.4,1131h17.5v15.2h-17.5zM3084.8,1131h51.8v15.2h-51.8zM3050.5,1145.8h34.6v15.2h-34.6zM3119,1145.8h34.6v15.2h-34.6zM2862.2,1160.6h17.5v15.2h-17.5zM2964.9,1160.6h17.5v15.2h-17.5zM3119,1160.6h17.5v15.2h-17.5zM2862.2,1175.5h17.5v15.2h-17.5zM2982,1175.5h17.5v15.2h-17.5zM3050.5,1175.5h34.6v15.2h-34.6zM2862.2,1190.3h17.5v15.2h-17.5zM2964.9,1190.3h17.5v15.2h-17.5zM3033.4,1190.3h17.5v15.2h-17.5zM3067.6,1190.3h17.5v15.2h-17.5zM2896.4,1205.1h17.5v15.2h-17.5zM2964.9,1205.1h17.5v15.2h-17.5zM3050.5,1205.1h17.5v15.2h-17.5zM2862.2,1219.9h17.5v15.2h-17.5zM2982,1219.9h17.5v15.2h-17.5zM3050.5,1219.9h34.6v15.2h-34.6zM2964.9,1234.7h17.5v15.2h-17.5zM3050.5,1234.7h17.5v15.2h-17.5zM3119,1234.7h34.6v15.2h-34.6zM2964.9,1249.5h17.5v11.2h-17.5zM3033.4,1249.5h17.5v11.2h-17.5zM3067.6,1249.5h17.5v11.2h-17.5zM3136.1,1249.5h17.5v11.2h-17.5z"/><path fill="#fddbc7" d="M3392.9,509h17.5v15.2h-17.5zM2879.3,553.4h17.5v15.2h-17.5zM3307.3,612.7h34.6v15.2h-34.6zM3375.8,627.5h17.5v15.2h-17.5zM3529.9,627.5h17.5v15.2h-17.5zM3392.9,642.3h17.5v15.2h-17.5zM2896.4,657.1h17.5v15.2h-17.5zM2947.8,657.1h17.5v15.2h-17.5zM2845.1,671.9h17.5v15.2h-17.5zM2896.4,671.9h17.5v15.2h-17.5zM2964.9,671.9h17.5v15.2h-17.5zM2845.1,686.7h17.5v15.2h-17.5zM2879.3,686.7h17.5v15.2h-17.5zM2947.8,686.7h17.5v15.2h-17.5zM3050.5,686.7h17.5v15.2h-17.5zM3410,686.7h17.5v15.2h-17.5zM2845.1,701.5h17.5v15.2h-17.5zM2879.3,701.5h17.5v15.2h-17.5zM2964.9,701.5h17.5v15.2h-17.5zM3410,701.5h17.5v15.2h-17.5zM2845.1,716.3h34.6v15.2h-34.6zM3101.9,716.3h17.5v15.2h-17.5zM2845.1,746h17.5v15.2h-17.5zM2879.3,746h17.5v15.2h-17.5zM2677.7,805.2h47.9v15.2h-47.9zM2742.4,805.2h34.6v15.2h-34.6zM2913.6,805.2h17.5v15.2h-17.5zM2982,805.2h17.5v15.2h-17.5zM3033.4,805.2h17.5v15.2h-17.5zM2982,820h17.5v15.2h-17.5zM3016.3,820h17.5v15.2h-17.5zM2862.2,834.8h34.6v15.2h-34.6zM3050.5,834.8h34.6v15.2h-34.6zM2742.4,849.6h51.8v15.2h-51.8zM2810.8,849.6h34.6v15.2h-34.6zM2677.7,864.4h13.7v15.2h-13.7zM2759.5,864.4h17.5v15.2h-17.5zM2862.2,864.4h17.5v15.2h-17.5zM2828,879.2h17.5v15.2h-17.5zM3016.3,879.2h17.5v15.2h-17.5zM3290.2,879.2h17.5v15.2h-17.5zM3016.3,894.1h17.5v15.2h-17.5zM2691,908.9h17.5v15.2h-17.5zM2776.6,908.9h17.5v15.2h-17.5zM2879.3,908.9h17.5v15.2h-17.5zM3153.2,908.9h17.5v15.2h-17.5zM2999.2,923.7h34.6v15.2h-34.6zM3153.2,923.7h17.5v15.2h-17.5zM3324.4,923.7h17.5v15.2h-17.5zM3187.5,938.5h17.5v15.2h-17.5zM2725.2,953.3h17.5v15.2h-17.5zM2759.5,953.3h17.5v15.2h-17.5zM2793.7,953.3h17.5v15.2h-17.5zM3050.5,953.3h17.5v15.2h-17.5zM3084.8,953.3h34.6v15.2h-34.6zM3170.4,953.3h17.5v15.2h-17.5zM2964.9,968.1h17.5v15.2h-17.5zM3050.5,968.1h17.5v15.2h-17.5zM3170.4,982.9h34.6v15.2h-34.6zM2999.2,997.7h17.5v15.2h-17.5zM3307.3,997.7h17.5v15.2h-17.5zM3341.6,997.7h17.5v15.2h-17.5zM3324.4,1012.5h17.5v15.2h-17.5zM3358.7,1012.5h17.5v15.2h-17.5zM2677.7,1027.3h13.7v15.2h-13.7zM3187.5,1042.2h17.5v15.2h-17.5zM3341.6,1057h34.6v15.2h-34.6zM2845.1,1071.8h34.6v15.2h-34.6zM3067.6,1071.8h17.5v15.2h-17.5zM3153.2,1071.8h17.5v15.2h-17.5zM3256,1071.8h17.5v15.2h-17.5zM3307.3,1071.8h34.6v15.2h-34.6zM3478.5,1071.8h17.5v15.2h-17.5zM2691,1086.6h17.5v15.2h-17.5zM2879.3,1086.6h17.5v15.2h-17.5zM3119,1086.6h17.5v15.2h-17.5zM3153.2,1086.6h17.5v15.2h-17.5zM3290.2,1086.6h17.5v15.2h-17.5zM2677.7,1101.4h65.1v15.2h-65.1zM2776.6,1101.4h34.6v15.2h-34.6zM2828,1101.4h17.5v15.2h-17.5zM2879.3,1101.4h17.5v15.2h-17.5zM3256,1101.4h17.5v15.2h-17.5zM3290.2,1101.4h68.9v15.2h-68.9zM2845.1,1116.2h17.5v15.2h-17.5zM3101.9,1116.2h17.5v15.2h-17.5zM3136.1,1116.2h17.5v15.2h-17.5zM3136.1,1131h17.5v15.2h-17.5zM2845.1,1145.8h17.5v15.2h-17.5zM3016.3,1145.8h17.5v15.2h-17.5zM2845.1,1160.6h17.5v15.2h-17.5zM3067.6,1160.6h17.5v15.2h-17.5zM3136.1,1160.6h17.5v15.2h-17.5zM3016.3,1175.5h17.5v15.2h-17.5zM3119,1175.5h34.6v15.2h-34.6zM3187.5,1175.5h17.5v15.2h-17.5zM3136.1,1190.3h17.5v15.2h-17.5zM3187.5,1190.3h17.5v15.2h-17.5zM2845.1,1205.1h17.5v15.2h-17.5zM3016.3,1205.1h17.5v15.2h-17.5zM2845.1,1219.9h17.5v15.2h-17.5zM3187.5,1219.9h17.5v15.2h-17.5zM2845.1,1234.7h34.6v15.2h-34.6zM3067.6,1234.7h17.5v15.2h-17.5zM3187.5,1234.7h17.5v15.2h-17.5zM2845.1,1249.5h17.5v11.2h-17.5zM2930.7,1249.5h17.5v11.2h-17.5zM3119,1249.5h17.5v11.2h-17.5zM3187.5,1249.5h17.5v11.2h-17.5z"/><path fill="#fbd0b9" d="M3392.9,494.4h17.5v15h-17.5zM3273.1,509h17.5v15.2h-17.5zM3410,509h17.5v15.2h-17.5zM3307.3,523.8h34.6v15.2h-34.6zM3324.4,538.6h17.5v15.2h-17.5zM3307.3,553.4h34.6v15.2h-34.6zM3307.3,568.2h17.5v15.2h-17.5zM3307.3,583h34.6v15.2h-34.6zM3307.3,597.9h17.5v15.2h-17.5zM3529.9,612.7h17.5v15.2h-17.5zM3547,627.5h11.1v15.2h-11.1zM2879.3,657.1h17.5v15.2h-17.5zM3444.3,686.7h17.5v15.2h-17.5zM3478.5,686.7h51.8v15.2h-51.8zM2913.6,701.5h17.5v15.2h-17.5zM3101.9,701.5h17.5v15.2h-17.5zM3427.2,701.5h68.9v15.2h-68.9zM3512.8,701.5h17.5v15.2h-17.5zM2862.2,731.1h17.5v15.2h-17.5zM3529.9,731.1h17.5v15.2h-17.5zM2862.2,746h17.5v15.2h-17.5zM2725.2,805.2h17.5v15.2h-17.5zM2776.6,805.2h34.6v15.2h-34.6zM2845.1,805.2h17.5v15.2h-17.5zM2879.3,820h17.5v15.2h-17.5zM2930.7,834.8h34.6v15.2h-34.6zM3136.1,834.8h17.5v15.2h-17.5zM2862.2,849.6h17.5v15.2h-17.5zM2930.7,849.6h34.6v15.2h-34.6zM3153.2,849.6h17.5v15.2h-17.5zM3307.3,879.2h17.5v15.2h-17.5zM2896.4,894.1h17.5v15.2h-17.5zM2677.7,953.3h47.9v15.2h-47.9zM2742.4,953.3h17.5v15.2h-17.5zM2776.6,953.3h17.5v15.2h-17.5zM2810.8,953.3h17.5v15.2h-17.5zM2776.6,968.1h17.5v15.2h-17.5zM2862.2,982.9h17.5v15.2h-17.5zM3136.1,1012.5h34.6v15.2h-34.6zM2691,1027.3h17.5v15.2h-17.5zM2725.2,1027.3h51.8v15.2h-51.8zM2845.1,1027.3h17.5v15.2h-17.5zM3136.1,1027.3h34.6v15.2h-34.6zM3307.3,1042.2h17.5v15.2h-17.5zM3084.8,1057h17.5v15.2h-17.5zM3170.4,1071.8h17.5v15.2h-17.5zM3358.7,1071.8h17.5v15.2h-17.5zM2982,1086.6h17.5v15.2h-17.5zM3136.1,1086.6h17.5v15.2h-17.5zM3256,1086.6h34.6v15.2h-34.6zM2742.4,1101.4h34.6v15.2h-34.6zM2930.7,1101.4h17.5v15.2h-17.5zM3187.5,1101.4h17.5v15.2h-17.5zM3016.3,1131h17.5v15.2h-17.5zM3187.5,1145.8h17.5v15.2h-17.5zM2999.2,1160.6h34.6v15.2h-34.6zM3187.5,1160.6h17.5v15.2h-17.5zM2845.1,1175.5h17.5v15.2h-17.5zM2930.7,1175.5h17.5v15.2h-17.5zM2845.1,1190.3h17.5v15.2h-17.5zM2930.7,1190.3h17.5v15.2h-17.5zM3016.3,1190.3h17.5v15.2h-17.5zM2930.7,1205.1h17.5v15.2h-17.5zM3187.5,1205.1h17.5v15.2h-17.5zM3016.3,1219.9h17.5v15.2h-17.5zM2930.7,1234.7h17.5v15.2h-17.5zM3016.3,1234.7h17.5v15.2h-17.5zM3016.3,1249.5h17.5v11.2h-17.5z"/><path fill="#f9c5ab" d="M2896.4,509h17.5v15.2h-17.5zM3256,509h17.5v15.2h-17.5zM3341.6,523.8h17.5v15.2h-17.5zM3375.8,523.8h17.5v15.2h-17.5zM3307.3,538.6h17.5v15.2h-17.5zM3341.6,538.6h34.6v15.2h-34.6zM3341.6,553.4h17.5v15.2h-17.5zM3324.4,568.2h51.8v15.2h-51.8zM3358.7,583h17.5v15.2h-17.5zM3324.4,597.9h51.8v15.2h-51.8zM3341.6,612.7h51.8v15.2h-51.8zM2896.4,642.3h17.5v15.2h-17.5zM3410,642.3h17.5v15.2h-17.5zM3512.8,642.3h17.5v15.2h-17.5zM3410,657.1h68.9v15.2h-68.9zM3495.6,657.1h17.5v15.2h-17.5zM2862.2,671.9h17.5v15.2h-17.5zM3410,671.9h34.6v15.2h-34.6zM3461.4,671.9h68.9v15.2h-68.9zM3101.9,686.7h17.5v15.2h-17.5zM3427.2,686.7h17.5v15.2h-17.5zM3461.4,686.7h17.5v15.2h-17.5zM2947.8,701.5h17.5v15.2h-17.5zM3495.6,701.5h17.5v15.2h-17.5zM2896.4,746h17.5v15.2h-17.5zM3529.9,746h17.5v15.2h-17.5zM3221.7,760.8h17.5v15.2h-17.5zM3238.8,775.6h17.5v15.2h-17.5zM2879.3,805.2h17.5v15.2h-17.5zM3119,805.2h51.8v15.2h-51.8zM2677.7,820h13.7v15.2h-13.7zM2725.2,820h17.5v15.2h-17.5zM2776.6,820h17.5v15.2h-17.5zM2845.1,820h17.5v15.2h-17.5zM2896.4,820h17.5v15.2h-17.5zM2999.2,820h17.5v15.2h-17.5zM3033.4,820h17.5v15.2h-17.5zM3136.1,820h17.5v15.2h-17.5zM2828,834.8h17.5v15.2h-17.5zM2964.9,834.8h17.5v15.2h-17.5zM3187.5,834.8h17.5v15.2h-17.5zM2964.9,849.6h34.6v15.2h-34.6zM3170.4,849.6h34.6v15.2h-34.6zM3187.5,864.4h17.5v15.2h-17.5zM2879.3,879.2h17.5v15.2h-17.5zM3324.4,879.2h17.5v15.2h-17.5zM2677.7,894.1h13.7v15.2h-13.7zM2708.1,894.1h17.5v15.2h-17.5zM2742.4,894.1h68.9v15.2h-68.9zM2913.6,894.1h17.5v15.2h-17.5zM2828,908.9h17.5v15.2h-17.5zM2999.2,908.9h34.6v15.2h-34.6zM2828,923.7h17.5v15.2h-17.5zM3170.4,938.5h17.5v15.2h-17.5zM3067.6,953.3h17.5v15.2h-17.5zM2691,968.1h17.5v15.2h-17.5zM2725.2,968.1h51.8v15.2h-51.8zM2793.7,968.1h17.5v15.2h-17.5zM3067.6,968.1h17.5v15.2h-17.5zM3170.4,968.1h17.5v15.2h-17.5zM3136.1,982.9h17.5v15.2h-17.5zM3136.1,997.7h34.6v15.2h-34.6zM3307.3,1012.5h17.5v15.2h-17.5zM2708.1,1027.3h17.5v15.2h-17.5zM2776.6,1027.3h34.6v15.2h-34.6zM2862.2,1042.2h17.5v15.2h-17.5zM3084.8,1042.2h17.5v15.2h-17.5zM2862.2,1057h17.5v15.2h-17.5zM3170.4,1057h17.5v15.2h-17.5zM3256,1057h17.5v15.2h-17.5zM3375.8,1057h17.5v15.2h-17.5zM3529.9,1057h17.5v15.2h-17.5zM3101.9,1071.8h17.5v15.2h-17.5zM3187.5,1071.8h17.5v15.2h-17.5zM2896.4,1086.6h34.6v15.2h-34.6zM3341.6,1086.6h17.5v15.2h-17.5zM3170.4,1101.4h17.5v15.2h-17.5zM3050.5,1116.2h34.6v15.2h-34.6zM3153.2,1116.2h17.5v15.2h-17.5zM2930.7,1145.8h17.5v15.2h-17.5zM2999.2,1145.8h17.5v15.2h-17.5zM3084.8,1145.8h17.5v15.2h-17.5zM2930.7,1160.6h17.5v15.2h-17.5zM3084.8,1160.6h17.5v15.2h-17.5zM3170.4,1160.6h17.5v15.2h-17.5zM2999.2,1175.5h17.5v15.2h-17.5zM3084.8,1175.5h17.5v15.2h-17.5zM2999.2,1190.3h17.5v15.2h-17.5zM3084.8,1190.3h17.5v15.2h-17.5zM2999.2,1205.1h17.5v15.2h-17.5zM3170.4,1205.1h17.5v15.2h-17.5zM2930.7,1219.9h17.5v15.2h-17.5zM3084.8,1219.9h17.5v15.2h-17.5zM2999.2,1234.7h17.5v15.2h-17.5zM3084.8,1249.5h17.5v11.2h-17.5zM3170.4,1249.5h17.5v11.2h-17.5z"/><path fill="#f8bb9e" d="M3410,494.4h17.5v15h-17.5zM2947.8,509h17.5v15.2h-17.5zM3358.7,523.8h17.5v15.2h-17.5zM3375.8,538.6h17.5v15.2h-17.5zM3358.7,553.4h34.6v15.2h-34.6zM3375.8,568.2h17.5v15.2h-17.5zM3341.6,583h17.5v15.2h-17.5zM3375.8,597.9h17.5v15.2h-17.5zM3547,612.7h11.1v15.2h-11.1zM3427.2,642.3h17.5v15.2h-17.5zM3461.4,642.3h51.8v15.2h-51.8zM3478.5,657.1h17.5v15.2h-17.5zM3512.8,657.1h17.5v15.2h-17.5zM3444.3,671.9h17.5v15.2h-17.5zM2896.4,686.7h17.5v15.2h-17.5zM2828,805.2h17.5v15.2h-17.5zM3084.8,805.2h17.5v15.2h-17.5zM2708.1,820h17.5v15.2h-17.5zM2742.4,820h34.6v15.2h-34.6zM2793.7,820h34.6v15.2h-34.6zM2930.7,820h17.5v15.2h-17.5zM3084.8,834.8h17.5v15.2h-17.5zM3119,834.8h17.5v15.2h-17.5zM3050.5,849.6h17.5v15.2h-17.5zM2828,864.4h17.5v15.2h-17.5zM2930.7,864.4h68.9v15.2h-68.9zM3153.2,864.4h17.5v15.2h-17.5zM2725.2,894.1h17.5v15.2h-17.5zM3153.2,894.1h17.5v15.2h-17.5zM3187.5,894.1h17.5v15.2h-17.5zM2845.1,923.7h17.5v15.2h-17.5zM3136.1,923.7h17.5v15.2h-17.5zM2947.8,938.5h17.5v15.2h-17.5zM2828,953.3h17.5v15.2h-17.5zM2677.7,968.1h13.7v15.2h-13.7zM2708.1,968.1h17.5v15.2h-17.5zM2828,968.1h17.5v15.2h-17.5zM3119,982.9h17.5v15.2h-17.5zM2845.1,997.7h17.5v15.2h-17.5zM3119,997.7h17.5v15.2h-17.5zM2845.1,1012.5h17.5v15.2h-17.5zM3033.4,1012.5h17.5v15.2h-17.5zM3119,1012.5h17.5v15.2h-17.5zM3529.9,1012.5h17.5v15.2h-17.5zM3119,1027.3h17.5v15.2h-17.5zM3170.4,1027.3h17.5v15.2h-17.5zM3324.4,1057h17.5v15.2h-17.5zM2947.8,1101.4h34.6v15.2h-34.6zM3050.5,1101.4h17.5v15.2h-17.5zM2999.2,1116.2h34.6v15.2h-34.6zM3119,1116.2h17.5v15.2h-17.5zM3187.5,1116.2h17.5v15.2h-17.5zM3170.4,1131h17.5v15.2h-17.5zM3170.4,1145.8h17.5v15.2h-17.5zM3170.4,1175.5h17.5v15.2h-17.5zM3170.4,1190.3h17.5v15.2h-17.5zM3084.8,1205.1h17.5v15.2h-17.5zM2999.2,1219.9h17.5v15.2h-17.5zM3170.4,1219.9h17.5v15.2h-17.5zM2999.2,1249.5h17.5v11.2h-17.5z"/><path fill="#f6b090" d="M3478.5,494.4h51.8v15h-51.8zM3547,523.8h11.1v15.2h-11.1zM3547,538.6h11.1v15.2h-11.1zM3547,553.4h11.1v15.2h-11.1zM3375.8,583h17.5v15.2h-17.5zM3444.3,642.3h17.5v15.2h-17.5zM2896.4,701.5h17.5v15.2h-17.5zM2947.8,805.2h17.5v15.2h-17.5zM3101.9,805.2h17.5v15.2h-17.5zM2964.9,820h17.5v15.2h-17.5zM3101.9,834.8h17.5v15.2h-17.5zM2845.1,879.2h17.5v15.2h-17.5zM2896.4,879.2h17.5v15.2h-17.5zM3153.2,879.2h17.5v15.2h-17.5zM3187.5,879.2h17.5v15.2h-17.5zM2691,894.1h17.5v15.2h-17.5zM2828,894.1h17.5v15.2h-17.5zM2879.3,923.7h17.5v15.2h-17.5zM3033.4,923.7h17.5v15.2h-17.5zM3050.5,938.5h17.5v15.2h-17.5zM2930.7,968.1h17.5v15.2h-17.5zM2913.6,982.9h17.5v15.2h-17.5zM3170.4,997.7h17.5v15.2h-17.5zM3187.5,1012.5h17.5v15.2h-17.5zM2999.2,1027.3h17.5v15.2h-17.5zM2982,1042.2h17.5v15.2h-17.5zM3101.9,1057h17.5v15.2h-17.5zM3307.3,1057h17.5v15.2h-17.5zM3050.5,1071.8h17.5v15.2h-17.5zM3101.9,1101.4h17.5v15.2h-17.5zM3084.8,1116.2h17.5v15.2h-17.5zM3084.8,1234.7h17.5v15.2h-17.5z"/><path fill="#f4a582" d="M3427.2,494.4h51.8v15h-51.8zM2879.3,509h17.5v15.2h-17.5zM3444.3,509h17.5v15.2h-17.5zM3495.6,509h34.6v15.2h-34.6zM3529.9,523.8h17.5v15.2h-17.5zM3529.9,538.6h17.5v15.2h-17.5zM3547,568.2h11.1v15.2h-11.1zM3529.9,583h28.2v15.2h-28.2zM3547,597.9h11.1v15.2h-11.1zM3238.8,627.5h34.6v15.2h-34.6zM3221.7,657.1h17.5v15.2h-17.5zM3221.7,671.9h17.5v15.2h-17.5zM3050.5,701.5h17.5v15.2h-17.5zM3221.7,701.5h17.5v15.2h-17.5zM3221.7,731.1h17.5v15.2h-17.5zM3221.7,746h17.5v15.2h-17.5zM3392.9,746h17.5v15.2h-17.5zM3392.9,760.8h17.5v15.2h-17.5zM3256,775.6h34.6v15.2h-34.6zM3307.3,775.6h17.5v15.2h-17.5zM3341.6,775.6h34.6v15.2h-34.6zM2930.7,805.2h17.5v15.2h-17.5zM2999.2,805.2h17.5v15.2h-17.5zM3050.5,805.2h17.5v15.2h-17.5zM2691,820h17.5v15.2h-17.5zM3050.5,820h34.6v15.2h-34.6zM3101.9,820h34.6v15.2h-34.6zM2677.7,834.8h47.9v15.2h-47.9zM3050.5,864.4h17.5v15.2h-17.5zM3170.4,864.4h17.5v15.2h-17.5zM2691,879.2h17.5v15.2h-17.5zM2982,879.2h34.6v15.2h-34.6zM3170.4,879.2h17.5v15.2h-17.5zM2862.2,894.1h17.5v15.2h-17.5zM2930.7,894.1h17.5v15.2h-17.5zM2982,894.1h17.5v15.2h-17.5zM2845.1,908.9h17.5v15.2h-17.5zM3170.4,908.9h17.5v15.2h-17.5zM2896.4,923.7h17.5v15.2h-17.5zM3119,923.7h17.5v15.2h-17.5zM3170.4,923.7h34.6v15.2h-34.6zM3307.3,923.7h17.5v15.2h-17.5zM3101.9,968.1h17.5v15.2h-17.5zM3187.5,968.1h17.5v15.2h-17.5zM2964.9,982.9h17.5v15.2h-17.5zM3084.8,982.9h34.6v15.2h-34.6zM2982,997.7h17.5v15.2h-17.5zM3084.8,1027.3h17.5v15.2h-17.5zM3187.5,1027.3h17.5v15.2h-17.5zM2879.3,1042.2h17.5v15.2h-17.5zM2845.1,1057h17.5v15.2h-17.5zM2879.3,1057h17.5v15.2h-17.5zM3050.5,1057h17.5v15.2h-17.5zM2896.4,1071.8h34.6v15.2h-34.6zM3529.9,1071.8h17.5v15.2h-17.5zM2845.1,1086.6h17.5v15.2h-17.5zM3084.8,1086.6h17.5v15.2h-17.5zM2862.2,1101.4h17.5v15.2h-17.5zM2896.4,1101.4h17.5v15.2h-17.5zM3067.6,1101.4h17.5v15.2h-17.5zM2677.7,1116.2h13.7v15.2h-13.7zM2725.2,1116.2h17.5v15.2h-17.5zM2759.5,1116.2h17.5v15.2h-17.5zM2828,1175.5h17.5v15.2h-17.5zM2828,1205.1h17.5v15.2h-17.5zM3153.2,1219.9h17.5v15.2h-17.5zM3101.9,1234.7h17.5v15.2h-17.5zM3153.2,1234.7h34.6v15.2h-34.6zM2828,1249.5h17.5v11.2h-17.5zM3153.2,1249.5h17.5v11.2h-17.5z"/><path fill="#ee9777" d="M3478.5,509h17.5v15.2h-17.5zM3238.8,523.8h17.5v15.2h-17.5zM3238.8,538.6h17.5v15.2h-17.5zM3529.9,553.4h17.5v15.2h-17.5zM3238.8,583h17.5v15.2h-17.5zM3238.8,597.9h17.5v15.2h-17.5zM3238.8,612.7h17.5v15.2h-17.5zM3273.1,627.5h17.5v15.2h-17.5zM3221.7,686.7h17.5v15.2h-17.5zM3221.7,716.3h17.5v15.2h-17.5zM3392.9,731.1h17.5v15.2h-17.5zM3410,760.8h51.8v15.2h-51.8zM3495.6,760.8h34.6v15.2h-34.6zM3290.2,775.6h17.5v15.2h-17.5zM3324.4,775.6h17.5v15.2h-17.5zM3016.3,805.2h17.5v15.2h-17.5zM3067.6,805.2h17.5v15.2h-17.5zM3153.2,820h17.5v15.2h-17.5zM2725.2,834.8h17.5v15.2h-17.5zM2810.8,834.8h17.5v15.2h-17.5zM3170.4,834.8h17.5v15.2h-17.5zM3101.9,849.6h17.5v15.2h-17.5zM2677.7,879.2h13.7v15.2h-13.7zM2708.1,879.2h17.5v15.2h-17.5zM2776.6,879.2h34.6v15.2h-34.6zM3136.1,879.2h17.5v15.2h-17.5zM2947.8,894.1h17.5v15.2h-17.5zM2913.6,908.9h34.6v15.2h-34.6zM3187.5,908.9h17.5v15.2h-17.5zM2828,938.5h17.5v15.2h-17.5zM3187.5,953.3h17.5v15.2h-17.5zM2930.7,982.9h17.5v15.2h-17.5zM2862.2,997.7h17.5v15.2h-17.5zM3084.8,1012.5h17.5v15.2h-17.5zM2862.2,1027.3h34.6v15.2h-34.6zM2982,1027.3h17.5v15.2h-17.5zM3067.6,1027.3h17.5v15.2h-17.5zM3067.6,1042.2h17.5v15.2h-17.5zM2930.7,1071.8h17.5v15.2h-17.5zM2930.7,1086.6h17.5v15.2h-17.5zM2964.9,1086.6h17.5v15.2h-17.5zM2691,1116.2h34.6v15.2h-34.6zM2742.4,1116.2h17.5v15.2h-17.5zM2776.6,1116.2h34.6v15.2h-34.6zM3033.4,1116.2h17.5v15.2h-17.5zM3153.2,1131h17.5v15.2h-17.5zM2828,1145.8h17.5v15.2h-17.5zM3101.9,1145.8h17.5v15.2h-17.5zM2828,1160.6h17.5v15.2h-17.5zM3101.9,1160.6h17.5v15.2h-17.5zM2828,1190.3h17.5v15.2h-17.5zM3153.2,1205.1h17.5v15.2h-17.5zM2828,1219.9h17.5v15.2h-17.5zM3101.9,1219.9h17.5v15.2h-17.5zM2828,1234.7h17.5v15.2h-17.5zM3101.9,1249.5h17.5v11.2h-17.5z"/><path fill="#e8896d" d="M3461.4,509h17.5v15.2h-17.5zM3273.1,523.8h17.5v15.2h-17.5zM3238.8,553.4h17.5v15.2h-17.5zM3238.8,568.2h17.5v15.2h-17.5zM3273.1,568.2h17.5v15.2h-17.5zM3529.9,568.2h17.5v15.2h-17.5zM3273.1,583h17.5v15.2h-17.5zM3273.1,612.7h17.5v15.2h-17.5zM3221.7,642.3h17.5v15.2h-17.5zM3410,731.1h17.5v15.2h-17.5zM3444.3,731.1h34.6v15.2h-34.6zM3512.8,731.1h17.5v15.2h-17.5zM3461.4,760.8h34.6v15.2h-34.6zM3375.8,775.6h17.5v15.2h-17.5zM2862.2,790.4h17.5v15.2h-17.5zM2964.9,805.2h17.5v15.2h-17.5zM3170.4,805.2h17.5v15.2h-17.5zM3187.5,820h17.5v15.2h-17.5zM2742.4,834.8h68.9v15.2h-68.9zM3101.9,864.4h17.5v15.2h-17.5zM2725.2,879.2h17.5v15.2h-17.5zM2913.6,879.2h17.5v15.2h-17.5zM3119,879.2h17.5v15.2h-17.5zM2982,953.3h17.5v15.2h-17.5zM3016.3,982.9h17.5v15.2h-17.5zM3187.5,997.7h17.5v15.2h-17.5zM3101.9,1042.2h17.5v15.2h-17.5zM3204.6,1086.6h17.5v15.2h-17.5zM2810.8,1116.2h17.5v15.2h-17.5zM2828,1131h17.5v15.2h-17.5zM3153.2,1145.8h17.5v15.2h-17.5zM3153.2,1160.6h17.5v15.2h-17.5zM3153.2,1175.5h17.5v15.2h-17.5zM3153.2,1190.3h17.5v15.2h-17.5zM3101.9,1205.1h17.5v15.2h-17.5z"/><path fill="#e27c62" d="M3427.2,509h17.5v15.2h-17.5zM3273.1,538.6h17.5v15.2h-17.5zM3273.1,553.4h17.5v15.2h-17.5zM3256,597.9h34.6v15.2h-34.6zM3529.9,597.9h17.5v15.2h-17.5zM3256,612.7h17.5v15.2h-17.5zM3427.2,731.1h17.5v15.2h-17.5zM3478.5,731.1h34.6v15.2h-34.6zM3410,746h34.6v15.2h-34.6zM2947.8,820h17.5v15.2h-17.5zM2999.2,849.6h17.5v15.2h-17.5zM3067.6,849.6h34.6v15.2h-34.6zM2742.4,879.2h34.6v15.2h-34.6zM2862.2,879.2h17.5v15.2h-17.5zM2947.8,879.2h17.5v15.2h-17.5zM2845.1,894.1h17.5v15.2h-17.5zM2964.9,894.1h17.5v15.2h-17.5zM2999.2,894.1h17.5v15.2h-17.5zM3136.1,894.1h17.5v15.2h-17.5zM2947.8,908.9h34.6v15.2h-34.6zM3136.1,908.9h17.5v15.2h-17.5zM2930.7,923.7h17.5v15.2h-17.5zM3084.8,968.1h17.5v15.2h-17.5zM3136.1,968.1h17.5v15.2h-17.5zM2879.3,997.7h17.5v15.2h-17.5zM3067.6,997.7h34.6v15.2h-34.6zM3067.6,1012.5h17.5v15.2h-17.5zM3101.9,1012.5h17.5v15.2h-17.5zM3170.4,1012.5h17.5v15.2h-17.5zM3050.5,1027.3h17.5v15.2h-17.5zM2964.9,1071.8h17.5v15.2h-17.5zM3101.9,1086.6h17.5v15.2h-17.5zM3084.8,1101.4h17.5v15.2h-17.5zM3101.9,1175.5h17.5v15.2h-17.5zM3101.9,1190.3h17.5v15.2h-17.5z"/><path fill="#dc6e58" d="M3256,523.8h17.5v15.2h-17.5zM3256,538.6h17.5v15.2h-17.5zM3256,553.4h17.5v15.2h-17.5zM3256,568.2h17.5v15.2h-17.5zM3256,583h17.5v15.2h-17.5zM3238.8,686.7h17.5v15.2h-17.5zM3238.8,716.3h17.5v15.2h-17.5zM3444.3,746h86v15.2h-86zM3290.2,760.8h17.5v15.2h-17.5zM3324.4,760.8h17.5v15.2h-17.5zM2828,820h17.5v15.2h-17.5zM3084.8,820h17.5v15.2h-17.5zM3016.3,849.6h17.5v15.2h-17.5zM2930.7,879.2h17.5v15.2h-17.5zM3050.5,879.2h34.6v15.2h-34.6zM3170.4,894.1h17.5v15.2h-17.5zM3101.9,908.9h17.5v15.2h-17.5zM2913.6,923.7h17.5v15.2h-17.5zM2964.9,923.7h17.5v15.2h-17.5zM3101.9,923.7h17.5v15.2h-17.5zM3136.1,953.3h17.5v15.2h-17.5zM3050.5,997.7h17.5v15.2h-17.5zM2879.3,1012.5h17.5v15.2h-17.5zM2896.4,1027.3h17.5v15.2h-17.5zM3101.9,1027.3h17.5v15.2h-17.5zM3050.5,1042.2h17.5v15.2h-17.5zM2930.7,1057h17.5v15.2h-17.5zM2947.8,1071.8h17.5v15.2h-17.5zM3170.4,1116.2h17.5v15.2h-17.5z"/><path fill="#d6604d" d="M3238.8,642.3h17.5v15.2h-17.5zM3238.8,657.1h17.5v15.2h-17.5zM3238.8,701.5h17.5v15.2h-17.5zM3307.3,760.8h17.5v15.2h-17.5zM3358.7,760.8h34.6v15.2h-34.6zM2999.2,864.4h34.6v15.2h-34.6zM3067.6,864.4h34.6v15.2h-34.6zM2964.9,879.2h17.5v15.2h-17.5zM3050.5,894.1h17.5v15.2h-17.5zM3119,894.1h17.5v15.2h-17.5zM3119,908.9h17.5v15.2h-17.5zM2947.8,923.7h17.5v15.2h-17.5zM3084.8,923.7h17.5v15.2h-17.5zM3119,953.3h17.5v15.2h-17.5zM3119,968.1h17.5v15.2h-17.5zM2896.4,997.7h17.5v15.2h-17.5zM3101.9,997.7h17.5v15.2h-17.5zM2896.4,1012.5h17.5v15.2h-17.5zM3050.5,1012.5h17.5v15.2h-17.5zM2896.4,1042.2h17.5v15.2h-17.5zM2913.6,1057h17.5v15.2h-17.5zM2947.8,1057h34.6v15.2h-34.6zM2708.1,1131h17.5v15.2h-17.5zM2810.8,1219.9h17.5v15.2h-17.5z"/><path fill="#cf5246" d="M3238.8,746h17.5v15.2h-17.5zM3256,760.8h17.5v15.2h-17.5zM3119,849.6h17.5v15.2h-17.5zM3136.1,864.4h17.5v15.2h-17.5zM2982,968.1h17.5v15.2h-17.5zM2999.2,982.9h17.5v15.2h-17.5zM2677.7,1131h30.8v15.2h-30.8zM2742.4,1131h17.5v15.2h-17.5zM2776.6,1131h34.6v15.2h-34.6zM2810.8,1145.8h17.5v15.2h-17.5zM2810.8,1160.6h17.5v15.2h-17.5zM2810.8,1190.3h17.5v15.2h-17.5zM2810.8,1234.7h17.5v15.2h-17.5zM2810.8,1249.5h17.5v11.2h-17.5z"/><path fill="#c8433f" d="M3392.9,568.2h17.5v15.2h-17.5zM3461.4,627.5h17.5v15.2h-17.5zM3273.1,686.7h17.5v15.2h-17.5zM3256,716.3h17.5v15.2h-17.5zM3324.4,731.1h17.5v15.2h-17.5zM3290.2,746h17.5v15.2h-17.5zM2913.6,1012.5h17.5v15.2h-17.5zM2947.8,1042.2h17.5v15.2h-17.5zM2725.2,1131h17.5v15.2h-17.5zM2759.5,1131h17.5v15.2h-17.5zM2810.8,1175.5h17.5v15.2h-17.5zM2810.8,1205.1h17.5v15.2h-17.5z"/><path fill="#c03539" d="M3392.9,523.8h17.5v15.2h-17.5zM3392.9,538.6h17.5v15.2h-17.5zM3392.9,597.9h17.5v15.2h-17.5zM3427.2,627.5h17.5v15.2h-17.5zM3495.6,627.5h34.6v15.2h-34.6zM3290.2,642.3h17.5v15.2h-17.5zM3341.6,642.3h17.5v15.2h-17.5zM3375.8,671.9h17.5v15.2h-17.5zM3375.8,716.3h17.5v15.2h-17.5zM3084.8,879.2h17.5v15.2h-17.5zM3067.6,894.1h17.5v15.2h-17.5zM3101.9,894.1h17.5v15.2h-17.5zM3084.8,908.9h17.5v15.2h-17.5zM2999.2,953.3h17.5v15.2h-17.5zM3016.3,968.1h17.5v15.2h-17.5z"/><path fill="#b92632" d="M3392.9,553.4h17.5v15.2h-17.5zM3392.9,583h17.5v15.2h-17.5zM3444.3,627.5h17.5v15.2h-17.5zM3478.5,627.5h17.5v15.2h-17.5zM3273.1,642.3h17.5v15.2h-17.5zM3307.3,642.3h34.6v15.2h-34.6zM3358.7,642.3h17.5v15.2h-17.5zM3256,657.1h17.5v15.2h-17.5zM3290.2,657.1h34.6v15.2h-34.6zM3375.8,657.1h17.5v15.2h-17.5zM3238.8,671.9h17.5v15.2h-17.5zM3290.2,671.9h34.6v15.2h-34.6zM3290.2,686.7h34.6v15.2h-34.6zM3375.8,686.7h17.5v15.2h-17.5zM3273.1,701.5h17.5v15.2h-17.5zM3324.4,701.5h68.9v15.2h-68.9zM3273.1,716.3h17.5v15.2h-17.5zM3324.4,716.3h51.8v15.2h-51.8zM3290.2,731.1h34.6v15.2h-34.6zM3375.8,731.1h17.5v15.2h-17.5zM3358.7,746h17.5v15.2h-17.5zM3341.6,760.8h17.5v15.2h-17.5zM2913.6,997.7h17.5v15.2h-17.5zM2964.9,1042.2h17.5v15.2h-17.5z"/><path fill="#b2182b" d="M3410,523.8h17.5v15.2h-17.5zM3410,538.6h17.5v15.2h-17.5zM3410,568.2h17.5v15.2h-17.5zM3392.9,612.7h17.5v15.2h-17.5zM3461.4,612.7h17.5v15.2h-17.5zM3495.6,612.7h34.6v15.2h-34.6zM3410,627.5h17.5v15.2h-17.5zM3256,642.3h17.5v15.2h-17.5zM3273.1,657.1h17.5v15.2h-17.5zM3324.4,657.1h34.6v15.2h-34.6zM3256,671.9h34.6v15.2h-34.6zM3358.7,671.9h17.5v15.2h-17.5zM3256,686.7h17.5v15.2h-17.5zM3358.7,686.7h17.5v15.2h-17.5zM3256,701.5h17.5v15.2h-17.5zM3290.2,701.5h17.5v15.2h-17.5zM3307.3,716.3h17.5v15.2h-17.5zM3238.8,731.1h17.5v15.2h-17.5zM3341.6,731.1h34.6v15.2h-34.6zM3307.3,746h51.8v15.2h-51.8zM3375.8,746h17.5v15.2h-17.5zM3273.1,760.8h17.5v15.2h-17.5zM3050.5,908.9h17.5v15.2h-17.5zM3067.6,923.7h17.5v15.2h-17.5zM2947.8,997.7h17.5v15.2h-17.5zM2930.7,1012.5h17.5v15.2h-17.5zM2964.9,1012.5h17.5v15.2h-17.5zM2913.6,1027.3h17.5v15.2h-17.5zM2947.8,1027.3h17.5v15.2h-17.5zM2930.7,1042.2h17.5v15.2h-17.5z"/><path fill="#a31329" d="M3410,597.9h17.5v15.2h-17.5zM3427.2,612.7h17.5v15.2h-17.5zM3324.4,671.9h17.5v15.2h-17.5zM3341.6,686.7h17.5v15.2h-17.5zM3256,731.1h17.5v15.2h-17.5zM3273.1,746h17.5v15.2h-17.5z"/><path fill="#940e26" d="M3410,553.4h17.5v15.2h-17.5zM3410,583h17.5v15.2h-17.5zM3444.3,612.7h17.5v15.2h-17.5zM3478.5,612.7h17.5v15.2h-17.5zM2930.7,997.7h17.5v15.2h-17.5zM2964.9,1027.3h17.5v15.2h-17.5zM2677.7,1160.6h13.7v15.2h-13.7zM2691,1205.1h17.5v15.2h-17.5zM2725.2,1234.7h17.5v15.2h-17.5zM2776.6,1249.5h17.5v11.2h-17.5z"/><path fill="#850a24" d="M3461.4,523.8h17.5v15.2h-17.5zM3427.2,553.4h34.6v15.2h-34.6zM3444.3,568.2h17.5v15.2h-17.5zM3512.8,568.2h17.5v15.2h-17.5zM3461.4,583h34.6v15.2h-34.6zM3478.5,597.9h17.5v15.2h-17.5zM2677.7,1145.8h13.7v15.2h-13.7zM2708.1,1145.8h17.5v15.2h-17.5zM2776.6,1145.8h17.5v15.2h-17.5zM2691,1160.6h17.5v15.2h-17.5zM2725.2,1160.6h17.5v15.2h-17.5zM2793.7,1160.6h17.5v15.2h-17.5zM2677.7,1175.5h13.7v15.2h-13.7zM2725.2,1175.5h17.5v15.2h-17.5zM2691,1190.3h17.5v15.2h-17.5zM2708.1,1205.1h17.5v15.2h-17.5zM2759.5,1205.1h34.6v15.2h-34.6zM2677.7,1219.9h30.8v15.2h-30.8zM2725.2,1219.9h17.5v15.2h-17.5zM2793.7,1219.9h17.5v15.2h-17.5zM2708.1,1234.7h17.5v15.2h-17.5zM2742.4,1234.7h17.5v15.2h-17.5zM2776.6,1234.7h17.5v15.2h-17.5zM2708.1,1249.5h17.5v11.2h-17.5zM2759.5,1249.5h17.5v11.2h-17.5zM2793.7,1249.5h17.5v11.2h-17.5z"/><path fill="#760521" d="M3427.2,523.8h34.6v15.2h-34.6zM3478.5,523.8h34.6v15.2h-34.6zM3427.2,538.6h51.8v15.2h-51.8zM3512.8,538.6h17.5v15.2h-17.5zM3461.4,553.4h17.5v15.2h-17.5zM3512.8,553.4h17.5v15.2h-17.5zM3427.2,568.2h17.5v15.2h-17.5zM3478.5,568.2h34.6v15.2h-34.6zM3427.2,583h17.5v15.2h-17.5zM3495.6,583h34.6v15.2h-34.6zM3444.3,597.9h34.6v15.2h-34.6zM3495.6,597.9h34.6v15.2h-34.6zM2691,1145.8h17.5v15.2h-17.5zM2725.2,1145.8h51.8v15.2h-51.8zM2759.5,1160.6h17.5v15.2h-17.5zM2691,1175.5h34.6v15.2h-34.6zM2742.4,1175.5h17.5v15.2h-17.5zM2776.6,1175.5h34.6v15.2h-34.6zM2677.7,1190.3h13.7v15.2h-13.7zM2708.1,1190.3h17.5v15.2h-17.5zM2759.5,1190.3h17.5v15.2h-17.5zM2793.7,1190.3h17.5v15.2h-17.5zM2677.7,1205.1h13.7v15.2h-13.7zM2793.7,1205.1h17.5v15.2h-17.5zM2742.4,1219.9h34.6v15.2h-34.6zM2677.7,1234.7h13.7v15.2h-13.7zM2759.5,1234.7h17.5v15.2h-17.5zM2793.7,1234.7h17.5v15.2h-17.5zM2691,1249.5h17.5v11.2h-17.5zM2725.2,1249.5h34.6v11.2h-34.6z"/><path fill="#67001f" d="M3547,494.4h11.1v15h-11.1zM3529.9,509h17.5v15.2h-17.5zM3512.8,523.8h17.5v15.2h-17.5zM3478.5,538.6h34.6v15.2h-34.6zM3478.5,553.4h34.6v15.2h-34.6zM3461.4,568.2h17.5v15.2h-17.5zM3444.3,583h17.5v15.2h-17.5zM3427.2,597.9h17.5v15.2h-17.5zM3410,612.7h17.5v15.2h-17.5zM3392.9,627.5h17.5v15.2h-17.5zM3375.8,642.3h17.5v15.2h-17.5zM3358.7,657.1h17.5v15.2h-17.5zM3341.6,671.9h17.5v15.2h-17.5zM3324.4,686.7h17.5v15.2h-17.5zM3307.3,701.5h17.5v15.2h-17.5zM3290.2,716.3h17.5v15.2h-17.5zM3273.1,731.1h17.5v15.2h-17.5zM3256,746h17.5v15.2h-17.5zM3238.8,760.8h17.5v15.2h-17.5zM3221.7,775.6h17.5v15.2h-17.5zM3204.6,790.4h17.5v15.2h-17.5zM3187.5,805.2h17.5v15.2h-17.5zM3170.4,820h17.5v15.2h-17.5zM3153.2,834.8h17.5v15.2h-17.5zM3136.1,849.6h17.5v15.2h-17.5zM3119,864.4h17.5v15.2h-17.5zM3101.9,879.2h17.5v15.2h-17.5zM3084.8,894.1h17.5v15.2h-17.5zM3067.6,908.9h17.5v15.2h-17.5zM3050.5,923.7h17.5v15.2h-17.5zM3033.4,938.5h17.5v15.2h-17.5zM3016.3,953.3h17.5v15.2h-17.5zM2999.2,968.1h17.5v15.2h-17.5zM2982,982.9h17.5v15.2h-17.5zM2964.9,997.7h17.5v15.2h-17.5zM2947.8,1012.5h17.5v15.2h-17.5zM2930.7,1027.3h17.5v15.2h-17.5zM2913.6,1042.2h17.5v15.2h-17.5zM2896.4,1057h17.5v15.2h-17.5zM2879.3,1071.8h17.5v15.2h-17.5zM2862.2,1086.6h17.5v15.2h-17.5zM2845.1,1101.4h17.5v15.2h-17.5zM2828,1116.2h17.5v15.2h-17.5zM2810.8,1131h17.5v15.2h-17.5zM2793.7,1145.8h17.5v15.2h-17.5zM2708.1,1160.6h17.5v15.2h-17.5zM2742.4,1160.6h17.5v15.2h-17.5zM2776.6,1160.6h17.5v15.2h-17.5zM2759.5,1175.5h17.5v15.2h-17.5zM2725.2,1190.3h34.6v15.2h-34.6zM2776.6,1190.3h17.5v15.2h-17.5zM2725.2,1205.1h34.6v15.2h-34.6zM2708.1,1219.9h17.5v15.2h-17.5zM2776.6,1219.9h17.5v15.2h-17.5zM2691,1234.7h17.5v15.2h-17.5zM2677.7,1249.5h13.7v11.2h-13.7z"/></g><rect x="2673.8" y="485" width="888.4" height="779.4" fill="none" stroke="#6bbf78" stroke-width="8.4"/>
<rect x="2674.8" y="1283.4" width="890.9" height="41.4" fill="url(#cbar)"/>
<path d="M2476.8,1017.5L3330.6,570" stroke="#000" stroke-width="5" stroke-dasharray="3.6 3" fill="none"/><path transform="translate(3341.2,564.4) rotate(-27.7)" d="M3,0L-16,-13.5L-21,-8.5L-9,0L-21,8.5L-16,13.5Z" fill="#000"/><path d="M2476.8,1072.7L3187.4,729.5" stroke="#000" stroke-width="5" stroke-dasharray="3.6 3" fill="none"/><path transform="translate(3198.2,724.3) rotate(-25.8)" d="M3,0L-16,-13.5L-21,-8.5L-9,0L-21,8.5L-16,13.5Z" fill="#000"/><path d="M2473.8,1103.9L2818.6,1059.1" stroke="#000" stroke-width="5" stroke-dasharray="3.6 3" fill="none"/><path transform="translate(2830.5,1057.6) rotate(-7.4)" d="M3,0L-16,-13.5L-21,-8.5L-9,0L-21,8.5L-16,13.5Z" fill="#000"/><path d="M2463.6,1138.5L2622.4,1205.3" stroke="#000" stroke-width="5" stroke-dasharray="3.6 3" fill="none"/><path transform="translate(2633.5,1209.9) rotate(22.8)" d="M3,0L-16,-13.5L-21,-8.5L-9,0L-21,8.5L-16,13.5Z" fill="#000"/>
<text x="2157.5" y="1749.6" font-size="92" font-weight="bold" textLength="1175.2" lengthAdjust="spacingAndGlyphs">ranking datasets &amp; modules</text>
<text x="1743.6" y="1864.2" font-size="82" textLength="108.9" lengthAdjust="spacingAndGlyphs">(4)</text>
<text x="2751.8" y="1864.2" font-size="82" textLength="110.0" lengthAdjust="spacingAndGlyphs">(5)</text>
<path d="M1875,2671.5L2685.3,1912" stroke="#2b2b2b" stroke-width="8" stroke-dasharray="8 8.7" stroke-dashoffset="4" fill="none"/><polyline points="1875,2671.5 1892,2635 1946.3,2547.7 2033,2445.9 2141.6,2340.4 2276.1,2221.9 2409.8,2111 2525.7,2017.6 2612.4,1954.5 2656.1,1928.7 2685.3,1912" fill="none" stroke="#24306b" stroke-width="7" stroke-linejoin="round"/><polyline points="1875,2671.5 1888,2631.2 1911.5,2576.6 1954.4,2489.2 2033,2379.9 2141.6,2253 2276.1,2138.3 2409.8,2047.2 2525.7,1981.9 2612.4,1940.9 2685.3,1912" fill="none" stroke="#3f73b8" stroke-width="7" stroke-linejoin="round"/><polyline points="1875,2671.5 1877.4,2610 1888,2551.5 1911.5,2486.2 1954.4,2411.8 2033,2323.6 2141.6,2227.2 2276.1,2133 2409.8,2054 2525.7,1987.2 2612.4,1940.9 2685.3,1912" fill="none" stroke="#b8434a" stroke-width="7" stroke-linejoin="round"/><polyline points="1875,2671.5 1875,2558.3 1884.7,2500.6 1899.3,2439.9 1927.7,2369.2 1974.7,2288 2050.8,2190.7 2148.9,2116.3 2276.1,2032 2399.3,1983.4 2503.8,1952.3 2584,1923.4 2638.3,1914.3 2685.3,1912" fill="none" stroke="#f58a42" stroke-width="7" stroke-linejoin="round"/><path d="M1871.6,1909.1V2673.2H2688.9" fill="none" stroke="#000" stroke-width="4.2"/>
<path d="M2838,2672.5L3676.2,1917.7" stroke="#2b2b2b" stroke-width="8" stroke-dasharray="8 8.7" stroke-dashoffset="4" fill="none"/><polyline points="2838,2672.5 2855.6,2636.3 2911.8,2549.5 3001.4,2448.3 3113.8,2343.4 3252.9,2225.7 3391.2,2115.5 3511.1,2022.6 3600.8,1960 3646,1934.3 3676.2,1917.7" fill="none" stroke="#3c2463" stroke-width="7" stroke-linejoin="round"/><polyline points="2838,2672.5 2840.5,2611.4 2851.4,2553.2 2875.7,2488.3 2920.1,2414.4 3001.4,2326.8 3113.8,2230.9 3252.9,2137.3 3391.2,2058.8 3511.1,1992.4 3600.8,1946.4 3676.2,1917.7" fill="none" stroke="#6bc073" stroke-width="7" stroke-linejoin="round"/><polyline points="2838,2672.5 2838,2560 2848.1,2502.7 2863.1,2442.3 2892.5,2372.1 2941.1,2291.3 3019.9,2194.7 3121.3,2120.7 3252.9,2037 3380.3,1988.7 3488.4,1957.7 3571.4,1929 3627.6,1920 3676.2,1917.7" fill="none" stroke="#6bc073" stroke-width="7" stroke-linejoin="round"/><path d="M2835.2,1915.6V2675.8H3679.8" fill="none" stroke="#000" stroke-width="4.2"/>
<text x="1770.8" y="1936.4" font-size="51" textLength="72.0" lengthAdjust="spacingAndGlyphs">1.0</text>
<text x="1772.7" y="2081.9" font-size="51" textLength="70.0" lengthAdjust="spacingAndGlyphs">0.8</text>
<text x="1772.7" y="2236.6" font-size="51" textLength="70.3" lengthAdjust="spacingAndGlyphs">0.6</text>
<text x="1772.7" y="2390.5" font-size="51" textLength="69.5" lengthAdjust="spacingAndGlyphs">0.4</text>
<text x="1772.7" y="2539.6" font-size="51" textLength="70.6" lengthAdjust="spacingAndGlyphs">0.2</text>
<text x="1772.7" y="2690" font-size="51" textLength="70.0" lengthAdjust="spacingAndGlyphs">0.0</text>
<text x="1841.0" y="2743.8" font-size="51" textLength="70.0" lengthAdjust="spacingAndGlyphs">0.0</text>
<text x="1995.0" y="2743.8" font-size="51" textLength="70.6" lengthAdjust="spacingAndGlyphs">0.2</text>
<text x="2163.2" y="2743.8" font-size="51" textLength="69.5" lengthAdjust="spacingAndGlyphs">0.4</text>
<text x="2324.3" y="2743.8" font-size="51" textLength="70.3" lengthAdjust="spacingAndGlyphs">0.6</text>
<text x="2487.7" y="2743.8" font-size="51" textLength="70.0" lengthAdjust="spacingAndGlyphs">0.8</text>
<text x="2646.1" y="2743.8" font-size="51" textLength="72.0" lengthAdjust="spacingAndGlyphs">1.0</text>
<text x="2807.6" y="2743.8" font-size="51" textLength="70.0" lengthAdjust="spacingAndGlyphs">0.0</text>
<text x="2961.5" y="2743.8" font-size="51" textLength="70.6" lengthAdjust="spacingAndGlyphs">0.2</text>
<text x="3129.1" y="2743.8" font-size="51" textLength="69.5" lengthAdjust="spacingAndGlyphs">0.4</text>
<text x="3290.3" y="2743.8" font-size="51" textLength="70.3" lengthAdjust="spacingAndGlyphs">0.6</text>
<text x="3455.0" y="2743.8" font-size="51" textLength="70.0" lengthAdjust="spacingAndGlyphs">0.8</text>
<text x="3612.8" y="2743.8" font-size="51" textLength="72.0" lengthAdjust="spacingAndGlyphs">1.0</text>
<text x="1990.1" y="2839.5" font-size="71" textLength="598.8" lengthAdjust="spacingAndGlyphs">False Positive Rate</text>
<text x="2957.4" y="2839.5" font-size="71" textLength="598.5" lengthAdjust="spacingAndGlyphs">False Positive Rate</text>
<text transform="translate(1733.1,2547.2) rotate(-90)" font-size="64" textLength="535.0" lengthAdjust="spacingAndGlyphs">True Positive Rate</text>
<text x="1895.8" y="1914.7" font-size="71" font-weight="bold" textLength="565.8" lengthAdjust="spacingAndGlyphs">compare modules</text>
<text x="1895.8" y="1999" font-size="68.4" textLength="329.7" lengthAdjust="spacingAndGlyphs">per dataset</text>
<text x="2867.2" y="1924.4" font-size="71" font-weight="bold" textLength="578.4" lengthAdjust="spacingAndGlyphs">compare datasets</text>
<text x="2866.2" y="2008.6" font-size="68.7" textLength="440.7" lengthAdjust="spacingAndGlyphs">using STRING</text>
<text x="2181.5" y="2442.6" font-size="66" fill="#f58a42" textLength="312.3" lengthAdjust="spacingAndGlyphs">complexes</text>
<text x="2180.1" y="2511.6" font-size="66" fill="#b8434a" textLength="278.8" lengthAdjust="spacingAndGlyphs">pathways</text>
<text x="2181.5" y="2579.8" font-size="66" fill="#3f73b8" textLength="414.0" lengthAdjust="spacingAndGlyphs">compartments</text>
<text x="2181.5" y="2648.7" font-size="66" fill="#3f5590" textLength="599.0" lengthAdjust="spacingAndGlyphs">STRING interactions</text>
<text x="3434.6" y="2215.3" font-size="66" fill="#0f6b3f" textLength="224.6" lengthAdjust="spacingAndGlyphs">Protein</text>
<text x="3434.7" y="2300.2" font-size="66" fill="#0f6b3f" textLength="242.0" lengthAdjust="spacingAndGlyphs">Dataset</text>
<text x="3155.2" y="2469.3" font-size="66" fill="#3c2463" textLength="264.2" lengthAdjust="spacingAndGlyphs">RNAseq</text>
<text x="3155.3" y="2552.8" font-size="66" fill="#3c2463" textLength="242.0" lengthAdjust="spacingAndGlyphs">Dataset</text>
</svg></body></html>
